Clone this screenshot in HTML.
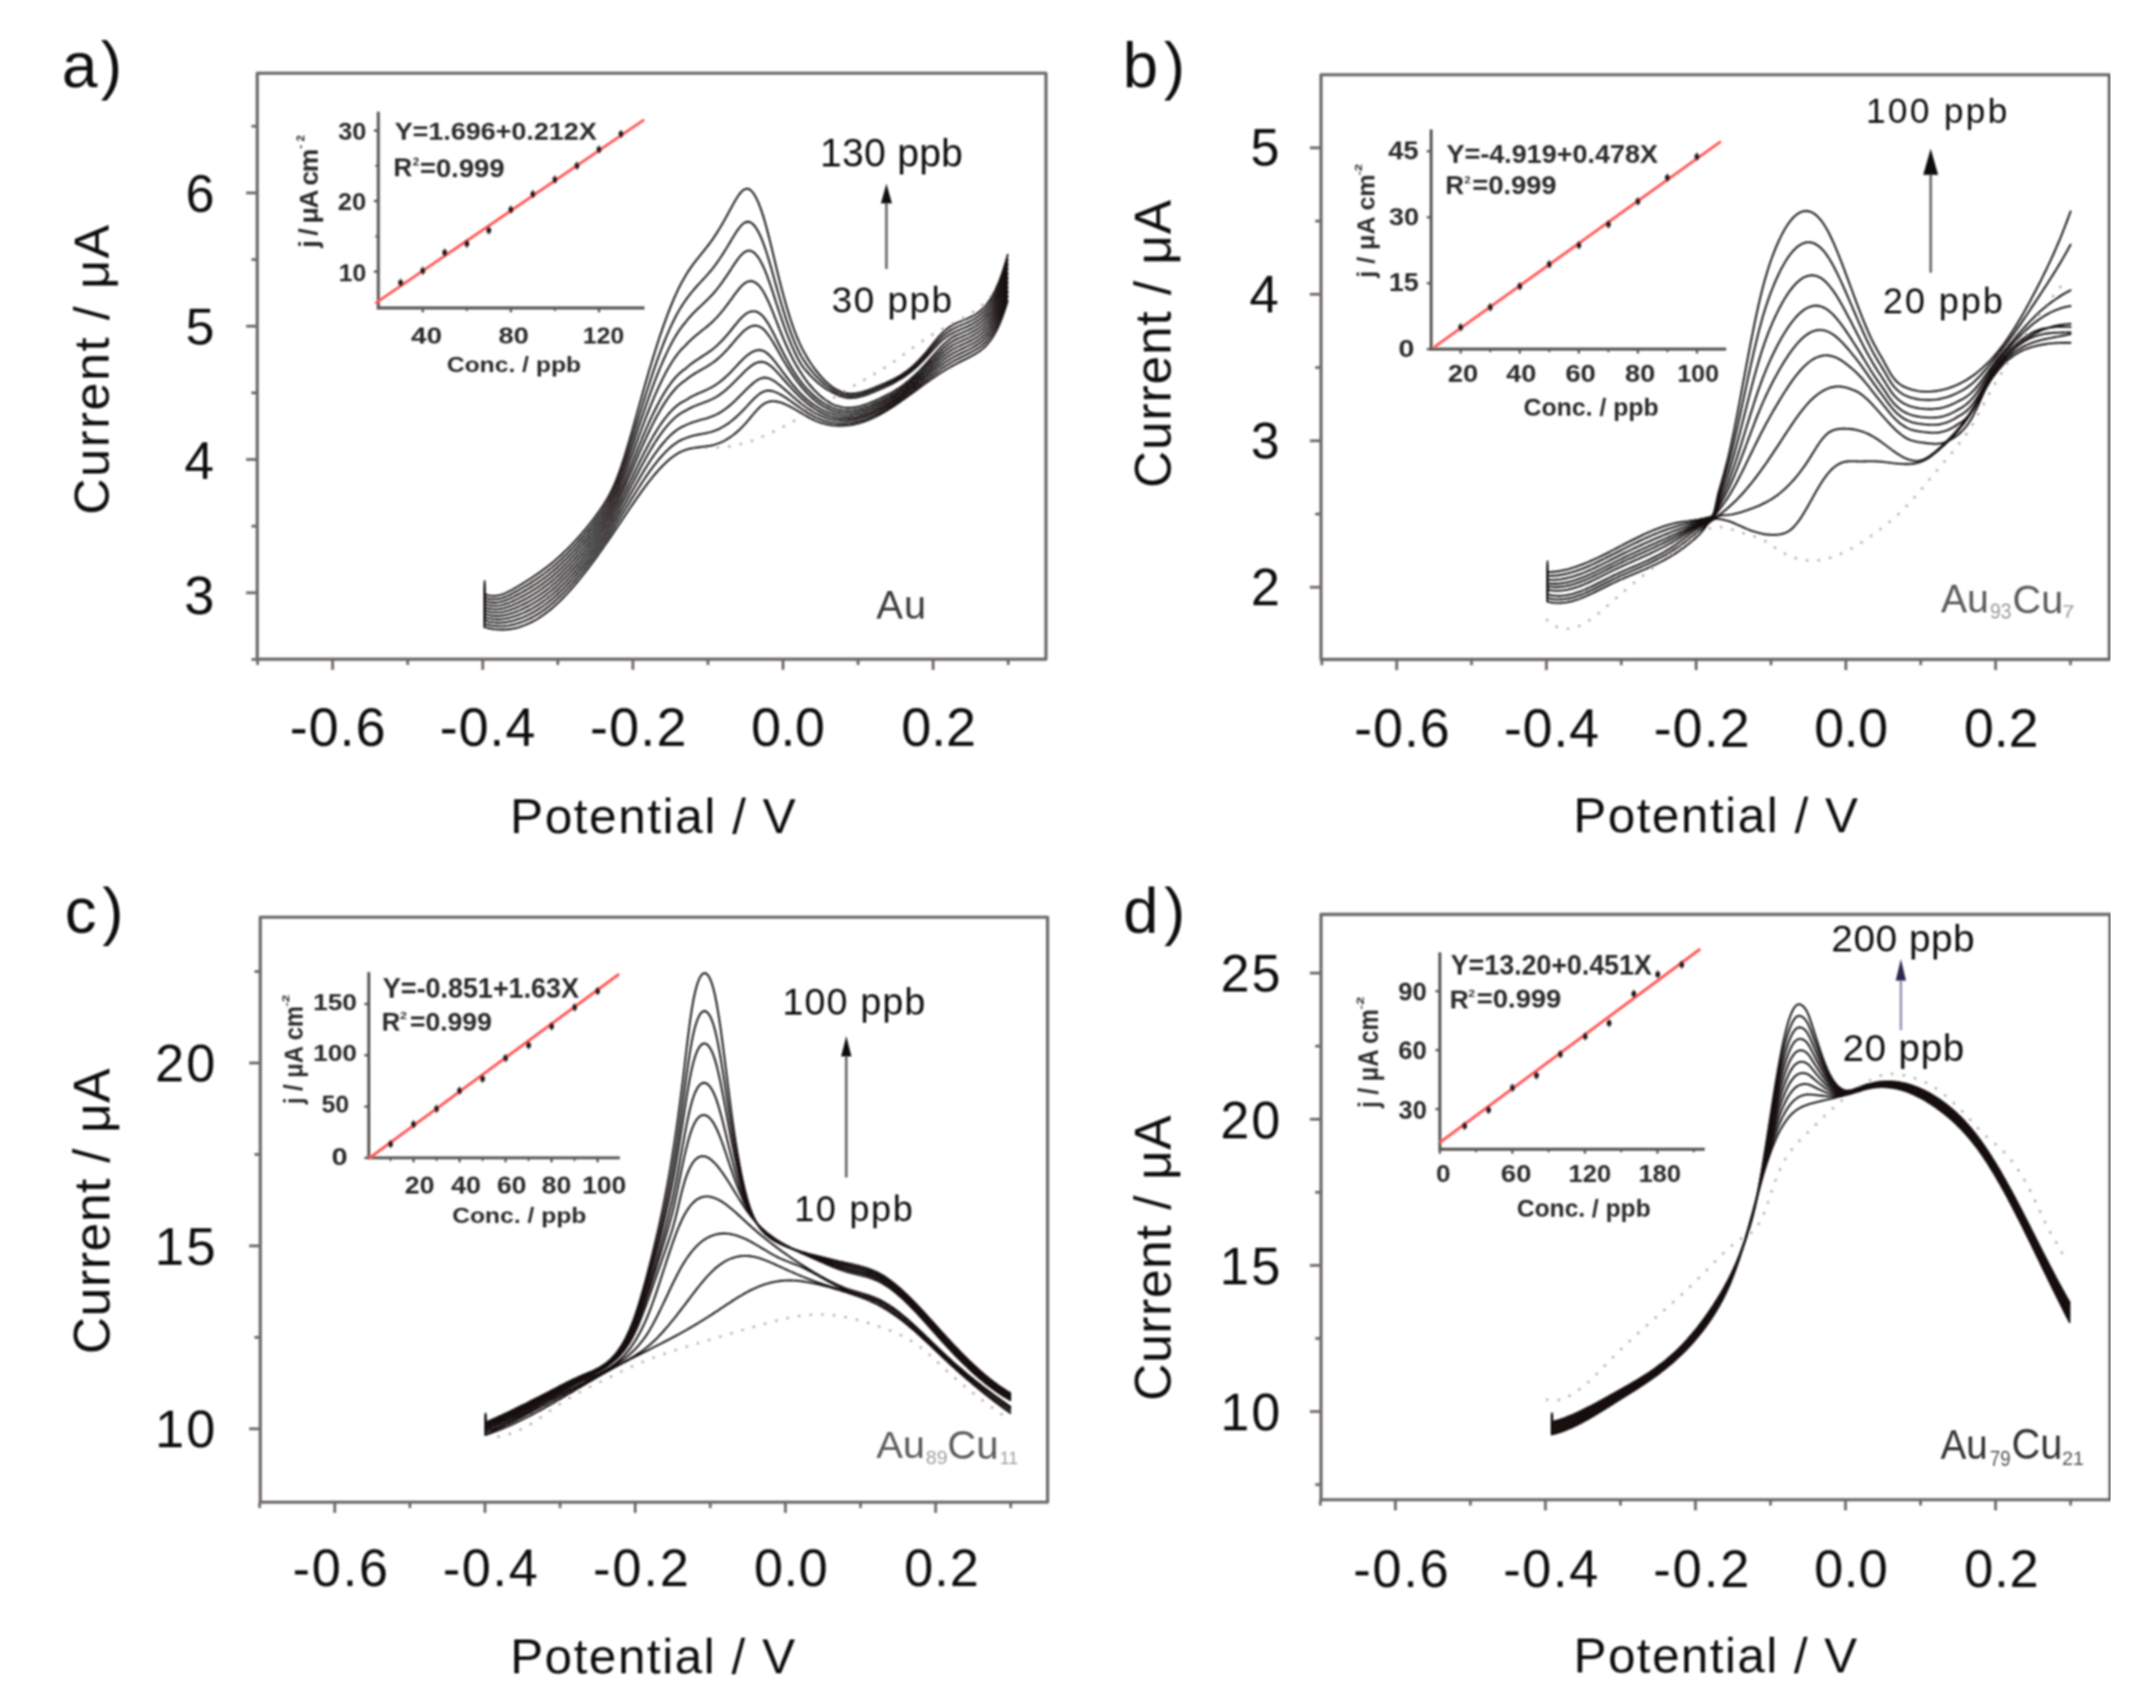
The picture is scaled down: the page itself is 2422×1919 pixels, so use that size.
<!DOCTYPE html><html><head><meta charset="utf-8"><style>html,body{margin:0;padding:0;background:#fff}svg{display:block}</style></head><body><svg width="2422" height="1919" viewBox="0 0 2422 1919">
<defs><filter id="bl" x="0" y="0" width="100%" height="100%"><feGaussianBlur stdDeviation="1.1"/></filter></defs>
<rect width="2422" height="1919" fill="#fff"/>
<g filter="url(#bl)">
<rect x="289" y="82.2" width="886" height="658.4" fill="none" stroke="#6f6b69" stroke-width="3.6" stroke-linejoin="round"/>
<line x1="373.65" y1="740.60" x2="373.65" y2="752.60" stroke="#6f6b69" stroke-width="3.2" stroke-linecap="butt" />
<line x1="542.30" y1="740.60" x2="542.30" y2="752.60" stroke="#6f6b69" stroke-width="3.2" stroke-linecap="butt" />
<line x1="710.95" y1="740.60" x2="710.95" y2="752.60" stroke="#6f6b69" stroke-width="3.2" stroke-linecap="butt" />
<line x1="879.60" y1="740.60" x2="879.60" y2="752.60" stroke="#6f6b69" stroke-width="3.2" stroke-linecap="butt" />
<line x1="1048.25" y1="740.60" x2="1048.25" y2="752.60" stroke="#6f6b69" stroke-width="3.2" stroke-linecap="butt" />
<line x1="289.33" y1="740.60" x2="289.33" y2="747.10" stroke="#6f6b69" stroke-width="3.2" stroke-linecap="butt" />
<line x1="457.98" y1="740.60" x2="457.98" y2="747.10" stroke="#6f6b69" stroke-width="3.2" stroke-linecap="butt" />
<line x1="626.62" y1="740.60" x2="626.62" y2="747.10" stroke="#6f6b69" stroke-width="3.2" stroke-linecap="butt" />
<line x1="795.27" y1="740.60" x2="795.27" y2="747.10" stroke="#6f6b69" stroke-width="3.2" stroke-linecap="butt" />
<line x1="963.93" y1="740.60" x2="963.93" y2="747.10" stroke="#6f6b69" stroke-width="3.2" stroke-linecap="butt" />
<line x1="1132.58" y1="740.60" x2="1132.58" y2="747.10" stroke="#6f6b69" stroke-width="3.2" stroke-linecap="butt" />
<line x1="289.00" y1="666.00" x2="276.50" y2="666.00" stroke="#6f6b69" stroke-width="3.2" stroke-linecap="butt" />
<line x1="289.00" y1="516.25" x2="276.50" y2="516.25" stroke="#6f6b69" stroke-width="3.2" stroke-linecap="butt" />
<line x1="289.00" y1="366.50" x2="276.50" y2="366.50" stroke="#6f6b69" stroke-width="3.2" stroke-linecap="butt" />
<line x1="289.00" y1="216.75" x2="276.50" y2="216.75" stroke="#6f6b69" stroke-width="3.2" stroke-linecap="butt" />
<line x1="289.00" y1="740.88" x2="282.50" y2="740.88" stroke="#6f6b69" stroke-width="3.2" stroke-linecap="butt" />
<line x1="289.00" y1="591.12" x2="282.50" y2="591.12" stroke="#6f6b69" stroke-width="3.2" stroke-linecap="butt" />
<line x1="289.00" y1="441.38" x2="282.50" y2="441.38" stroke="#6f6b69" stroke-width="3.2" stroke-linecap="butt" />
<line x1="289.00" y1="291.62" x2="282.50" y2="291.62" stroke="#6f6b69" stroke-width="3.2" stroke-linecap="butt" />
<line x1="289.00" y1="141.88" x2="282.50" y2="141.88" stroke="#6f6b69" stroke-width="3.2" stroke-linecap="butt" />
<text x="69.42" y="98.38" font-size="71.98" letter-spacing="3.80" font-family="Liberation Sans, Arial, sans-serif"  fill="#111" >a)</text>
<text x="208.49" y="238.42" font-size="58.31" letter-spacing="1.08" font-family="Liberation Sans, Arial, sans-serif"  fill="#111" >6</text>
<text x="208.55" y="386.62" font-size="58.14" letter-spacing="1.10" font-family="Liberation Sans, Arial, sans-serif"  fill="#111" >5</text>
<text x="207.13" y="538.00" font-size="59.57" letter-spacing="1.20" font-family="Liberation Sans, Arial, sans-serif"  fill="#111" >4</text>
<text x="207.11" y="690.19" font-size="60.85" letter-spacing="1.16" font-family="Liberation Sans, Arial, sans-serif"  fill="#111" >3</text>
<text x="325.47" y="838.29" font-size="60.56" letter-spacing="1.16" font-family="Liberation Sans, Arial, sans-serif"  fill="#111" >-0.6</text>
<text x="494.12" y="838.29" font-size="60.56" letter-spacing="0.96" font-family="Liberation Sans, Arial, sans-serif"  fill="#111" >-0.4</text>
<text x="662.77" y="838.29" font-size="60.56" letter-spacing="1.36" font-family="Liberation Sans, Arial, sans-serif"  fill="#111" >-0.2</text>
<text x="843.73" y="838.29" font-size="60.56" letter-spacing="-0.57" font-family="Liberation Sans, Arial, sans-serif"  fill="#111" >0.0</text>
<text x="1012.38" y="838.29" font-size="60.56" letter-spacing="-0.12" font-family="Liberation Sans, Arial, sans-serif"  fill="#111" >0.2</text>
<text x="573.05" y="935.74" font-size="55.65" letter-spacing="1.74" font-family="Liberation Sans, Arial, sans-serif"  fill="#111" >Potential / V</text>
<text transform="translate(122.11,578.21) rotate(-90)" font-size="56.28" letter-spacing="1.91" font-family="Liberation Sans, Arial, sans-serif"  fill="#111" >Current / μA</text>
<line x1="425.00" y1="125.50" x2="425.00" y2="347.50" stroke="#5b5754" stroke-width="3.4" stroke-linecap="butt" />
<line x1="423.50" y1="346.00" x2="724.00" y2="346.00" stroke="#5b5754" stroke-width="3.4" stroke-linecap="butt" />
<line x1="474.90" y1="346.00" x2="474.90" y2="351.00" stroke="#5b5754" stroke-width="2.6" stroke-linecap="butt" />
<line x1="573.90" y1="346.00" x2="573.90" y2="351.00" stroke="#5b5754" stroke-width="2.6" stroke-linecap="butt" />
<line x1="672.90" y1="346.00" x2="672.90" y2="351.00" stroke="#5b5754" stroke-width="2.6" stroke-linecap="butt" />
<line x1="524.40" y1="346.00" x2="524.40" y2="349.50" stroke="#5b5754" stroke-width="2.2" stroke-linecap="butt" />
<line x1="623.40" y1="346.00" x2="623.40" y2="349.50" stroke="#5b5754" stroke-width="2.2" stroke-linecap="butt" />
<line x1="425.00" y1="305.10" x2="420.00" y2="305.10" stroke="#5b5754" stroke-width="2.6" stroke-linecap="butt" />
<line x1="425.00" y1="225.90" x2="420.00" y2="225.90" stroke="#5b5754" stroke-width="2.6" stroke-linecap="butt" />
<line x1="425.00" y1="146.70" x2="420.00" y2="146.70" stroke="#5b5754" stroke-width="2.6" stroke-linecap="butt" />
<line x1="425.00" y1="265.50" x2="421.50" y2="265.50" stroke="#5b5754" stroke-width="2.2" stroke-linecap="butt" />
<line x1="425.00" y1="186.30" x2="421.50" y2="186.30" stroke="#5b5754" stroke-width="2.2" stroke-linecap="butt" />
<line x1="422.70" y1="340.00" x2="722.50" y2="135.30" stroke="#ff5a5a" stroke-width="3.2" stroke-linecap="round" />
<line x1="450.15" y1="313.20" x2="450.15" y2="322.20" stroke="#222" stroke-width="1.6" stroke-linecap="butt" />
<rect x="447.5" y="315.1" width="5.2" height="5.2" fill="#1a1a1a"/>
<line x1="474.90" y1="299.70" x2="474.90" y2="308.70" stroke="#222" stroke-width="1.6" stroke-linecap="butt" />
<rect x="472.3" y="301.6" width="5.2" height="5.2" fill="#1a1a1a"/>
<line x1="499.65" y1="279.40" x2="499.65" y2="288.40" stroke="#222" stroke-width="1.6" stroke-linecap="butt" />
<rect x="497.0" y="281.3" width="5.2" height="5.2" fill="#1a1a1a"/>
<line x1="524.40" y1="269.30" x2="524.40" y2="278.30" stroke="#222" stroke-width="1.6" stroke-linecap="butt" />
<rect x="521.8" y="271.2" width="5.2" height="5.2" fill="#1a1a1a"/>
<line x1="549.15" y1="254.30" x2="549.15" y2="263.30" stroke="#222" stroke-width="1.6" stroke-linecap="butt" />
<rect x="546.5" y="256.2" width="5.2" height="5.2" fill="#1a1a1a"/>
<line x1="573.90" y1="231.10" x2="573.90" y2="240.10" stroke="#222" stroke-width="1.6" stroke-linecap="butt" />
<rect x="571.3" y="233.0" width="5.2" height="5.2" fill="#1a1a1a"/>
<line x1="598.65" y1="213.70" x2="598.65" y2="222.70" stroke="#222" stroke-width="1.6" stroke-linecap="butt" />
<rect x="596.0" y="215.6" width="5.2" height="5.2" fill="#1a1a1a"/>
<line x1="623.40" y1="197.30" x2="623.40" y2="206.30" stroke="#222" stroke-width="1.6" stroke-linecap="butt" />
<rect x="620.8" y="199.2" width="5.2" height="5.2" fill="#1a1a1a"/>
<line x1="648.15" y1="181.80" x2="648.15" y2="190.80" stroke="#222" stroke-width="1.6" stroke-linecap="butt" />
<rect x="645.5" y="183.7" width="5.2" height="5.2" fill="#1a1a1a"/>
<line x1="672.90" y1="163.50" x2="672.90" y2="172.50" stroke="#222" stroke-width="1.6" stroke-linecap="butt" />
<rect x="670.3" y="165.4" width="5.2" height="5.2" fill="#1a1a1a"/>
<line x1="697.65" y1="146.10" x2="697.65" y2="155.10" stroke="#222" stroke-width="1.6" stroke-linecap="butt" />
<rect x="695.0" y="148.0" width="5.2" height="5.2" fill="#1a1a1a"/>
<text transform="translate(379.89,157.02) scale(1.0157,1)" font-size="27.89" font-family="Liberation Sans, Arial, sans-serif" font-weight="bold" fill="#2a2a2a" >30</text>
<text transform="translate(379.60,236.23) scale(1.0521,1)" font-size="27.18" font-family="Liberation Sans, Arial, sans-serif" font-weight="bold" fill="#2a2a2a" >20</text>
<text transform="translate(380.54,316.43) scale(1.0252,1)" font-size="27.04" font-family="Liberation Sans, Arial, sans-serif" font-weight="bold" fill="#2a2a2a" >10</text>
<text transform="translate(461.83,386.04) scale(1.2099,1)" font-size="25.77" font-family="Liberation Sans, Arial, sans-serif" font-weight="bold" fill="#2a2a2a" >40</text>
<text transform="translate(559.98,386.04) scale(1.1900,1)" font-size="25.77" font-family="Liberation Sans, Arial, sans-serif" font-weight="bold" fill="#2a2a2a" >80</text>
<text transform="translate(654.83,386.04) scale(1.0784,1)" font-size="25.77" font-family="Liberation Sans, Arial, sans-serif" font-weight="bold" fill="#2a2a2a" >120</text>
<text transform="translate(501.89,417.79) scale(1.1170,1)" font-size="24.81" font-family="Liberation Sans, Arial, sans-serif" font-weight="bold" fill="#2a2a2a" >Conc. / ppb</text>
<text transform="translate(443.40,157.02) scale(1.0842,1)" font-size="27.89" font-family="Liberation Sans, Arial, sans-serif" font-weight="bold" fill="#2a2a2a" >Y=1.696+0.212X</text>
<text transform="translate(442.11,198.30) scale(0.9711,1)" font-size="30.00" font-family="Liberation Sans, Arial, sans-serif" font-weight="bold" fill="#2a2a2a" >R</text>
<text transform="translate(463.85,186.30) scale(1.0393,1)" font-size="12.43" font-family="Liberation Sans, Arial, sans-serif" font-weight="bold" fill="#2a2a2a" >2</text>
<text transform="translate(471.77,198.60) scale(1.0266,1)" font-size="30.00" font-family="Liberation Sans, Arial, sans-serif" font-weight="bold" fill="#2a2a2a" >=0.999</text>
<text transform="translate(357.48,278.36) rotate(-90)" font-size="29.63" letter-spacing="-1.40" font-family="Liberation Sans, Arial, sans-serif" font-weight="bold" fill="#2a2a2a" >j / μA cm</text>
<text transform="translate(341.50,166.91) rotate(-90)" font-size="12.86" letter-spacing="3.69" font-family="Liberation Sans, Arial, sans-serif" font-weight="bold" fill="#2a2a2a" >-2</text>
<text x="921.33" y="186.94" font-size="43.64" letter-spacing="0.43" font-family="Liberation Sans, Arial, sans-serif"  fill="#111" >130 ppb</text>
<text x="934.14" y="351.11" font-size="41.39" letter-spacing="1.77" font-family="Liberation Sans, Arial, sans-serif"  fill="#111" >30 ppb</text>
<line x1="995.80" y1="227.40" x2="995.80" y2="302.20" stroke="#6d6966" stroke-width="3.0" stroke-linecap="butt" />
<polygon points="995.8,206.6 989.6,228.4 1002.0,228.4" fill="#111"/>
<text x="984.40" y="695.35" font-size="44.71" letter-spacing="1.26" font-family="Liberation Sans, Arial, sans-serif"  fill="#3a3a3a" >Au</text>
<path d="M780.0,502.5 L782.0,502.6 L784.0,502.6 L786.0,502.7 L788.0,502.7 L790.0,502.7 L792.0,502.8 L794.0,502.8 L796.0,502.8 L798.0,502.8 L800.0,502.8 L802.0,502.8 L804.0,502.7 L806.0,502.6 L808.0,502.5 L810.0,502.4 L812.0,502.3 L814.0,502.1 L816.0,501.9 L818.0,501.7 L820.0,501.4 L822.0,501.1 L824.0,500.7 L826.0,500.4 L828.0,500.0 L830.0,499.5 L832.0,499.0 L834.0,498.5 L836.0,498.0 L838.0,497.4 L840.0,496.7 L842.0,496.1 L844.0,495.4 L846.0,494.7 L848.0,494.0 L850.0,493.2 L852.0,492.4 L854.0,491.6 L856.0,490.8 L858.0,489.9 L860.0,489.0 L862.0,488.1 L864.0,487.2 L866.0,486.3 L868.0,485.3 L870.0,484.4 L872.0,483.4 L874.0,482.4 L876.0,481.4 L878.0,480.4 L880.0,479.3 L882.0,478.3 L884.0,477.2 L886.0,476.1 L888.0,475.1 L890.0,474.0 L892.0,472.9 L894.0,471.8 L896.0,470.6 L898.0,469.5 L900.0,468.4 L902.0,467.2 L904.0,466.1 L906.0,464.9 L908.0,463.7 L910.0,462.6 L912.0,461.4 L914.0,460.2 L916.0,459.0 L918.0,457.8 L920.0,456.6 L922.0,455.4 L924.0,454.2 L926.0,453.0 L928.0,451.9 L930.0,450.7 L932.0,449.5 L934.0,448.3 L936.0,447.1 L938.0,445.9 L940.0,444.7 L942.0,443.5 L944.0,442.3 L946.0,441.1 L948.0,439.9 L950.0,438.7 L952.0,437.6 L954.0,436.4 L956.0,435.2 L958.0,434.1 L960.0,432.9 L962.0,431.8 L964.0,430.7 L966.0,429.5 L968.0,428.4 L970.0,427.3 L972.0,426.1 L974.0,425.0 L976.0,423.8 L978.0,422.7 L980.0,421.5 L982.0,420.3 L984.0,419.1 L986.0,417.9 L988.0,416.7 L990.0,415.5 L992.0,414.2 L994.0,413.0 L996.0,411.7 L998.0,410.4 L1000.0,409.0 L1002.0,407.7 L1004.0,406.3 L1006.0,404.9 L1008.0,403.5 L1010.0,402.0 L1012.0,400.6 L1014.0,399.1 L1016.0,397.7 L1018.0,396.2 L1020.0,394.7 L1022.0,393.3 L1024.0,391.8 L1026.0,390.3 L1028.0,388.9 L1030.0,387.4 L1032.0,386.0 L1034.0,384.6 L1036.0,383.2 L1038.0,381.9 L1040.0,380.6 L1042.0,379.3 L1044.0,378.0 L1046.0,376.8 L1048.0,375.6 L1050.0,374.4 L1052.0,373.3 L1054.0,372.1 L1056.0,371.0 L1058.0,370.0 L1060.0,368.9 L1062.0,367.9 L1064.0,366.8 L1066.0,365.8 L1068.0,364.8 L1070.0,363.7 L1072.0,362.7 L1074.0,361.7 L1076.0,360.6 L1078.0,359.5 L1080.0,358.4 L1082.0,357.3 L1084.0,356.2 L1086.0,355.1 L1088.0,353.9 L1090.0,352.6 L1092.0,351.4 L1094.0,350.1 L1096.0,348.7 L1098.0,347.3 L1100.0,345.7 L1102.0,344.1 L1104.0,342.4 L1106.0,340.6 L1108.0,338.7 L1110.0,336.7 L1112.0,334.5 L1114.0,332.2 L1116.0,329.7 L1118.0,327.1 L1120.0,324.3 L1122.0,321.3 L1124.0,318.1 L1126.0,314.8 L1128.0,311.2 L1130.0,307.4 L1132.0,303.4" fill="none" stroke="#b9b6b4" stroke-width="3.2" stroke-dasharray="0.1 13" stroke-linecap="round"/>
<path d="M544.5,653.0 L544.0,667.0 L546.0,668.0 L548.0,668.7 L550.0,669.2 L552.0,669.5 L554.0,669.6 L556.0,669.6 L558.0,669.4 L560.0,669.0 L562.0,668.5 L564.0,667.9 L566.0,667.2 L568.0,666.4 L570.0,665.4 L572.0,664.4 L574.0,663.4 L576.0,662.3 L578.0,661.1 L580.0,659.9 L582.0,658.8 L584.0,657.6 L586.0,656.3 L588.0,655.1 L590.0,653.9 L592.0,652.6 L594.0,651.4 L596.0,650.1 L598.0,648.8 L600.0,647.4 L602.0,646.1 L604.0,644.7 L606.0,643.3 L608.0,641.9 L610.0,640.4 L612.0,638.9 L614.0,637.4 L616.0,635.8 L618.0,634.3 L620.0,632.6 L622.0,631.0 L624.0,629.2 L626.0,627.5 L628.0,625.7 L630.0,623.9 L632.0,622.0 L634.0,620.1 L636.0,618.2 L638.0,616.2 L640.0,614.2 L642.0,612.1 L644.0,610.0 L646.0,607.9 L648.0,605.7 L650.0,603.5 L652.0,601.2 L654.0,598.9 L656.0,596.5 L658.0,594.1 L660.0,591.7 L662.0,589.2 L664.0,586.7 L666.0,584.1 L668.0,581.4 L670.0,578.7 L672.0,575.9 L674.0,573.0 L676.0,570.1 L678.0,567.0 L680.0,563.8 L682.0,560.5 L684.0,556.9 L686.0,553.1 L688.0,549.0 L690.0,544.6 L692.0,539.8 L694.0,534.7 L696.0,529.3 L698.0,523.5 L700.0,517.5 L702.0,511.2 L704.0,504.6 L706.0,498.0 L708.0,491.1 L710.0,484.2 L712.0,477.1 L714.0,470.1 L716.0,462.9 L718.0,455.8 L720.0,448.7 L722.0,441.6 L724.0,434.5 L726.0,427.6 L728.0,420.6 L730.0,413.8 L732.0,407.2 L734.0,400.6 L736.0,394.2 L738.0,387.9 L740.0,381.7 L742.0,375.7 L744.0,369.8 L746.0,364.1 L748.0,358.6 L750.0,353.2 L752.0,348.0 L754.0,343.0 L756.0,338.1 L758.0,333.5 L760.0,329.1 L762.0,324.8 L764.0,320.8 L766.0,317.0 L768.0,313.4 L770.0,309.9 L772.0,306.7 L774.0,303.7 L776.0,300.7 L778.0,297.9 L780.0,295.2 L782.0,292.6 L784.0,290.1 L786.0,287.6 L788.0,285.1 L790.0,282.6 L792.0,280.1 L794.0,277.6 L796.0,275.0 L798.0,272.3 L800.0,269.6 L802.0,266.7 L804.0,263.7 L806.0,260.6 L808.0,257.3 L810.0,254.0 L812.0,250.5 L814.0,247.0 L816.0,243.4 L818.0,239.8 L820.0,236.1 L822.0,232.5 L824.0,228.8 L826.0,225.3 L828.0,222.0 L830.0,219.0 L832.0,216.5 L834.0,214.4 L836.0,212.9 L838.0,212.1 L840.0,212.1 L842.0,212.8 L844.0,214.4 L846.0,216.6 L848.0,219.7 L850.0,223.4 L852.0,227.8 L854.0,232.9 L856.0,238.6 L858.0,244.9 L860.0,251.8 L862.0,259.1 L864.0,266.9 L866.0,275.0 L868.0,283.2 L870.0,291.6 L872.0,299.9 L874.0,308.2 L876.0,316.3 L878.0,324.1 L880.0,331.6 L882.0,338.8 L884.0,345.8 L886.0,352.4 L888.0,358.7 L890.0,364.6 L892.0,370.3 L894.0,375.6 L896.0,380.5 L898.0,385.1 L900.0,389.4 L902.0,393.4 L904.0,397.1 L906.0,400.6 L908.0,403.9 L910.0,407.0 L912.0,410.0 L914.0,412.8 L916.0,415.5 L918.0,418.0 L920.0,420.5 L922.0,422.8 L924.0,425.0 L926.0,427.0 L928.0,428.9 L930.0,430.7 L932.0,432.4 L934.0,434.0 L936.0,435.4 L938.0,436.7 L940.0,437.8 L942.0,438.8 L944.0,439.7 L946.0,440.5 L948.0,441.1 L950.0,441.5 L952.0,441.9 L954.0,442.1 L956.0,442.2 L958.0,442.1 L960.0,442.0 L962.0,441.8 L964.0,441.4 L966.0,441.0 L968.0,440.5 L970.0,440.0 L972.0,439.3 L974.0,438.7 L976.0,438.0 L978.0,437.2 L980.0,436.4 L982.0,435.6 L984.0,434.8 L986.0,434.0 L988.0,433.1 L990.0,432.3 L992.0,431.4 L994.0,430.6 L996.0,429.7 L998.0,428.8 L1000.0,427.9 L1002.0,426.9 L1004.0,425.9 L1006.0,424.8 L1008.0,423.7 L1010.0,422.6 L1012.0,421.4 L1014.0,420.1 L1016.0,418.7 L1018.0,417.3 L1020.0,415.8 L1022.0,414.2 L1024.0,412.5 L1026.0,410.8 L1028.0,408.9 L1030.0,407.0 L1032.0,404.9 L1034.0,402.8 L1036.0,400.7 L1038.0,398.4 L1040.0,396.1 L1042.0,393.7 L1044.0,391.2 L1046.0,388.7 L1048.0,386.2 L1050.0,383.7 L1052.0,381.3 L1054.0,378.9 L1056.0,376.7 L1058.0,374.6 L1060.0,372.6 L1062.0,370.8 L1064.0,369.3 L1066.0,367.8 L1068.0,366.5 L1070.0,365.4 L1072.0,364.3 L1074.0,363.3 L1076.0,362.4 L1078.0,361.6 L1080.0,360.7 L1082.0,359.9 L1084.0,359.1 L1086.0,358.3 L1088.0,357.4 L1090.0,356.5 L1092.0,355.4 L1094.0,354.3 L1096.0,353.1 L1098.0,351.8 L1100.0,350.3 L1102.0,348.6 L1104.0,346.8 L1106.0,344.7 L1108.0,342.4 L1110.0,339.8 L1112.0,336.9 L1114.0,333.6 L1116.0,330.1 L1118.0,326.1 L1120.0,321.8 L1122.0,317.1 L1124.0,311.9 L1126.0,306.3 L1128.0,300.1 L1130.0,293.5 L1132.0,286.3" fill="none" stroke="#161212" stroke-opacity="1.0" stroke-width="2.1" stroke-linejoin="round" stroke-linecap="round" />
<path d="M544.5,656.8 L544.0,670.8 L546.0,671.7 L548.0,672.4 L550.0,672.9 L552.0,673.2 L554.0,673.4 L556.0,673.3 L558.0,673.2 L560.0,672.9 L562.0,672.4 L564.0,671.9 L566.0,671.2 L568.0,670.5 L570.0,669.6 L572.0,668.7 L574.0,667.7 L576.0,666.7 L578.0,665.6 L580.0,664.5 L582.0,663.4 L584.0,662.2 L586.0,661.1 L588.0,659.9 L590.0,658.7 L592.0,657.5 L594.0,656.3 L596.0,655.0 L598.0,653.7 L600.0,652.4 L602.0,651.1 L604.0,649.7 L606.0,648.4 L608.0,646.9 L610.0,645.5 L612.0,644.0 L614.0,642.5 L616.0,640.9 L618.0,639.3 L620.0,637.7 L622.0,636.0 L624.0,634.3 L626.0,632.6 L628.0,630.8 L630.0,628.9 L632.0,627.0 L634.0,625.1 L636.0,623.2 L638.0,621.2 L640.0,619.1 L642.0,617.1 L644.0,614.9 L646.0,612.8 L648.0,610.6 L650.0,608.3 L652.0,606.0 L654.0,603.7 L656.0,601.4 L658.0,598.9 L660.0,596.5 L662.0,594.0 L664.0,591.4 L666.0,588.8 L668.0,586.1 L670.0,583.4 L672.0,580.6 L674.0,577.8 L676.0,574.8 L678.0,571.8 L680.0,568.6 L682.0,565.3 L684.0,561.8 L686.0,558.1 L688.0,554.1 L690.0,549.9 L692.0,545.4 L694.0,540.5 L696.0,535.4 L698.0,530.0 L700.0,524.3 L702.0,518.4 L704.0,512.4 L706.0,506.2 L708.0,499.8 L710.0,493.4 L712.0,486.9 L714.0,480.4 L716.0,473.9 L718.0,467.3 L720.0,460.8 L722.0,454.3 L724.0,447.9 L726.0,441.5 L728.0,435.3 L730.0,429.1 L732.0,423.1 L734.0,417.1 L736.0,411.3 L738.0,405.7 L740.0,400.2 L742.0,394.8 L744.0,389.6 L746.0,384.5 L748.0,379.6 L750.0,374.9 L752.0,370.3 L754.0,365.9 L756.0,361.7 L758.0,357.7 L760.0,353.8 L762.0,350.2 L764.0,346.8 L766.0,343.6 L768.0,340.5 L770.0,337.7 L772.0,334.9 L774.0,332.2 L776.0,329.6 L778.0,327.1 L780.0,324.8 L782.0,322.5 L784.0,320.3 L786.0,318.1 L788.0,315.9 L790.0,313.7 L792.0,311.6 L794.0,309.4 L796.0,307.1 L798.0,304.8 L800.0,302.3 L802.0,299.8 L804.0,297.2 L806.0,294.4 L808.0,291.5 L810.0,288.5 L812.0,285.4 L814.0,282.2 L816.0,279.0 L818.0,275.7 L820.0,272.4 L822.0,269.0 L824.0,265.7 L826.0,262.5 L828.0,259.4 L830.0,256.6 L832.0,254.1 L834.0,252.0 L836.0,250.5 L838.0,249.5 L840.0,249.1 L842.0,249.4 L844.0,250.4 L846.0,252.0 L848.0,254.3 L850.0,257.2 L852.0,260.6 L854.0,264.7 L856.0,269.4 L858.0,274.6 L860.0,280.3 L862.0,286.5 L864.0,293.1 L866.0,299.9 L868.0,307.0 L870.0,314.2 L872.0,321.4 L874.0,328.5 L876.0,335.5 L878.0,342.3 L880.0,348.9 L882.0,355.2 L884.0,361.3 L886.0,367.1 L888.0,372.6 L890.0,377.9 L892.0,382.9 L894.0,387.6 L896.0,392.0 L898.0,396.1 L900.0,400.0 L902.0,403.3 L904.0,406.4 L906.0,409.3 L908.0,412.0 L910.0,414.6 L912.0,417.1 L914.0,419.4 L916.0,421.7 L918.0,423.8 L920.0,425.9 L922.0,427.8 L924.0,429.6 L926.0,431.4 L928.0,433.0 L930.0,434.5 L932.0,435.9 L934.0,437.1 L936.0,438.4 L938.0,439.6 L940.0,440.7 L942.0,441.6 L944.0,442.4 L946.0,443.1 L948.0,443.7 L950.0,444.1 L952.0,444.4 L954.0,444.6 L956.0,444.6 L958.0,444.6 L960.0,444.4 L962.0,444.2 L964.0,443.8 L966.0,443.4 L968.0,442.9 L970.0,442.3 L972.0,441.7 L974.0,441.0 L976.0,440.3 L978.0,439.6 L980.0,438.8 L982.0,437.9 L984.0,437.1 L986.0,436.3 L988.0,435.4 L990.0,434.6 L992.0,433.7 L994.0,432.8 L996.0,431.9 L998.0,431.0 L1000.0,430.0 L1002.0,429.1 L1004.0,428.0 L1006.0,427.0 L1008.0,425.8 L1010.0,424.7 L1012.0,423.5 L1014.0,422.2 L1016.0,420.9 L1018.0,419.5 L1020.0,418.0 L1022.0,416.5 L1024.0,414.8 L1026.0,413.1 L1028.0,411.3 L1030.0,409.4 L1032.0,407.5 L1034.0,405.5 L1036.0,403.4 L1038.0,401.2 L1040.0,399.0 L1042.0,396.7 L1044.0,394.4 L1046.0,392.0 L1048.0,389.6 L1050.0,387.3 L1052.0,385.0 L1054.0,382.8 L1056.0,380.6 L1058.0,378.7 L1060.0,376.8 L1062.0,375.1 L1064.0,373.6 L1066.0,372.3 L1068.0,371.0 L1070.0,369.9 L1072.0,368.9 L1074.0,367.9 L1076.0,366.9 L1078.0,366.1 L1080.0,365.2 L1082.0,364.4 L1084.0,363.6 L1086.0,362.7 L1088.0,361.8 L1090.0,360.9 L1092.0,359.9 L1094.0,358.8 L1096.0,357.6 L1098.0,356.2 L1100.0,354.7 L1102.0,353.1 L1104.0,351.3 L1106.0,349.2 L1108.0,346.9 L1110.0,344.3 L1112.0,341.5 L1114.0,338.3 L1116.0,334.8 L1118.0,330.9 L1120.0,326.7 L1122.0,322.0 L1124.0,316.8 L1126.0,311.3 L1128.0,305.2 L1130.0,298.6 L1132.0,291.5" fill="none" stroke="#161212" stroke-opacity="1.0" stroke-width="2.1" stroke-linejoin="round" stroke-linecap="round" />
<path d="M544.5,660.5 L544.0,674.5 L546.0,675.4 L548.0,676.1 L550.0,676.6 L552.0,676.9 L554.0,677.1 L556.0,677.1 L558.0,677.0 L560.0,676.7 L562.0,676.3 L564.0,675.8 L566.0,675.2 L568.0,674.5 L570.0,673.8 L572.0,672.9 L574.0,672.0 L576.0,671.1 L578.0,670.1 L580.0,669.0 L582.0,668.0 L584.0,666.9 L586.0,665.8 L588.0,664.7 L590.0,663.5 L592.0,662.4 L594.0,661.2 L596.0,660.0 L598.0,658.7 L600.0,657.4 L602.0,656.1 L604.0,654.8 L606.0,653.4 L608.0,652.0 L610.0,650.6 L612.0,649.1 L614.0,647.6 L616.0,646.0 L618.0,644.4 L620.0,642.8 L622.0,641.1 L624.0,639.4 L626.0,637.6 L628.0,635.8 L630.0,634.0 L632.0,632.1 L634.0,630.1 L636.0,628.2 L638.0,626.1 L640.0,624.1 L642.0,622.0 L644.0,619.9 L646.0,617.7 L648.0,615.5 L650.0,613.2 L652.0,610.9 L654.0,608.5 L656.0,606.2 L658.0,603.7 L660.0,601.3 L662.0,598.7 L664.0,596.2 L666.0,593.6 L668.0,590.9 L670.0,588.1 L672.0,585.4 L674.0,582.5 L676.0,579.6 L678.0,576.6 L680.0,573.5 L682.0,570.2 L684.0,566.8 L686.0,563.1 L688.0,559.3 L690.0,555.2 L692.0,550.9 L694.0,546.3 L696.0,541.4 L698.0,536.3 L700.0,531.0 L702.0,525.5 L704.0,519.9 L706.0,514.1 L708.0,508.2 L710.0,502.3 L712.0,496.3 L714.0,490.2 L716.0,484.2 L718.0,478.2 L720.0,472.2 L722.0,466.3 L724.0,460.4 L726.0,454.6 L728.0,448.9 L730.0,443.3 L732.0,437.8 L734.0,432.4 L736.0,427.2 L738.0,422.1 L740.0,417.1 L742.0,412.2 L744.0,407.6 L746.0,403.0 L748.0,398.6 L750.0,394.4 L752.0,390.4 L754.0,386.5 L756.0,382.8 L758.0,379.3 L760.0,375.9 L762.0,372.8 L764.0,369.8 L766.0,367.1 L768.0,364.5 L770.0,362.2 L772.0,359.6 L774.0,357.2 L776.0,355.0 L778.0,352.8 L780.0,350.8 L782.0,348.8 L784.0,346.8 L786.0,344.9 L788.0,343.0 L790.0,341.2 L792.0,339.3 L794.0,337.3 L796.0,335.4 L798.0,333.3 L800.0,331.2 L802.0,329.0 L804.0,326.6 L806.0,324.1 L808.0,321.6 L810.0,318.9 L812.0,316.1 L814.0,313.2 L816.0,310.3 L818.0,307.3 L820.0,304.3 L822.0,301.2 L824.0,298.2 L826.0,295.2 L828.0,292.3 L830.0,289.6 L832.0,287.2 L834.0,285.2 L836.0,283.5 L838.0,282.4 L840.0,281.7 L842.0,281.6 L844.0,282.1 L846.0,283.2 L848.0,284.7 L850.0,286.9 L852.0,289.5 L854.0,292.7 L856.0,296.5 L858.0,300.7 L860.0,305.4 L862.0,310.6 L864.0,316.1 L866.0,321.9 L868.0,327.9 L870.0,334.1 L872.0,340.3 L874.0,346.4 L876.0,352.5 L878.0,358.4 L880.0,364.1 L882.0,369.6 L884.0,375.0 L886.0,380.1 L888.0,384.9 L890.0,389.6 L892.0,394.0 L894.0,398.2 L896.0,402.2 L898.0,405.9 L900.0,409.3 L902.0,412.0 L904.0,414.6 L906.0,417.0 L908.0,419.3 L910.0,421.5 L912.0,423.5 L914.0,425.5 L916.0,427.4 L918.0,429.2 L920.0,430.9 L922.0,432.5 L924.0,434.1 L926.0,435.5 L928.0,436.8 L930.0,438.1 L932.0,439.2 L934.0,440.3 L936.0,441.3 L938.0,442.5 L940.0,443.5 L942.0,444.4 L944.0,445.1 L946.0,445.8 L948.0,446.3 L950.0,446.7 L952.0,446.9 L954.0,447.1 L956.0,447.1 L958.0,447.0 L960.0,446.9 L962.0,446.6 L964.0,446.2 L966.0,445.8 L968.0,445.3 L970.0,444.7 L972.0,444.1 L974.0,443.4 L976.0,442.7 L978.0,441.9 L980.0,441.1 L982.0,440.3 L984.0,439.4 L986.0,438.6 L988.0,437.7 L990.0,436.9 L992.0,436.0 L994.0,435.1 L996.0,434.1 L998.0,433.2 L1000.0,432.2 L1002.0,431.2 L1004.0,430.2 L1006.0,429.1 L1008.0,427.9 L1010.0,426.7 L1012.0,425.6 L1014.0,424.3 L1016.0,423.0 L1018.0,421.7 L1020.0,420.2 L1022.0,418.7 L1024.0,417.1 L1026.0,415.5 L1028.0,413.7 L1030.0,411.9 L1032.0,410.0 L1034.0,408.1 L1036.0,406.1 L1038.0,404.0 L1040.0,401.9 L1042.0,399.8 L1044.0,397.5 L1046.0,395.3 L1048.0,393.1 L1050.0,390.9 L1052.0,388.7 L1054.0,386.6 L1056.0,384.6 L1058.0,382.7 L1060.0,381.0 L1062.0,379.4 L1064.0,378.0 L1066.0,376.7 L1068.0,375.6 L1070.0,374.5 L1072.0,373.4 L1074.0,372.4 L1076.0,371.5 L1078.0,370.6 L1080.0,369.7 L1082.0,368.9 L1084.0,368.0 L1086.0,367.2 L1088.0,366.3 L1090.0,365.3 L1092.0,364.3 L1094.0,363.2 L1096.0,362.0 L1098.0,360.7 L1100.0,359.2 L1102.0,357.6 L1104.0,355.8 L1106.0,353.7 L1108.0,351.5 L1110.0,348.9 L1112.0,346.1 L1114.0,343.0 L1116.0,339.5 L1118.0,335.7 L1120.0,331.5 L1122.0,326.9 L1124.0,321.8 L1126.0,316.3 L1128.0,310.2 L1130.0,303.7 L1132.0,296.6" fill="none" stroke="#161212" stroke-opacity="1.0" stroke-width="2.1" stroke-linejoin="round" stroke-linecap="round" />
<path d="M544.5,664.3 L544.0,678.3 L546.0,679.1 L548.0,679.7 L550.0,680.2 L552.0,680.6 L554.0,680.8 L556.0,680.8 L558.0,680.7 L560.0,680.5 L562.0,680.2 L564.0,679.8 L566.0,679.3 L568.0,678.6 L570.0,677.9 L572.0,677.2 L574.0,676.4 L576.0,675.5 L578.0,674.5 L580.0,673.6 L582.0,672.6 L584.0,671.6 L586.0,670.5 L588.0,669.5 L590.0,668.4 L592.0,667.2 L594.0,666.1 L596.0,664.9 L598.0,663.7 L600.0,662.4 L602.0,661.1 L604.0,659.8 L606.0,658.5 L608.0,657.1 L610.0,655.6 L612.0,654.2 L614.0,652.6 L616.0,651.1 L618.0,649.5 L620.0,647.9 L622.0,646.2 L624.0,644.4 L626.0,642.7 L628.0,640.8 L630.0,639.0 L632.0,637.1 L634.0,635.1 L636.0,633.2 L638.0,631.1 L640.0,629.0 L642.0,626.9 L644.0,624.8 L646.0,622.6 L648.0,620.3 L650.0,618.1 L652.0,615.7 L654.0,613.4 L656.0,611.0 L658.0,608.5 L660.0,606.0 L662.0,603.5 L664.0,600.9 L666.0,598.3 L668.0,595.6 L670.0,592.9 L672.0,590.1 L674.0,587.3 L676.0,584.4 L678.0,581.4 L680.0,578.3 L682.0,575.1 L684.0,571.7 L686.0,568.1 L688.0,564.4 L690.0,560.4 L692.0,556.4 L694.0,552.0 L696.0,547.5 L698.0,542.7 L700.0,537.8 L702.0,532.7 L704.0,527.5 L706.0,522.1 L708.0,516.7 L710.0,511.3 L712.0,505.8 L714.0,500.3 L716.0,494.9 L718.0,489.4 L720.0,484.0 L722.0,478.6 L724.0,473.3 L726.0,468.1 L728.0,463.0 L730.0,458.0 L732.0,453.1 L734.0,448.3 L736.0,443.6 L738.0,439.1 L740.0,434.7 L742.0,430.5 L744.0,426.4 L746.0,422.4 L748.0,418.6 L750.0,415.0 L752.0,411.5 L754.0,408.2 L756.0,405.0 L758.0,402.1 L760.0,399.3 L762.0,396.7 L764.0,394.3 L766.0,392.0 L768.0,390.0 L770.0,388.2 L772.0,386.0 L774.0,383.9 L776.0,382.0 L778.0,380.2 L780.0,378.4 L782.0,376.7 L784.0,375.1 L786.0,373.5 L788.0,371.9 L790.0,370.3 L792.0,368.7 L794.0,367.1 L796.0,365.4 L798.0,363.7 L800.0,361.9 L802.0,360.0 L804.0,357.9 L806.0,355.8 L808.0,353.6 L810.0,351.2 L812.0,348.8 L814.0,346.2 L816.0,343.6 L818.0,341.0 L820.0,338.2 L822.0,335.5 L824.0,332.7 L826.0,329.9 L828.0,327.3 L830.0,324.8 L832.0,322.5 L834.0,320.4 L836.0,318.7 L838.0,317.3 L840.0,316.4 L842.0,315.9 L844.0,315.9 L846.0,316.3 L848.0,317.2 L850.0,318.5 L852.0,320.3 L854.0,322.5 L856.0,325.3 L858.0,328.5 L860.0,332.2 L862.0,336.2 L864.0,340.6 L866.0,345.3 L868.0,350.2 L870.0,355.3 L872.0,360.4 L874.0,365.5 L876.0,370.6 L878.0,375.5 L880.0,380.3 L882.0,385.0 L884.0,389.5 L886.0,393.8 L888.0,398.0 L890.0,402.0 L892.0,405.9 L894.0,409.5 L896.0,412.9 L898.0,416.2 L900.0,419.2 L902.0,422.3 L904.0,425.2 L906.0,428.0 L908.0,430.6 L910.0,433.0 L912.0,435.3 L914.0,437.5 L916.0,439.6 L918.0,441.6 L920.0,443.5 L922.0,445.3 L924.0,446.9 L926.0,448.5 L928.0,449.9 L930.0,451.2 L932.0,452.5 L934.0,453.6 L936.0,454.6 L938.0,455.4 L940.0,456.1 L942.0,456.6 L944.0,457.1 L946.0,457.5 L948.0,457.8 L950.0,458.0 L952.0,458.1 L954.0,458.1 L956.0,458.0 L958.0,457.9 L960.0,457.6 L962.0,457.3 L964.0,456.9 L966.0,456.4 L968.0,455.8 L970.0,455.2 L972.0,454.6 L974.0,453.9 L976.0,453.1 L978.0,452.3 L980.0,451.5 L982.0,450.7 L984.0,449.8 L986.0,448.9 L988.0,447.9 L990.0,447.0 L992.0,446.0 L994.0,445.0 L996.0,444.0 L998.0,442.9 L1000.0,441.9 L1002.0,440.8 L1004.0,439.6 L1006.0,438.4 L1008.0,437.2 L1010.0,436.0 L1012.0,434.5 L1014.0,433.0 L1016.0,431.5 L1018.0,429.9 L1020.0,428.3 L1022.0,426.6 L1024.0,424.9 L1026.0,423.1 L1028.0,421.2 L1030.0,419.3 L1032.0,417.4 L1034.0,415.3 L1036.0,413.3 L1038.0,411.2 L1040.0,409.0 L1042.0,406.8 L1044.0,404.5 L1046.0,402.2 L1048.0,399.9 L1050.0,397.6 L1052.0,395.4 L1054.0,393.1 L1056.0,391.0 L1058.0,388.9 L1060.0,387.0 L1062.0,385.2 L1064.0,383.5 L1066.0,381.9 L1068.0,380.4 L1070.0,379.0 L1072.0,378.0 L1074.0,377.0 L1076.0,376.0 L1078.0,375.1 L1080.0,374.2 L1082.0,373.4 L1084.0,372.5 L1086.0,371.6 L1088.0,370.7 L1090.0,369.7 L1092.0,368.7 L1094.0,367.6 L1096.0,366.4 L1098.0,365.1 L1100.0,363.6 L1102.0,362.0 L1104.0,360.3 L1106.0,358.3 L1108.0,356.0 L1110.0,353.5 L1112.0,350.8 L1114.0,347.7 L1116.0,344.3 L1118.0,340.5 L1120.0,336.3 L1122.0,331.8 L1124.0,326.7 L1126.0,321.3 L1128.0,315.3 L1130.0,308.8 L1132.0,301.8" fill="none" stroke="#161212" stroke-opacity="1.0" stroke-width="2.1" stroke-linejoin="round" stroke-linecap="round" />
<path d="M544.5,668.0 L544.0,682.0 L546.0,682.8 L548.0,683.4 L550.0,683.9 L552.0,684.3 L554.0,684.5 L556.0,684.6 L558.0,684.5 L560.0,684.4 L562.0,684.1 L564.0,683.7 L566.0,683.3 L568.0,682.7 L570.0,682.1 L572.0,681.4 L574.0,680.7 L576.0,679.9 L578.0,679.0 L580.0,678.1 L582.0,677.2 L584.0,676.2 L586.0,675.3 L588.0,674.2 L590.0,673.2 L592.0,672.1 L594.0,671.0 L596.0,669.8 L598.0,668.6 L600.0,667.4 L602.0,666.2 L604.0,664.9 L606.0,663.5 L608.0,662.1 L610.0,660.7 L612.0,659.2 L614.0,657.7 L616.0,656.2 L618.0,654.6 L620.0,652.9 L622.0,651.2 L624.0,649.5 L626.0,647.7 L628.0,645.9 L630.0,644.0 L632.0,642.1 L634.0,640.1 L636.0,638.1 L638.0,636.1 L640.0,634.0 L642.0,631.9 L644.0,629.7 L646.0,627.5 L648.0,625.2 L650.0,622.9 L652.0,620.6 L654.0,618.2 L656.0,615.8 L658.0,613.3 L660.0,610.8 L662.0,608.3 L664.0,605.7 L666.0,603.1 L668.0,600.4 L670.0,597.6 L672.0,594.9 L674.0,592.0 L676.0,589.1 L678.0,586.2 L680.0,583.1 L682.0,579.9 L684.0,576.6 L686.0,573.2 L688.0,569.5 L690.0,565.7 L692.0,561.9 L694.0,557.8 L696.0,553.5 L698.0,549.1 L700.0,544.6 L702.0,539.9 L704.0,535.1 L706.0,530.2 L708.0,525.3 L710.0,520.3 L712.0,515.4 L714.0,510.4 L716.0,505.5 L718.0,500.6 L720.0,495.8 L722.0,491.0 L724.0,486.3 L726.0,481.6 L728.0,477.1 L730.0,472.7 L732.0,468.4 L734.0,464.2 L736.0,460.2 L738.0,456.2 L740.0,452.4 L742.0,448.8 L744.0,445.3 L746.0,441.9 L748.0,438.7 L750.0,435.7 L752.0,432.8 L754.0,430.0 L756.0,427.4 L758.0,425.0 L760.0,422.8 L762.0,420.8 L764.0,418.9 L766.0,417.2 L768.0,415.7 L770.0,414.4 L772.0,412.5 L774.0,410.8 L776.0,409.2 L778.0,407.7 L780.0,406.3 L782.0,404.9 L784.0,403.6 L786.0,402.3 L788.0,401.0 L790.0,399.7 L792.0,398.4 L794.0,397.1 L796.0,395.7 L798.0,394.3 L800.0,392.8 L802.0,391.2 L804.0,389.5 L806.0,387.7 L808.0,385.8 L810.0,383.8 L812.0,381.7 L814.0,379.5 L816.0,377.2 L818.0,374.9 L820.0,372.5 L822.0,370.0 L824.0,367.5 L826.0,365.0 L828.0,362.6 L830.0,360.2 L832.0,358.0 L834.0,356.0 L836.0,354.2 L838.0,352.6 L840.0,351.4 L842.0,350.4 L844.0,349.9 L846.0,349.7 L848.0,349.8 L850.0,350.3 L852.0,351.3 L854.0,352.6 L856.0,354.3 L858.0,356.5 L860.0,359.1 L862.0,362.1 L864.0,365.3 L866.0,368.9 L868.0,372.7 L870.0,376.6 L872.0,380.6 L874.0,384.7 L876.0,388.7 L878.0,392.7 L880.0,396.6 L882.0,400.4 L884.0,404.1 L886.0,407.7 L888.0,411.2 L890.0,414.6 L892.0,417.8 L894.0,420.9 L896.0,423.8 L898.0,426.6 L900.0,429.2 L902.0,431.8 L904.0,434.2 L906.0,436.4 L908.0,438.6 L910.0,440.6 L912.0,442.6 L914.0,444.4 L916.0,446.1 L918.0,447.8 L920.0,449.3 L922.0,450.8 L924.0,452.2 L926.0,453.4 L928.0,454.6 L930.0,455.7 L932.0,456.7 L934.0,457.6 L936.0,458.4 L938.0,459.1 L940.0,459.7 L942.0,460.2 L944.0,460.6 L946.0,461.0 L948.0,461.2 L950.0,461.3 L952.0,461.4 L954.0,461.3 L956.0,461.2 L958.0,461.0 L960.0,460.7 L962.0,460.4 L964.0,460.0 L966.0,459.5 L968.0,458.9 L970.0,458.3 L972.0,457.6 L974.0,456.9 L976.0,456.2 L978.0,455.4 L980.0,454.5 L982.0,453.7 L984.0,452.8 L986.0,451.8 L988.0,450.9 L990.0,449.9 L992.0,448.9 L994.0,447.9 L996.0,446.9 L998.0,445.8 L1000.0,444.7 L1002.0,443.5 L1004.0,442.4 L1006.0,441.2 L1008.0,439.9 L1010.0,438.6 L1012.0,437.2 L1014.0,435.7 L1016.0,434.2 L1018.0,432.6 L1020.0,431.0 L1022.0,429.3 L1024.0,427.6 L1026.0,425.9 L1028.0,424.1 L1030.0,422.2 L1032.0,420.3 L1034.0,418.4 L1036.0,416.4 L1038.0,414.3 L1040.0,412.3 L1042.0,410.1 L1044.0,408.0 L1046.0,405.8 L1048.0,403.6 L1050.0,401.5 L1052.0,399.3 L1054.0,397.2 L1056.0,395.2 L1058.0,393.2 L1060.0,391.3 L1062.0,389.6 L1064.0,388.0 L1066.0,386.4 L1068.0,385.0 L1070.0,383.6 L1072.0,382.5 L1074.0,381.5 L1076.0,380.5 L1078.0,379.6 L1080.0,378.7 L1082.0,377.8 L1084.0,377.0 L1086.0,376.1 L1088.0,375.1 L1090.0,374.2 L1092.0,373.1 L1094.0,372.0 L1096.0,370.8 L1098.0,369.5 L1100.0,368.1 L1102.0,366.5 L1104.0,364.7 L1106.0,362.8 L1108.0,360.6 L1110.0,358.1 L1112.0,355.4 L1114.0,352.4 L1116.0,349.0 L1118.0,345.3 L1120.0,341.2 L1122.0,336.6 L1124.0,331.7 L1126.0,326.3 L1128.0,320.4 L1130.0,313.9 L1132.0,307.0" fill="none" stroke="#161212" stroke-opacity="1.0" stroke-width="2.1" stroke-linejoin="round" stroke-linecap="round" />
<path d="M544.5,671.8 L544.0,685.8 L546.0,686.5 L548.0,687.1 L550.0,687.6 L552.0,688.0 L554.0,688.2 L556.0,688.3 L558.0,688.3 L560.0,688.2 L562.0,688.0 L564.0,687.7 L566.0,687.3 L568.0,686.8 L570.0,686.3 L572.0,685.7 L574.0,685.0 L576.0,684.3 L578.0,683.5 L580.0,682.7 L582.0,681.8 L584.0,680.9 L586.0,680.0 L588.0,679.0 L590.0,678.0 L592.0,677.0 L594.0,675.9 L596.0,674.8 L598.0,673.6 L600.0,672.4 L602.0,671.2 L604.0,669.9 L606.0,668.6 L608.0,667.2 L610.0,665.8 L612.0,664.3 L614.0,662.8 L616.0,661.3 L618.0,659.7 L620.0,658.0 L622.0,656.3 L624.0,654.6 L626.0,652.8 L628.0,650.9 L630.0,649.0 L632.0,647.1 L634.0,645.1 L636.0,643.1 L638.0,641.1 L640.0,639.0 L642.0,636.8 L644.0,634.6 L646.0,632.4 L648.0,630.1 L650.0,627.8 L652.0,625.4 L654.0,623.0 L656.0,620.6 L658.0,618.1 L660.0,615.6 L662.0,613.0 L664.0,610.4 L666.0,607.8 L668.0,605.1 L670.0,602.4 L672.0,599.6 L674.0,596.8 L676.0,593.9 L678.0,590.9 L680.0,587.9 L682.0,584.8 L684.0,581.6 L686.0,578.2 L688.0,574.7 L690.0,571.0 L692.0,567.3 L694.0,563.4 L696.0,559.3 L698.0,555.1 L700.0,550.8 L702.0,546.3 L704.0,541.8 L706.0,537.2 L708.0,532.6 L710.0,528.0 L712.0,523.3 L714.0,518.7 L716.0,514.0 L718.0,509.4 L720.0,504.9 L722.0,500.4 L724.0,496.0 L726.0,491.6 L728.0,487.3 L730.0,483.2 L732.0,479.1 L734.0,475.1 L736.0,471.3 L738.0,467.6 L740.0,464.0 L742.0,460.5 L744.0,457.1 L746.0,453.9 L748.0,450.9 L750.0,447.9 L752.0,445.1 L754.0,442.5 L756.0,440.0 L758.0,437.7 L760.0,435.5 L762.0,433.5 L764.0,431.7 L766.0,430.1 L768.0,428.6 L770.0,427.3 L772.0,425.6 L774.0,424.1 L776.0,422.6 L778.0,421.3 L780.0,420.0 L782.0,418.8 L784.0,417.6 L786.0,416.5 L788.0,415.3 L790.0,414.2 L792.0,413.1 L794.0,411.9 L796.0,410.7 L798.0,409.4 L800.0,408.0 L802.0,406.6 L804.0,405.1 L806.0,403.4 L808.0,401.7 L810.0,399.8 L812.0,397.9 L814.0,395.8 L816.0,393.7 L818.0,391.6 L820.0,389.3 L822.0,387.0 L824.0,384.6 L826.0,382.3 L828.0,379.9 L830.0,377.7 L832.0,375.5 L834.0,373.5 L836.0,371.6 L838.0,370.0 L840.0,368.6 L842.0,367.5 L844.0,366.6 L846.0,366.1 L848.0,365.9 L850.0,366.0 L852.0,366.5 L854.0,367.4 L856.0,368.6 L858.0,370.3 L860.0,372.3 L862.0,374.8 L864.0,377.5 L866.0,380.5 L868.0,383.7 L870.0,387.1 L872.0,390.6 L874.0,394.1 L876.0,397.7 L878.0,401.2 L880.0,404.7 L882.0,408.0 L884.0,411.3 L886.0,414.6 L888.0,417.7 L890.0,420.7 L892.0,423.7 L894.0,426.5 L896.0,429.2 L898.0,431.7 L900.0,434.2 L902.0,436.6 L904.0,438.8 L906.0,441.0 L908.0,443.1 L910.0,445.0 L912.0,446.9 L914.0,448.6 L916.0,450.3 L918.0,451.8 L920.0,453.3 L922.0,454.7 L924.0,456.0 L926.0,457.2 L928.0,458.3 L930.0,459.3 L932.0,460.2 L934.0,461.1 L936.0,461.8 L938.0,462.4 L940.0,462.9 L942.0,463.4 L944.0,463.7 L946.0,464.0 L948.0,464.2 L950.0,464.3 L952.0,464.3 L954.0,464.2 L956.0,464.0 L958.0,463.8 L960.0,463.5 L962.0,463.1 L964.0,462.7 L966.0,462.2 L968.0,461.6 L970.0,461.0 L972.0,460.4 L974.0,459.6 L976.0,458.9 L978.0,458.1 L980.0,457.2 L982.0,456.3 L984.0,455.4 L986.0,454.5 L988.0,453.5 L990.0,452.5 L992.0,451.5 L994.0,450.5 L996.0,449.4 L998.0,448.3 L1000.0,447.2 L1002.0,446.0 L1004.0,444.8 L1006.0,443.6 L1008.0,442.3 L1010.0,441.0 L1012.0,439.6 L1014.0,438.1 L1016.0,436.6 L1018.0,435.0 L1020.0,433.4 L1022.0,431.8 L1024.0,430.1 L1026.0,428.4 L1028.0,426.7 L1030.0,424.9 L1032.0,423.0 L1034.0,421.2 L1036.0,419.3 L1038.0,417.3 L1040.0,415.4 L1042.0,413.4 L1044.0,411.3 L1046.0,409.3 L1048.0,407.2 L1050.0,405.2 L1052.0,403.2 L1054.0,401.2 L1056.0,399.2 L1058.0,397.4 L1060.0,395.6 L1062.0,394.0 L1064.0,392.4 L1066.0,390.9 L1068.0,389.5 L1070.0,388.2 L1072.0,387.1 L1074.0,386.1 L1076.0,385.1 L1078.0,384.1 L1080.0,383.2 L1082.0,382.3 L1084.0,381.4 L1086.0,380.5 L1088.0,379.6 L1090.0,378.6 L1092.0,377.5 L1094.0,376.4 L1096.0,375.2 L1098.0,373.9 L1100.0,372.5 L1102.0,371.0 L1104.0,369.2 L1106.0,367.3 L1108.0,365.1 L1110.0,362.7 L1112.0,360.1 L1114.0,357.1 L1116.0,353.7 L1118.0,350.1 L1120.0,346.0 L1122.0,341.5 L1124.0,336.6 L1126.0,331.3 L1128.0,325.4 L1130.0,319.0 L1132.0,312.1" fill="none" stroke="#161212" stroke-opacity="1.0" stroke-width="2.1" stroke-linejoin="round" stroke-linecap="round" />
<path d="M544.5,675.5 L544.0,689.5 L546.0,690.2 L548.0,690.8 L550.0,691.3 L552.0,691.7 L554.0,691.9 L556.0,692.0 L558.0,692.1 L560.0,692.0 L562.0,691.9 L564.0,691.6 L566.0,691.3 L568.0,690.9 L570.0,690.5 L572.0,689.9 L574.0,689.3 L576.0,688.7 L578.0,688.0 L580.0,687.2 L582.0,686.4 L584.0,685.6 L586.0,684.7 L588.0,683.8 L590.0,682.8 L592.0,681.8 L594.0,680.8 L596.0,679.7 L598.0,678.6 L600.0,677.4 L602.0,676.2 L604.0,674.9 L606.0,673.6 L608.0,672.3 L610.0,670.8 L612.0,669.4 L614.0,667.9 L616.0,666.3 L618.0,664.7 L620.0,663.1 L622.0,661.4 L624.0,659.6 L626.0,657.8 L628.0,656.0 L630.0,654.1 L632.0,652.1 L634.0,650.1 L636.0,648.1 L638.0,646.0 L640.0,643.9 L642.0,641.7 L644.0,639.5 L646.0,637.3 L648.0,635.0 L650.0,632.7 L652.0,630.3 L654.0,627.9 L656.0,625.4 L658.0,622.9 L660.0,620.4 L662.0,617.8 L664.0,615.2 L666.0,612.6 L668.0,609.9 L670.0,607.1 L672.0,604.3 L674.0,601.5 L676.0,598.7 L678.0,595.7 L680.0,592.7 L682.0,589.7 L684.0,586.5 L686.0,583.2 L688.0,579.8 L690.0,576.3 L692.0,572.8 L694.0,569.1 L696.0,565.3 L698.0,561.4 L700.0,557.4 L702.0,553.3 L704.0,549.2 L706.0,545.0 L708.0,540.9 L710.0,536.7 L712.0,532.5 L714.0,528.3 L716.0,524.1 L718.0,520.0 L720.0,516.0 L722.0,512.0 L724.0,508.0 L726.0,504.2 L728.0,500.4 L730.0,496.8 L732.0,493.2 L734.0,489.7 L736.0,486.4 L738.0,483.2 L740.0,480.0 L742.0,477.1 L744.0,474.2 L746.0,471.4 L748.0,468.8 L750.0,466.4 L752.0,464.0 L754.0,461.9 L756.0,459.8 L758.0,457.9 L760.0,456.2 L762.0,454.6 L764.0,453.2 L766.0,452.0 L768.0,450.9 L770.0,450.0 L772.0,448.6 L774.0,447.4 L776.0,446.2 L778.0,445.1 L780.0,444.1 L782.0,443.2 L784.0,442.3 L786.0,441.4 L788.0,440.5 L790.0,439.7 L792.0,438.8 L794.0,437.9 L796.0,436.9 L798.0,435.9 L800.0,434.8 L802.0,433.7 L804.0,432.4 L806.0,431.0 L808.0,429.6 L810.0,428.0 L812.0,426.4 L814.0,424.6 L816.0,422.8 L818.0,420.9 L820.0,418.9 L822.0,416.9 L824.0,414.7 L826.0,412.6 L828.0,410.5 L830.0,408.3 L832.0,406.2 L834.0,404.2 L836.0,402.3 L838.0,400.5 L840.0,398.8 L842.0,397.3 L844.0,396.1 L846.0,395.0 L848.0,394.2 L850.0,393.6 L852.0,393.3 L854.0,393.4 L856.0,393.8 L858.0,394.5 L860.0,395.7 L862.0,397.1 L864.0,398.9 L866.0,400.9 L868.0,403.2 L870.0,405.6 L872.0,408.1 L874.0,410.8 L876.0,413.4 L878.0,416.1 L880.0,418.8 L882.0,421.4 L884.0,424.0 L886.0,426.6 L888.0,429.1 L890.0,431.6 L892.0,434.0 L894.0,436.3 L896.0,438.6 L898.0,440.7 L900.0,442.8 L902.0,444.7 L904.0,446.6 L906.0,448.4 L908.0,450.0 L910.0,451.6 L912.0,453.2 L914.0,454.6 L916.0,456.0 L918.0,457.2 L920.0,458.4 L922.0,459.6 L924.0,460.6 L926.0,461.6 L928.0,462.5 L930.0,463.3 L932.0,464.0 L934.0,464.6 L936.0,465.2 L938.0,465.7 L940.0,466.2 L942.0,466.5 L944.0,466.8 L946.0,467.0 L948.0,467.2 L950.0,467.2 L952.0,467.2 L954.0,467.1 L956.0,466.9 L958.0,466.6 L960.0,466.3 L962.0,465.9 L964.0,465.4 L966.0,464.9 L968.0,464.4 L970.0,463.7 L972.0,463.1 L974.0,462.3 L976.0,461.6 L978.0,460.8 L980.0,459.9 L982.0,459.0 L984.0,458.1 L986.0,457.1 L988.0,456.2 L990.0,455.1 L992.0,454.1 L994.0,453.0 L996.0,451.9 L998.0,450.8 L1000.0,449.6 L1002.0,448.5 L1004.0,447.2 L1006.0,446.0 L1008.0,444.7 L1010.0,443.4 L1012.0,442.0 L1014.0,440.5 L1016.0,439.0 L1018.0,437.5 L1020.0,435.9 L1022.0,434.3 L1024.0,432.7 L1026.0,431.0 L1028.0,429.3 L1030.0,427.6 L1032.0,425.8 L1034.0,424.0 L1036.0,422.2 L1038.0,420.3 L1040.0,418.5 L1042.0,416.6 L1044.0,414.7 L1046.0,412.7 L1048.0,410.8 L1050.0,408.9 L1052.0,407.0 L1054.0,405.1 L1056.0,403.3 L1058.0,401.6 L1060.0,399.9 L1062.0,398.3 L1064.0,396.8 L1066.0,395.4 L1068.0,394.0 L1070.0,392.7 L1072.0,391.6 L1074.0,390.6 L1076.0,389.6 L1078.0,388.7 L1080.0,387.7 L1082.0,386.8 L1084.0,385.9 L1086.0,385.0 L1088.0,384.0 L1090.0,383.0 L1092.0,382.0 L1094.0,380.8 L1096.0,379.7 L1098.0,378.4 L1100.0,377.0 L1102.0,375.4 L1104.0,373.7 L1106.0,371.8 L1108.0,369.7 L1110.0,367.3 L1112.0,364.7 L1114.0,361.7 L1116.0,358.5 L1118.0,354.8 L1120.0,350.8 L1122.0,346.4 L1124.0,341.6 L1126.0,336.3 L1128.0,330.5 L1130.0,324.2 L1132.0,317.3" fill="none" stroke="#161212" stroke-opacity="1.0" stroke-width="2.1" stroke-linejoin="round" stroke-linecap="round" />
<path d="M544.5,679.2 L544.0,693.2 L546.0,693.9 L548.0,694.5 L550.0,695.0 L552.0,695.3 L554.0,695.6 L556.0,695.8 L558.0,695.9 L560.0,695.9 L562.0,695.8 L564.0,695.6 L566.0,695.3 L568.0,695.0 L570.0,694.6 L572.0,694.2 L574.0,693.6 L576.0,693.1 L578.0,692.4 L580.0,691.8 L582.0,691.0 L584.0,690.3 L586.0,689.4 L588.0,688.6 L590.0,687.7 L592.0,686.7 L594.0,685.7 L596.0,684.7 L598.0,683.6 L600.0,682.4 L602.0,681.2 L604.0,680.0 L606.0,678.7 L608.0,677.3 L610.0,675.9 L612.0,674.5 L614.0,673.0 L616.0,671.4 L618.0,669.8 L620.0,668.2 L622.0,666.5 L624.0,664.7 L626.0,662.9 L628.0,661.0 L630.0,659.1 L632.0,657.2 L634.0,655.2 L636.0,653.1 L638.0,651.0 L640.0,648.9 L642.0,646.7 L644.0,644.5 L646.0,642.2 L648.0,639.9 L650.0,637.5 L652.0,635.1 L654.0,632.7 L656.0,630.2 L658.0,627.7 L660.0,625.2 L662.0,622.6 L664.0,620.0 L666.0,617.3 L668.0,614.6 L670.0,611.9 L672.0,609.1 L674.0,606.3 L676.0,603.4 L678.0,600.5 L680.0,597.6 L682.0,594.5 L684.0,591.4 L686.0,588.2 L688.0,584.9 L690.0,581.6 L692.0,578.2 L694.0,574.7 L696.0,571.0 L698.0,567.3 L700.0,563.6 L702.0,559.8 L704.0,555.9 L706.0,552.0 L708.0,548.1 L710.0,544.1 L712.0,540.2 L714.0,536.3 L716.0,532.4 L718.0,528.6 L720.0,524.8 L722.0,521.1 L724.0,517.4 L726.0,513.8 L728.0,510.2 L730.0,506.8 L732.0,503.4 L734.0,500.1 L736.0,497.0 L738.0,493.9 L740.0,490.9 L742.0,488.1 L744.0,485.3 L746.0,482.7 L748.0,480.2 L750.0,477.8 L752.0,475.5 L754.0,473.4 L756.0,471.4 L758.0,469.5 L760.0,467.8 L762.0,466.3 L764.0,464.8 L766.0,463.6 L768.0,462.5 L770.0,461.5 L772.0,460.3 L774.0,459.2 L776.0,458.2 L778.0,457.3 L780.0,456.4 L782.0,455.6 L784.0,454.8 L786.0,454.1 L788.0,453.3 L790.0,452.6 L792.0,451.8 L794.0,451.1 L796.0,450.2 L798.0,449.4 L800.0,448.4 L802.0,447.4 L804.0,446.3 L806.0,445.1 L808.0,443.8 L810.0,442.3 L812.0,440.8 L814.0,439.3 L816.0,437.6 L818.0,435.8 L820.0,434.0 L822.0,432.1 L824.0,430.1 L826.0,428.0 L828.0,426.0 L830.0,423.9 L832.0,421.9 L834.0,419.9 L836.0,417.9 L838.0,416.0 L840.0,414.2 L842.0,412.6 L844.0,411.0 L846.0,409.7 L848.0,408.5 L850.0,407.6 L852.0,407.0 L854.0,406.6 L856.0,406.6 L858.0,406.9 L860.0,407.5 L862.0,408.5 L864.0,409.8 L866.0,411.3 L868.0,413.1 L870.0,415.0 L872.0,417.1 L874.0,419.2 L876.0,421.4 L878.0,423.7 L880.0,426.0 L882.0,428.2 L884.0,430.5 L886.0,432.7 L888.0,434.9 L890.0,437.1 L892.0,439.3 L894.0,441.3 L896.0,443.4 L898.0,445.3 L900.0,447.2 L902.0,449.1 L904.0,450.8 L906.0,452.5 L908.0,454.2 L910.0,455.7 L912.0,457.2 L914.0,458.6 L916.0,459.9 L918.0,461.1 L920.0,462.3 L922.0,463.3 L924.0,464.3 L926.0,465.2 L928.0,466.1 L930.0,466.8 L932.0,467.5 L934.0,468.1 L936.0,468.6 L938.0,469.1 L940.0,469.4 L942.0,469.7 L944.0,469.9 L946.0,470.1 L948.0,470.1 L950.0,470.1 L952.0,470.1 L954.0,469.9 L956.0,469.7 L958.0,469.4 L960.0,469.1 L962.0,468.7 L964.0,468.2 L966.0,467.7 L968.0,467.1 L970.0,466.5 L972.0,465.8 L974.0,465.0 L976.0,464.3 L978.0,463.5 L980.0,462.6 L982.0,461.7 L984.0,460.8 L986.0,459.8 L988.0,458.8 L990.0,457.8 L992.0,456.7 L994.0,455.6 L996.0,454.5 L998.0,453.3 L1000.0,452.1 L1002.0,450.9 L1004.0,449.7 L1006.0,448.4 L1008.0,447.1 L1010.0,445.8 L1012.0,444.3 L1014.0,442.9 L1016.0,441.4 L1018.0,439.9 L1020.0,438.3 L1022.0,436.8 L1024.0,435.2 L1026.0,433.6 L1028.0,431.9 L1030.0,430.2 L1032.0,428.5 L1034.0,426.8 L1036.0,425.1 L1038.0,423.3 L1040.0,421.6 L1042.0,419.8 L1044.0,418.0 L1046.0,416.2 L1048.0,414.4 L1050.0,412.6 L1052.0,410.8 L1054.0,409.1 L1056.0,407.4 L1058.0,405.8 L1060.0,404.2 L1062.0,402.7 L1064.0,401.2 L1066.0,399.9 L1068.0,398.6 L1070.0,397.3 L1072.0,396.2 L1074.0,395.2 L1076.0,394.1 L1078.0,393.2 L1080.0,392.2 L1082.0,391.3 L1084.0,390.3 L1086.0,389.4 L1088.0,388.4 L1090.0,387.4 L1092.0,386.4 L1094.0,385.3 L1096.0,384.1 L1098.0,382.8 L1100.0,381.4 L1102.0,379.9 L1104.0,378.2 L1106.0,376.3 L1108.0,374.3 L1110.0,371.9 L1112.0,369.3 L1114.0,366.4 L1116.0,363.2 L1118.0,359.6 L1120.0,355.7 L1122.0,351.3 L1124.0,346.5 L1126.0,341.3 L1128.0,335.5 L1130.0,329.3 L1132.0,322.5" fill="none" stroke="#161212" stroke-opacity="1.0" stroke-width="2.1" stroke-linejoin="round" stroke-linecap="round" />
<path d="M544.5,683.0 L544.0,697.0 L546.0,697.6 L548.0,698.2 L550.0,698.7 L552.0,699.0 L554.0,699.3 L556.0,699.5 L558.0,699.6 L560.0,699.7 L562.0,699.6 L564.0,699.5 L566.0,699.4 L568.0,699.1 L570.0,698.8 L572.0,698.4 L574.0,698.0 L576.0,697.5 L578.0,696.9 L580.0,696.3 L582.0,695.6 L584.0,694.9 L586.0,694.2 L588.0,693.4 L590.0,692.5 L592.0,691.6 L594.0,690.6 L596.0,689.6 L598.0,688.5 L600.0,687.4 L602.0,686.2 L604.0,685.0 L606.0,683.7 L608.0,682.4 L610.0,681.0 L612.0,679.5 L614.0,678.1 L616.0,676.5 L618.0,674.9 L620.0,673.2 L622.0,671.5 L624.0,669.8 L626.0,667.9 L628.0,666.1 L630.0,664.1 L632.0,662.2 L634.0,660.2 L636.0,658.1 L638.0,656.0 L640.0,653.8 L642.0,651.6 L644.0,649.4 L646.0,647.1 L648.0,644.8 L650.0,642.4 L652.0,640.0 L654.0,637.5 L656.0,635.0 L658.0,632.5 L660.0,630.0 L662.0,627.4 L664.0,624.7 L666.0,622.1 L668.0,619.3 L670.0,616.6 L672.0,613.8 L674.0,611.0 L676.0,608.2 L678.0,605.3 L680.0,602.4 L682.0,599.4 L684.0,596.4 L686.0,593.3 L688.0,590.1 L690.0,586.8 L692.0,583.6 L694.0,580.3 L696.0,576.9 L698.0,573.4 L700.0,570.0 L702.0,566.4 L704.0,562.9 L706.0,559.3 L708.0,555.7 L710.0,552.1 L712.0,548.6 L714.0,545.1 L716.0,541.5 L718.0,538.1 L720.0,534.6 L722.0,531.3 L724.0,527.9 L726.0,524.7 L728.0,521.5 L730.0,518.4 L732.0,515.3 L734.0,512.4 L736.0,509.5 L738.0,506.8 L740.0,504.1 L742.0,501.5 L744.0,499.0 L746.0,496.7 L748.0,494.4 L750.0,492.3 L752.0,490.3 L754.0,488.3 L756.0,486.6 L758.0,484.9 L760.0,483.4 L762.0,482.0 L764.0,480.8 L766.0,479.7 L768.0,478.7 L770.0,477.9 L772.0,476.9 L774.0,476.1 L776.0,475.3 L778.0,474.5 L780.0,473.9 L782.0,473.2 L784.0,472.7 L786.0,472.1 L788.0,471.6 L790.0,471.0 L792.0,470.5 L794.0,469.9 L796.0,469.2 L798.0,468.6 L800.0,467.8 L802.0,467.0 L804.0,466.1 L806.0,465.1 L808.0,464.0 L810.0,462.8 L812.0,461.5 L814.0,460.1 L816.0,458.6 L818.0,457.1 L820.0,455.4 L822.0,453.7 L824.0,451.9 L826.0,450.0 L828.0,448.1 L830.0,446.1 L832.0,444.1 L834.0,442.1 L836.0,440.1 L838.0,438.1 L840.0,436.1 L842.0,434.2 L844.0,432.4 L846.0,430.6 L848.0,429.0 L850.0,427.6 L852.0,426.4 L854.0,425.4 L856.0,424.8 L858.0,424.4 L860.0,424.4 L862.0,424.7 L864.0,425.3 L866.0,426.1 L868.0,427.1 L870.0,428.4 L872.0,429.7 L874.0,431.3 L876.0,432.8 L878.0,434.5 L880.0,436.2 L882.0,437.9 L884.0,439.7 L886.0,441.4 L888.0,443.2 L890.0,445.0 L892.0,446.7 L894.0,448.5 L896.0,450.2 L898.0,451.9 L900.0,453.5 L902.0,455.0 L904.0,456.5 L906.0,458.0 L908.0,459.4 L910.0,460.7 L912.0,462.0 L914.0,463.2 L916.0,464.3 L918.0,465.4 L920.0,466.3 L922.0,467.2 L924.0,468.1 L926.0,468.8 L928.0,469.5 L930.0,470.2 L932.0,470.7 L934.0,471.2 L936.0,471.6 L938.0,472.0 L940.0,472.3 L942.0,472.5 L944.0,472.6 L946.0,472.7 L948.0,472.7 L950.0,472.7 L952.0,472.6 L954.0,472.4 L956.0,472.2 L958.0,471.9 L960.0,471.5 L962.0,471.1 L964.0,470.6 L966.0,470.1 L968.0,469.5 L970.0,468.8 L972.0,468.1 L974.0,467.4 L976.0,466.6 L978.0,465.8 L980.0,464.9 L982.0,464.0 L984.0,463.1 L986.0,462.1 L988.0,461.1 L990.0,460.0 L992.0,459.0 L994.0,457.8 L996.0,456.7 L998.0,455.5 L1000.0,454.3 L1002.0,453.1 L1004.0,451.8 L1006.0,450.5 L1008.0,449.2 L1010.0,447.9 L1012.0,446.4 L1014.0,445.0 L1016.0,443.5 L1018.0,442.0 L1020.0,440.5 L1022.0,439.0 L1024.0,437.5 L1026.0,435.9 L1028.0,434.3 L1030.0,432.7 L1032.0,431.1 L1034.0,429.5 L1036.0,427.8 L1038.0,426.2 L1040.0,424.5 L1042.0,422.8 L1044.0,421.2 L1046.0,419.5 L1048.0,417.8 L1050.0,416.2 L1052.0,414.5 L1054.0,412.9 L1056.0,411.4 L1058.0,409.9 L1060.0,408.4 L1062.0,407.0 L1064.0,405.6 L1066.0,404.3 L1068.0,403.1 L1070.0,401.9 L1072.0,400.8 L1074.0,399.7 L1076.0,398.7 L1078.0,397.7 L1080.0,396.7 L1082.0,395.8 L1084.0,394.8 L1086.0,393.9 L1088.0,392.9 L1090.0,391.9 L1092.0,390.8 L1094.0,389.7 L1096.0,388.5 L1098.0,387.2 L1100.0,385.9 L1102.0,384.4 L1104.0,382.7 L1106.0,380.9 L1108.0,378.8 L1110.0,376.5 L1112.0,374.0 L1114.0,371.1 L1116.0,367.9 L1118.0,364.4 L1120.0,360.5 L1122.0,356.2 L1124.0,351.5 L1126.0,346.3 L1128.0,340.6 L1130.0,334.4 L1132.0,327.6" fill="none" stroke="#161212" stroke-opacity="1.0" stroke-width="2.1" stroke-linejoin="round" stroke-linecap="round" />
<path d="M544.5,686.7 L544.0,700.7 L546.0,701.4 L548.0,701.9 L550.0,702.3 L552.0,702.7 L554.0,703.0 L556.0,703.3 L558.0,703.4 L560.0,703.5 L562.0,703.5 L564.0,703.5 L566.0,703.4 L568.0,703.2 L570.0,703.0 L572.0,702.7 L574.0,702.3 L576.0,701.9 L578.0,701.4 L580.0,700.8 L582.0,700.3 L584.0,699.6 L586.0,698.9 L588.0,698.1 L590.0,697.3 L592.0,696.4 L594.0,695.5 L596.0,694.5 L598.0,693.5 L600.0,692.4 L602.0,691.2 L604.0,690.0 L606.0,688.8 L608.0,687.4 L610.0,686.1 L612.0,684.6 L614.0,683.1 L616.0,681.6 L618.0,680.0 L620.0,678.3 L622.0,676.6 L624.0,674.8 L626.0,673.0 L628.0,671.1 L630.0,669.2 L632.0,667.2 L634.0,665.2 L636.0,663.1 L638.0,660.9 L640.0,658.8 L642.0,656.6 L644.0,654.3 L646.0,652.0 L648.0,649.6 L650.0,647.2 L652.0,644.8 L654.0,642.4 L656.0,639.8 L658.0,637.3 L660.0,634.7 L662.0,632.1 L664.0,629.5 L666.0,626.8 L668.0,624.1 L670.0,621.3 L672.0,618.6 L674.0,615.8 L676.0,612.9 L678.0,610.1 L680.0,607.2 L682.0,604.3 L684.0,601.3 L686.0,598.3 L688.0,595.2 L690.0,592.1 L692.0,589.0 L694.0,585.9 L696.0,582.7 L698.0,579.5 L700.0,576.2 L702.0,573.0 L704.0,569.7 L706.0,566.5 L708.0,563.2 L710.0,559.9 L712.0,556.7 L714.0,553.5 L716.0,550.3 L718.0,547.2 L720.0,544.1 L722.0,541.0 L724.0,538.0 L726.0,535.1 L728.0,532.2 L730.0,529.3 L732.0,526.6 L734.0,523.9 L736.0,521.3 L738.0,518.8 L740.0,516.3 L742.0,514.0 L744.0,511.7 L746.0,509.6 L748.0,507.5 L750.0,505.5 L752.0,503.7 L754.0,501.9 L756.0,500.3 L758.0,498.8 L760.0,497.4 L762.0,496.1 L764.0,495.0 L766.0,494.0 L768.0,493.1 L770.0,492.4 L772.0,491.6 L774.0,490.9 L776.0,490.3 L778.0,489.7 L780.0,489.2 L782.0,488.8 L784.0,488.4 L786.0,488.0 L788.0,487.6 L790.0,487.3 L792.0,486.9 L794.0,486.4 L796.0,486.0 L798.0,485.5 L800.0,484.9 L802.0,484.2 L804.0,483.5 L806.0,482.7 L808.0,481.8 L810.0,480.7 L812.0,479.6 L814.0,478.4 L816.0,477.2 L818.0,475.8 L820.0,474.3 L822.0,472.7 L824.0,471.1 L826.0,469.4 L828.0,467.6 L830.0,465.7 L832.0,463.7 L834.0,461.7 L836.0,459.7 L838.0,457.6 L840.0,455.4 L842.0,453.3 L844.0,451.1 L846.0,449.0 L848.0,447.0 L850.0,445.2 L852.0,443.5 L854.0,442.0 L856.0,440.8 L858.0,439.9 L860.0,439.3 L862.0,438.9 L864.0,438.9 L866.0,439.1 L868.0,439.5 L870.0,440.1 L872.0,440.9 L874.0,441.9 L876.0,442.9 L878.0,444.0 L880.0,445.2 L882.0,446.4 L884.0,447.7 L886.0,449.1 L888.0,450.5 L890.0,451.9 L892.0,453.3 L894.0,454.8 L896.0,456.2 L898.0,457.6 L900.0,459.0 L902.0,460.4 L904.0,461.7 L906.0,463.0 L908.0,464.3 L910.0,465.5 L912.0,466.6 L914.0,467.7 L916.0,468.7 L918.0,469.6 L920.0,470.5 L922.0,471.3 L924.0,472.0 L926.0,472.7 L928.0,473.3 L930.0,473.8 L932.0,474.3 L934.0,474.7 L936.0,475.0 L938.0,475.3 L940.0,475.5 L942.0,475.7 L944.0,475.7 L946.0,475.8 L948.0,475.7 L950.0,475.6 L952.0,475.5 L954.0,475.3 L956.0,475.0 L958.0,474.7 L960.0,474.3 L962.0,473.8 L964.0,473.3 L966.0,472.8 L968.0,472.2 L970.0,471.5 L972.0,470.9 L974.0,470.1 L976.0,469.3 L978.0,468.5 L980.0,467.6 L982.0,466.7 L984.0,465.8 L986.0,464.8 L988.0,463.7 L990.0,462.7 L992.0,461.6 L994.0,460.4 L996.0,459.2 L998.0,458.0 L1000.0,456.8 L1002.0,455.5 L1004.0,454.3 L1006.0,452.9 L1008.0,451.6 L1010.0,450.2 L1012.0,448.8 L1014.0,447.4 L1016.0,445.9 L1018.0,444.5 L1020.0,443.0 L1022.0,441.5 L1024.0,440.0 L1026.0,438.5 L1028.0,436.9 L1030.0,435.4 L1032.0,433.8 L1034.0,432.3 L1036.0,430.7 L1038.0,429.2 L1040.0,427.6 L1042.0,426.0 L1044.0,424.5 L1046.0,422.9 L1048.0,421.4 L1050.0,419.9 L1052.0,418.4 L1054.0,416.9 L1056.0,415.5 L1058.0,414.0 L1060.0,412.7 L1062.0,411.3 L1064.0,410.1 L1066.0,408.8 L1068.0,407.6 L1070.0,406.4 L1072.0,405.3 L1074.0,404.3 L1076.0,403.2 L1078.0,402.2 L1080.0,401.2 L1082.0,400.2 L1084.0,399.3 L1086.0,398.3 L1088.0,397.3 L1090.0,396.3 L1092.0,395.2 L1094.0,394.1 L1096.0,392.9 L1098.0,391.7 L1100.0,390.3 L1102.0,388.8 L1104.0,387.2 L1106.0,385.4 L1108.0,383.4 L1110.0,381.1 L1112.0,378.6 L1114.0,375.8 L1116.0,372.7 L1118.0,369.2 L1120.0,365.4 L1122.0,361.1 L1124.0,356.4 L1126.0,351.3 L1128.0,345.6 L1130.0,339.5 L1132.0,332.8" fill="none" stroke="#161212" stroke-opacity="1.0" stroke-width="2.1" stroke-linejoin="round" stroke-linecap="round" />
<path d="M544.5,690.5 L544.0,704.5 L546.0,705.1 L548.0,705.6 L550.0,706.0 L552.0,706.4 L554.0,706.7 L556.0,707.0 L558.0,707.2 L560.0,707.3 L562.0,707.4 L564.0,707.4 L566.0,707.4 L568.0,707.3 L570.0,707.1 L572.0,706.9 L574.0,706.6 L576.0,706.3 L578.0,705.9 L580.0,705.4 L582.0,704.9 L584.0,704.3 L586.0,703.6 L588.0,702.9 L590.0,702.1 L592.0,701.3 L594.0,700.4 L596.0,699.5 L598.0,698.5 L600.0,697.4 L602.0,696.3 L604.0,695.1 L606.0,693.8 L608.0,692.5 L610.0,691.1 L612.0,689.7 L614.0,688.2 L616.0,686.7 L618.0,685.1 L620.0,683.4 L622.0,681.7 L624.0,679.9 L626.0,678.0 L628.0,676.2 L630.0,674.2 L632.0,672.2 L634.0,670.2 L636.0,668.1 L638.0,665.9 L640.0,663.7 L642.0,661.5 L644.0,659.2 L646.0,656.9 L648.0,654.5 L650.0,652.1 L652.0,649.7 L654.0,647.2 L656.0,644.7 L658.0,642.1 L660.0,639.5 L662.0,636.9 L664.0,634.2 L666.0,631.6 L668.0,628.8 L670.0,626.1 L672.0,623.3 L674.0,620.5 L676.0,617.7 L678.0,614.9 L680.0,612.0 L682.0,609.1 L684.0,606.2 L686.0,603.3 L688.0,600.4 L690.0,597.4 L692.0,594.4 L694.0,591.5 L696.0,588.5 L698.0,585.5 L700.0,582.5 L702.0,579.5 L704.0,576.5 L706.0,573.5 L708.0,570.5 L710.0,567.6 L712.0,564.7 L714.0,561.8 L716.0,558.9 L718.0,556.1 L720.0,553.2 L722.0,550.5 L724.0,547.7 L726.0,545.1 L728.0,542.4 L730.0,539.9 L732.0,537.4 L734.0,534.9 L736.0,532.5 L738.0,530.2 L740.0,527.9 L742.0,525.8 L744.0,523.7 L746.0,521.7 L748.0,519.8 L750.0,517.9 L752.0,516.2 L754.0,514.6 L756.0,513.0 L758.0,511.6 L760.0,510.3 L762.0,509.1 L764.0,508.0 L766.0,507.1 L768.0,506.2 L770.0,505.5 L772.0,504.9 L774.0,504.3 L776.0,503.9 L778.0,503.5 L780.0,503.2 L782.0,502.9 L784.0,502.6 L786.0,502.4 L788.0,502.2 L790.0,501.9 L792.0,501.7 L794.0,501.4 L796.0,501.1 L798.0,500.8 L800.0,500.4 L802.0,499.9 L804.0,499.3 L806.0,498.6 L808.0,497.9 L810.0,497.0 L812.0,496.1 L814.0,495.1 L816.0,493.9 L818.0,492.7 L820.0,491.4 L822.0,490.0 L824.0,488.5 L826.0,486.9 L828.0,485.2 L830.0,483.4 L832.0,481.5 L834.0,479.5 L836.0,477.4 L838.0,475.2 L840.0,472.9 L842.0,470.5 L844.0,468.1 L846.0,465.7 L848.0,463.4 L850.0,461.1 L852.0,459.0 L854.0,457.0 L856.0,455.3 L858.0,453.9 L860.0,452.7 L862.0,451.9 L864.0,451.3 L866.0,450.9 L868.0,450.8 L870.0,450.8 L872.0,451.1 L874.0,451.4 L876.0,452.0 L878.0,452.6 L880.0,453.3 L882.0,454.2 L884.0,455.1 L886.0,456.0 L888.0,457.1 L890.0,458.2 L892.0,459.3 L894.0,460.4 L896.0,461.6 L898.0,462.8 L900.0,464.0 L902.0,465.2 L904.0,466.4 L906.0,467.5 L908.0,468.7 L910.0,469.7 L912.0,470.8 L914.0,471.7 L916.0,472.6 L918.0,473.4 L920.0,474.2 L922.0,474.9 L924.0,475.5 L926.0,476.1 L928.0,476.6 L930.0,477.0 L932.0,477.4 L934.0,477.7 L936.0,478.0 L938.0,478.2 L940.0,478.3 L942.0,478.4 L944.0,478.5 L946.0,478.4 L948.0,478.3 L950.0,478.2 L952.0,478.0 L954.0,477.8 L956.0,477.5 L958.0,477.1 L960.0,476.7 L962.0,476.2 L964.0,475.7 L966.0,475.2 L968.0,474.6 L970.0,473.9 L972.0,473.2 L974.0,472.5 L976.0,471.7 L978.0,470.9 L980.0,470.0 L982.0,469.1 L984.0,468.1 L986.0,467.1 L988.0,466.0 L990.0,464.9 L992.0,463.8 L994.0,462.7 L996.0,461.5 L998.0,460.2 L1000.0,459.0 L1002.0,457.7 L1004.0,456.4 L1006.0,455.1 L1008.0,453.7 L1010.0,452.3 L1012.0,450.9 L1014.0,449.5 L1016.0,448.1 L1018.0,446.6 L1020.0,445.2 L1022.0,443.7 L1024.0,442.3 L1026.0,440.8 L1028.0,439.3 L1030.0,437.8 L1032.0,436.4 L1034.0,434.9 L1036.0,433.4 L1038.0,432.0 L1040.0,430.5 L1042.0,429.1 L1044.0,427.6 L1046.0,426.2 L1048.0,424.8 L1050.0,423.5 L1052.0,422.1 L1054.0,420.7 L1056.0,419.4 L1058.0,418.1 L1060.0,416.9 L1062.0,415.6 L1064.0,414.4 L1066.0,413.3 L1068.0,412.1 L1070.0,411.0 L1072.0,409.9 L1074.0,408.8 L1076.0,407.7 L1078.0,406.7 L1080.0,405.7 L1082.0,404.7 L1084.0,403.7 L1086.0,402.7 L1088.0,401.7 L1090.0,400.7 L1092.0,399.6 L1094.0,398.5 L1096.0,397.3 L1098.0,396.1 L1100.0,394.8 L1102.0,393.3 L1104.0,391.7 L1106.0,389.9 L1108.0,387.9 L1110.0,385.7 L1112.0,383.2 L1114.0,380.5 L1116.0,377.4 L1118.0,374.0 L1120.0,370.2 L1122.0,366.0 L1124.0,361.4 L1126.0,356.3 L1128.0,350.7 L1130.0,344.6 L1132.0,338.0" fill="none" stroke="#161212" stroke-opacity="1.0" stroke-width="2.1" stroke-linejoin="round" stroke-linecap="round" />
<rect x="1484" y="84" width="885.5" height="656.9" fill="none" stroke="#6f6b69" stroke-width="3.6" stroke-linejoin="round"/>
<line x1="1569.00" y1="740.90" x2="1569.00" y2="752.90" stroke="#6f6b69" stroke-width="3.2" stroke-linecap="butt" />
<line x1="1737.20" y1="740.90" x2="1737.20" y2="752.90" stroke="#6f6b69" stroke-width="3.2" stroke-linecap="butt" />
<line x1="1905.40" y1="740.90" x2="1905.40" y2="752.90" stroke="#6f6b69" stroke-width="3.2" stroke-linecap="butt" />
<line x1="2073.60" y1="740.90" x2="2073.60" y2="752.90" stroke="#6f6b69" stroke-width="3.2" stroke-linecap="butt" />
<line x1="2241.80" y1="740.90" x2="2241.80" y2="752.90" stroke="#6f6b69" stroke-width="3.2" stroke-linecap="butt" />
<line x1="1484.90" y1="740.90" x2="1484.90" y2="747.40" stroke="#6f6b69" stroke-width="3.2" stroke-linecap="butt" />
<line x1="1653.10" y1="740.90" x2="1653.10" y2="747.40" stroke="#6f6b69" stroke-width="3.2" stroke-linecap="butt" />
<line x1="1821.30" y1="740.90" x2="1821.30" y2="747.40" stroke="#6f6b69" stroke-width="3.2" stroke-linecap="butt" />
<line x1="1989.50" y1="740.90" x2="1989.50" y2="747.40" stroke="#6f6b69" stroke-width="3.2" stroke-linecap="butt" />
<line x1="2157.70" y1="740.90" x2="2157.70" y2="747.40" stroke="#6f6b69" stroke-width="3.2" stroke-linecap="butt" />
<line x1="2325.90" y1="740.90" x2="2325.90" y2="747.40" stroke="#6f6b69" stroke-width="3.2" stroke-linecap="butt" />
<line x1="1484.00" y1="659.80" x2="1471.50" y2="659.80" stroke="#6f6b69" stroke-width="3.2" stroke-linecap="butt" />
<line x1="1484.00" y1="495.23" x2="1471.50" y2="495.23" stroke="#6f6b69" stroke-width="3.2" stroke-linecap="butt" />
<line x1="1484.00" y1="330.66" x2="1471.50" y2="330.66" stroke="#6f6b69" stroke-width="3.2" stroke-linecap="butt" />
<line x1="1484.00" y1="166.09" x2="1471.50" y2="166.09" stroke="#6f6b69" stroke-width="3.2" stroke-linecap="butt" />
<line x1="1484.00" y1="577.52" x2="1477.50" y2="577.52" stroke="#6f6b69" stroke-width="3.2" stroke-linecap="butt" />
<line x1="1484.00" y1="412.95" x2="1477.50" y2="412.95" stroke="#6f6b69" stroke-width="3.2" stroke-linecap="butt" />
<line x1="1484.00" y1="248.38" x2="1477.50" y2="248.38" stroke="#6f6b69" stroke-width="3.2" stroke-linecap="butt" />
<text x="1261.36" y="98.42" font-size="71.34" letter-spacing="6.38" font-family="Liberation Sans, Arial, sans-serif"  fill="#111" >b)</text>
<text x="1404.72" y="185.70" font-size="58.57" letter-spacing="1.11" font-family="Liberation Sans, Arial, sans-serif"  fill="#111" >5</text>
<text x="1403.60" y="350.86" font-size="59.42" letter-spacing="1.20" font-family="Liberation Sans, Arial, sans-serif"  fill="#111" >4</text>
<text x="1405.16" y="514.85" font-size="57.75" letter-spacing="1.10" font-family="Liberation Sans, Arial, sans-serif"  fill="#111" >3</text>
<text x="1405.36" y="680.00" font-size="58.57" letter-spacing="1.07" font-family="Liberation Sans, Arial, sans-serif"  fill="#111" >2</text>
<text x="1521.29" y="839.00" font-size="60.28" letter-spacing="1.15" font-family="Liberation Sans, Arial, sans-serif"  fill="#111" >-0.6</text>
<text x="1689.49" y="839.00" font-size="60.28" letter-spacing="0.95" font-family="Liberation Sans, Arial, sans-serif"  fill="#111" >-0.4</text>
<text x="1857.69" y="839.00" font-size="60.28" letter-spacing="1.35" font-family="Liberation Sans, Arial, sans-serif"  fill="#111" >-0.2</text>
<text x="2037.94" y="839.00" font-size="60.28" letter-spacing="-0.39" font-family="Liberation Sans, Arial, sans-serif"  fill="#111" >0.0</text>
<text x="2206.14" y="839.00" font-size="60.28" letter-spacing="0.07" font-family="Liberation Sans, Arial, sans-serif"  fill="#111" >0.2</text>
<text x="1767.48" y="934.65" font-size="55.24" letter-spacing="1.82" font-family="Liberation Sans, Arial, sans-serif"  fill="#111" >Potential / V</text>
<text transform="translate(1315.16,548.28) rotate(-90)" font-size="57.60" letter-spacing="1.10" font-family="Liberation Sans, Arial, sans-serif"  fill="#111" >Current / μA</text>
<line x1="1607.70" y1="145.40" x2="1607.70" y2="393.80" stroke="#5b5754" stroke-width="3.4" stroke-linecap="butt" />
<line x1="1606.20" y1="392.30" x2="1939.10" y2="392.30" stroke="#5b5754" stroke-width="3.4" stroke-linecap="butt" />
<line x1="1640.90" y1="392.30" x2="1640.90" y2="397.30" stroke="#5b5754" stroke-width="2.6" stroke-linecap="butt" />
<line x1="1707.25" y1="392.30" x2="1707.25" y2="397.30" stroke="#5b5754" stroke-width="2.6" stroke-linecap="butt" />
<line x1="1773.60" y1="392.30" x2="1773.60" y2="397.30" stroke="#5b5754" stroke-width="2.6" stroke-linecap="butt" />
<line x1="1839.95" y1="392.30" x2="1839.95" y2="397.30" stroke="#5b5754" stroke-width="2.6" stroke-linecap="butt" />
<line x1="1906.30" y1="392.30" x2="1906.30" y2="397.30" stroke="#5b5754" stroke-width="2.6" stroke-linecap="butt" />
<line x1="1674.08" y1="392.30" x2="1674.08" y2="395.80" stroke="#5b5754" stroke-width="2.2" stroke-linecap="butt" />
<line x1="1740.42" y1="392.30" x2="1740.42" y2="395.80" stroke="#5b5754" stroke-width="2.2" stroke-linecap="butt" />
<line x1="1806.77" y1="392.30" x2="1806.77" y2="395.80" stroke="#5b5754" stroke-width="2.2" stroke-linecap="butt" />
<line x1="1873.12" y1="392.30" x2="1873.12" y2="395.80" stroke="#5b5754" stroke-width="2.2" stroke-linecap="butt" />
<line x1="1607.70" y1="392.30" x2="1602.70" y2="392.30" stroke="#5b5754" stroke-width="2.6" stroke-linecap="butt" />
<line x1="1607.70" y1="318.20" x2="1602.70" y2="318.20" stroke="#5b5754" stroke-width="2.6" stroke-linecap="butt" />
<line x1="1607.70" y1="244.10" x2="1602.70" y2="244.10" stroke="#5b5754" stroke-width="2.6" stroke-linecap="butt" />
<line x1="1607.70" y1="170.00" x2="1602.70" y2="170.00" stroke="#5b5754" stroke-width="2.6" stroke-linecap="butt" />
<line x1="1612.20" y1="389.30" x2="1932.00" y2="159.70" stroke="#ff5a5a" stroke-width="3.2" stroke-linecap="round" />
<line x1="1640.90" y1="363.30" x2="1640.90" y2="372.30" stroke="#222" stroke-width="1.6" stroke-linecap="butt" />
<rect x="1638.3" y="365.2" width="5.2" height="5.2" fill="#1a1a1a"/>
<line x1="1674.08" y1="340.70" x2="1674.08" y2="349.70" stroke="#222" stroke-width="1.6" stroke-linecap="butt" />
<rect x="1671.5" y="342.6" width="5.2" height="5.2" fill="#1a1a1a"/>
<line x1="1707.25" y1="317.10" x2="1707.25" y2="326.10" stroke="#222" stroke-width="1.6" stroke-linecap="butt" />
<rect x="1704.7" y="319.0" width="5.2" height="5.2" fill="#1a1a1a"/>
<line x1="1740.42" y1="292.50" x2="1740.42" y2="301.50" stroke="#222" stroke-width="1.6" stroke-linecap="butt" />
<rect x="1737.8" y="294.4" width="5.2" height="5.2" fill="#1a1a1a"/>
<line x1="1773.60" y1="271.00" x2="1773.60" y2="280.00" stroke="#222" stroke-width="1.6" stroke-linecap="butt" />
<rect x="1771.0" y="272.9" width="5.2" height="5.2" fill="#1a1a1a"/>
<line x1="1806.77" y1="247.50" x2="1806.77" y2="256.50" stroke="#222" stroke-width="1.6" stroke-linecap="butt" />
<rect x="1804.2" y="249.4" width="5.2" height="5.2" fill="#1a1a1a"/>
<line x1="1839.95" y1="221.80" x2="1839.95" y2="230.80" stroke="#222" stroke-width="1.6" stroke-linecap="butt" />
<rect x="1837.3" y="223.7" width="5.2" height="5.2" fill="#1a1a1a"/>
<line x1="1873.12" y1="195.20" x2="1873.12" y2="204.20" stroke="#222" stroke-width="1.6" stroke-linecap="butt" />
<rect x="1870.5" y="197.1" width="5.2" height="5.2" fill="#1a1a1a"/>
<line x1="1906.30" y1="171.60" x2="1906.30" y2="180.60" stroke="#222" stroke-width="1.6" stroke-linecap="butt" />
<rect x="1903.7" y="173.5" width="5.2" height="5.2" fill="#1a1a1a"/>
<text transform="translate(1559.54,178.91) scale(1.0623,1)" font-size="28.86" font-family="Liberation Sans, Arial, sans-serif" font-weight="bold" fill="#2a2a2a" >45</text>
<text transform="translate(1560.24,253.22) scale(1.0803,1)" font-size="28.17" font-family="Liberation Sans, Arial, sans-serif" font-weight="bold" fill="#2a2a2a" >30</text>
<text transform="translate(1560.20,326.71) scale(1.0517,1)" font-size="28.57" font-family="Liberation Sans, Arial, sans-serif" font-weight="bold" fill="#2a2a2a" >15</text>
<text transform="translate(1571.01,400.73) scale(1.2037,1)" font-size="26.76" font-family="Liberation Sans, Arial, sans-serif" font-weight="bold" fill="#2a2a2a" >0</text>
<text transform="translate(1626.52,428.92) scale(1.0799,1)" font-size="28.45" font-family="Liberation Sans, Arial, sans-serif" font-weight="bold" fill="#2a2a2a" >20</text>
<text transform="translate(1692.05,428.92) scale(1.0661,1)" font-size="28.45" font-family="Liberation Sans, Arial, sans-serif" font-weight="bold" fill="#2a2a2a" >40</text>
<text transform="translate(1758.42,428.92) scale(1.0867,1)" font-size="28.45" font-family="Liberation Sans, Arial, sans-serif" font-weight="bold" fill="#2a2a2a" >60</text>
<text transform="translate(1825.59,428.92) scale(1.0714,1)" font-size="28.45" font-family="Liberation Sans, Arial, sans-serif" font-weight="bold" fill="#2a2a2a" >80</text>
<text transform="translate(1884.21,428.92) scale(0.9882,1)" font-size="28.45" font-family="Liberation Sans, Arial, sans-serif" font-weight="bold" fill="#2a2a2a" >100</text>
<text transform="translate(1711.58,466.55) scale(1.0184,1)" font-size="27.38" font-family="Liberation Sans, Arial, sans-serif" font-weight="bold" fill="#2a2a2a" >Conc. / ppb</text>
<text transform="translate(1624.99,183.41) scale(1.0296,1)" font-size="29.44" font-family="Liberation Sans, Arial, sans-serif" font-weight="bold" fill="#2a2a2a" >Y=-4.919+0.478X</text>
<text transform="translate(1623.72,218.10) scale(0.9753,1)" font-size="29.71" font-family="Liberation Sans, Arial, sans-serif" font-weight="bold" fill="#2a2a2a" >R</text>
<text transform="translate(1645.06,205.80) scale(1.0671,1)" font-size="11.71" font-family="Liberation Sans, Arial, sans-serif" font-weight="bold" fill="#2a2a2a" >2</text>
<text transform="translate(1654.07,217.81) scale(1.0609,1)" font-size="28.87" font-family="Liberation Sans, Arial, sans-serif" font-weight="bold" fill="#2a2a2a" >=0.999</text>
<text transform="translate(1543.55,311.98) rotate(-90) scale(0.9916,1)" font-size="28.34" font-family="Liberation Sans, Arial, sans-serif" font-weight="bold" fill="#2a2a2a" >j / μA cm</text>
<text transform="translate(1529.50,197.07) rotate(-90) scale(1.2423,1)" font-size="11.43" font-family="Liberation Sans, Arial, sans-serif" font-weight="bold" fill="#2a2a2a" >-2</text>
<text x="2096.24" y="138.31" font-size="39.47" letter-spacing="2.66" font-family="Liberation Sans, Arial, sans-serif"  fill="#111" >100 ppb</text>
<text x="2115.18" y="352.03" font-size="40.32" letter-spacing="2.29" font-family="Liberation Sans, Arial, sans-serif"  fill="#111" >20 ppb</text>
<line x1="2168.90" y1="195.60" x2="2168.90" y2="306.40" stroke="#6d6966" stroke-width="3.0" stroke-linecap="butt" />
<polygon points="2168.9,167.0 2160.5,196.6 2177.3,196.6" fill="#111"/>
<text transform="translate(2180.40,688.06) scale(0.9944,1)" font-size="44.14" font-family="Liberation Sans, Arial, sans-serif"  fill="#5a5a5a" >Au</text>
<text transform="translate(2235.42,695.26) scale(0.9074,1)" font-size="24.08" font-family="Liberation Sans, Arial, sans-serif"  fill="#9a9a9a" >93</text>
<text transform="translate(2260.87,688.65) scale(0.9858,1)" font-size="45.21" font-family="Liberation Sans, Arial, sans-serif"  fill="#5a5a5a" >Cu</text>
<text transform="translate(2316.77,694.40) scale(1.1795,1)" font-size="20.87" font-family="Liberation Sans, Arial, sans-serif"  fill="#9a9a9a" >7</text>
<path d="M1738.0,696.7 L1740.0,698.5 L1742.0,700.1 L1744.0,701.6 L1746.0,702.8 L1748.0,703.9 L1750.0,704.7 L1752.0,705.4 L1754.0,706.0 L1756.0,706.3 L1758.0,706.5 L1760.0,706.6 L1762.0,706.5 L1764.0,706.3 L1766.0,706.0 L1768.0,705.5 L1770.0,704.9 L1772.0,704.2 L1774.0,703.4 L1776.0,702.4 L1778.0,701.4 L1780.0,700.3 L1782.0,699.1 L1784.0,697.8 L1786.0,696.5 L1788.0,695.1 L1790.0,693.6 L1792.0,692.1 L1794.0,690.5 L1796.0,688.9 L1798.0,687.2 L1800.0,685.5 L1802.0,683.8 L1804.0,682.0 L1806.0,680.3 L1808.0,678.5 L1810.0,676.8 L1812.0,675.0 L1814.0,673.3 L1816.0,671.5 L1818.0,669.8 L1820.0,668.1 L1822.0,666.4 L1824.0,664.7 L1826.0,663.0 L1828.0,661.3 L1830.0,659.6 L1832.0,658.0 L1834.0,656.3 L1836.0,654.7 L1838.0,653.0 L1840.0,651.4 L1842.0,649.8 L1844.0,648.2 L1846.0,646.6 L1848.0,645.0 L1850.0,643.4 L1852.0,641.9 L1854.0,640.3 L1856.0,638.7 L1858.0,637.2 L1860.0,635.7 L1862.0,634.1 L1864.0,632.6 L1866.0,631.1 L1868.0,629.6 L1870.0,628.1 L1872.0,626.6 L1874.0,625.2 L1876.0,623.7 L1878.0,622.2 L1880.0,620.8 L1882.0,619.3 L1884.0,617.9 L1886.0,616.5 L1888.0,615.1 L1890.0,613.7 L1892.0,612.2 L1894.0,610.8 L1896.0,609.4 L1898.0,608.0 L1900.0,606.6 L1902.0,605.2 L1904.0,603.8 L1906.0,602.3 L1908.0,600.9 L1910.0,599.5 L1912.0,598.2 L1914.0,596.9 L1916.0,595.8 L1918.0,594.8 L1920.0,593.9 L1922.0,593.1 L1924.0,592.6 L1926.0,592.2 L1928.0,592.0 L1930.0,591.9 L1932.0,591.9 L1934.0,592.1 L1936.0,592.4 L1938.0,592.8 L1940.0,593.2 L1942.0,593.7 L1944.0,594.3 L1946.0,595.0 L1948.0,595.6 L1950.0,596.3 L1952.0,597.0 L1954.0,597.7 L1956.0,598.3 L1958.0,599.0 L1960.0,599.6 L1962.0,600.1 L1964.0,600.7 L1966.0,601.2 L1968.0,601.8 L1970.0,602.4 L1972.0,603.0 L1974.0,603.7 L1976.0,604.5 L1978.0,605.3 L1980.0,606.3 L1982.0,607.3 L1984.0,608.4 L1986.0,609.7 L1988.0,611.0 L1990.0,612.4 L1992.0,613.9 L1994.0,615.3 L1996.0,616.7 L1998.0,618.0 L2000.0,619.2 L2002.0,620.4 L2004.0,621.5 L2006.0,622.5 L2008.0,623.5 L2010.0,624.4 L2012.0,625.3 L2014.0,626.0 L2016.0,626.7 L2018.0,627.3 L2020.0,627.9 L2022.0,628.4 L2024.0,628.8 L2026.0,629.2 L2028.0,629.5 L2030.0,629.7 L2032.0,629.8 L2034.0,629.9 L2036.0,629.9 L2038.0,629.9 L2040.0,629.7 L2042.0,629.6 L2044.0,629.3 L2046.0,629.0 L2048.0,628.7 L2050.0,628.2 L2052.0,627.8 L2054.0,627.2 L2056.0,626.7 L2058.0,626.0 L2060.0,625.4 L2062.0,624.6 L2064.0,623.9 L2066.0,623.0 L2068.0,622.2 L2070.0,621.3 L2072.0,620.3 L2074.0,619.3 L2076.0,618.3 L2078.0,617.2 L2080.0,616.1 L2082.0,615.0 L2084.0,613.8 L2086.0,612.6 L2088.0,611.4 L2090.0,610.2 L2092.0,608.9 L2094.0,607.6 L2096.0,606.2 L2098.0,604.9 L2100.0,603.5 L2102.0,602.1 L2104.0,600.7 L2106.0,599.3 L2108.0,597.8 L2110.0,596.3 L2112.0,594.8 L2114.0,593.3 L2116.0,591.8 L2118.0,590.2 L2120.0,588.6 L2122.0,586.9 L2124.0,585.3 L2126.0,583.5 L2128.0,581.8 L2130.0,580.0 L2132.0,578.2 L2134.0,576.3 L2136.0,574.3 L2138.0,572.4 L2140.0,570.3 L2142.0,568.3 L2144.0,566.1 L2146.0,564.0 L2148.0,561.7 L2150.0,559.5 L2152.0,557.2 L2154.0,554.8 L2156.0,552.5 L2158.0,550.1 L2160.0,547.7 L2162.0,545.3 L2164.0,542.9 L2166.0,540.5 L2168.0,538.0 L2170.0,535.6 L2172.0,533.2 L2174.0,530.8 L2176.0,528.4 L2178.0,526.0 L2180.0,523.7 L2182.0,521.3 L2184.0,519.0 L2186.0,516.6 L2188.0,514.3 L2190.0,511.9 L2192.0,509.5 L2194.0,507.1 L2196.0,504.7 L2198.0,502.2 L2200.0,499.7 L2202.0,497.1 L2204.0,494.5 L2206.0,491.7 L2208.0,488.9 L2210.0,486.0 L2212.0,482.9 L2214.0,479.7 L2216.0,476.4 L2218.0,472.9 L2220.0,469.4 L2222.0,465.7 L2224.0,462.1 L2226.0,458.3 L2228.0,454.6 L2230.0,450.9 L2232.0,447.2 L2234.0,443.6 L2236.0,440.0 L2238.0,436.5 L2240.0,433.0 L2242.0,429.6 L2244.0,426.2 L2246.0,422.8 L2248.0,419.5 L2250.0,416.2 L2252.0,412.9 L2254.0,409.6 L2256.0,406.4 L2258.0,403.2 L2260.0,400.0 L2262.0,396.8 L2264.0,393.7 L2266.0,390.6 L2268.0,387.5 L2270.0,384.4 L2272.0,381.3 L2274.0,378.3 L2276.0,375.3 L2278.0,372.4 L2280.0,369.4 L2282.0,366.5 L2284.0,363.6 L2286.0,360.7 L2288.0,357.9 L2290.0,355.0 L2292.0,352.2 L2294.0,349.5 L2296.0,346.7 L2298.0,344.0 L2300.0,341.3 L2302.0,338.6 L2304.0,335.9 L2306.0,333.3 L2308.0,330.7 L2310.0,328.1 L2312.0,325.6 L2314.0,323.1 L2316.0,320.6 L2318.0,318.1 L2320.0,315.6 L2322.0,313.2" fill="none" stroke="#b9b6b4" stroke-width="3.2" stroke-dasharray="0.1 13" stroke-linecap="round"/>
<path d="M1738.5,630.9 L1738.0,642.9 L1740.0,642.9 L1742.0,642.8 L1744.0,642.6 L1746.0,642.4 L1748.0,642.2 L1750.0,641.9 L1752.0,641.6 L1754.0,641.2 L1756.0,640.8 L1758.0,640.4 L1760.0,639.9 L1762.0,639.4 L1764.0,638.8 L1766.0,638.2 L1768.0,637.6 L1770.0,636.9 L1772.0,636.3 L1774.0,635.5 L1776.0,634.8 L1778.0,634.0 L1780.0,633.2 L1782.0,632.4 L1784.0,631.6 L1786.0,630.7 L1788.0,629.8 L1790.0,628.9 L1792.0,628.0 L1794.0,627.1 L1796.0,626.1 L1798.0,625.2 L1800.0,624.2 L1802.0,623.2 L1804.0,622.2 L1806.0,621.2 L1808.0,620.2 L1810.0,619.1 L1812.0,618.1 L1814.0,617.1 L1816.0,616.0 L1818.0,615.0 L1820.0,613.9 L1822.0,612.9 L1824.0,611.8 L1826.0,610.8 L1828.0,609.8 L1830.0,608.7 L1832.0,607.7 L1834.0,606.7 L1836.0,605.7 L1838.0,604.7 L1840.0,603.7 L1842.0,602.7 L1844.0,601.8 L1846.0,600.8 L1848.0,599.9 L1850.0,599.0 L1852.0,598.1 L1854.0,597.2 L1856.0,596.4 L1858.0,595.5 L1860.0,594.7 L1862.0,594.0 L1864.0,593.2 L1866.0,592.5 L1868.0,591.8 L1870.0,591.1 L1872.0,590.5 L1874.0,589.9 L1876.0,589.3 L1878.0,588.8 L1880.0,588.3 L1882.0,587.8 L1884.0,587.4 L1886.0,587.0 L1888.0,586.6 L1890.0,586.3 L1892.0,586.0 L1894.0,585.7 L1896.0,585.5 L1898.0,585.2 L1900.0,584.9 L1902.0,584.7 L1904.0,584.4 L1906.0,584.0 L1908.0,583.7 L1910.0,583.3 L1912.0,582.9 L1914.0,582.5 L1916.0,582.0 L1918.0,581.5 L1920.0,581.0 L1922.0,580.4 L1924.0,579.1 L1926.0,573.9 L1928.0,564.8 L1930.0,555.3 L1932.0,548.0 L1934.0,541.2 L1936.0,534.2 L1938.0,526.9 L1940.0,519.2 L1942.0,511.0 L1944.0,502.2 L1946.0,493.0 L1948.0,483.4 L1950.0,473.4 L1952.0,463.1 L1954.0,452.6 L1956.0,442.0 L1958.0,431.3 L1960.0,420.5 L1962.0,409.8 L1964.0,399.2 L1966.0,388.8 L1968.0,378.5 L1970.0,368.5 L1972.0,358.8 L1974.0,349.5 L1976.0,340.6 L1978.0,332.1 L1980.0,324.1 L1982.0,316.6 L1984.0,309.6 L1986.0,303.0 L1988.0,296.8 L1990.0,291.0 L1992.0,285.6 L1994.0,280.5 L1996.0,275.7 L1998.0,271.2 L2000.0,266.9 L2002.0,262.9 L2004.0,259.2 L2006.0,255.8 L2008.0,252.7 L2010.0,249.8 L2012.0,247.3 L2014.0,245.0 L2016.0,243.0 L2018.0,241.3 L2020.0,239.9 L2022.0,238.7 L2024.0,237.9 L2026.0,237.3 L2028.0,237.1 L2030.0,237.1 L2032.0,237.4 L2034.0,238.0 L2036.0,238.9 L2038.0,240.1 L2040.0,241.6 L2042.0,243.5 L2044.0,245.6 L2046.0,248.0 L2048.0,250.7 L2050.0,253.8 L2052.0,257.2 L2054.0,260.8 L2056.0,264.8 L2058.0,269.0 L2060.0,273.4 L2062.0,278.1 L2064.0,282.9 L2066.0,287.8 L2068.0,292.9 L2070.0,298.1 L2072.0,303.4 L2074.0,308.8 L2076.0,314.2 L2078.0,319.6 L2080.0,325.0 L2082.0,330.4 L2084.0,335.8 L2086.0,341.1 L2088.0,346.4 L2090.0,351.6 L2092.0,356.7 L2094.0,361.7 L2096.0,366.5 L2098.0,371.2 L2100.0,375.7 L2102.0,380.1 L2104.0,384.2 L2106.0,388.1 L2108.0,391.8 L2110.0,395.3 L2112.0,398.7 L2114.0,402.1 L2116.0,405.7 L2118.0,409.4 L2120.0,413.1 L2122.0,416.7 L2124.0,420.1 L2126.0,423.1 L2128.0,425.7 L2130.0,428.0 L2132.0,429.9 L2134.0,431.5 L2136.0,432.9 L2138.0,434.0 L2140.0,435.0 L2142.0,435.8 L2144.0,436.6 L2146.0,437.2 L2148.0,437.8 L2150.0,438.3 L2152.0,438.8 L2154.0,439.2 L2156.0,439.5 L2158.0,439.7 L2160.0,439.9 L2162.0,440.0 L2164.0,440.0 L2166.0,440.0 L2168.0,440.0 L2170.0,439.8 L2172.0,439.6 L2174.0,439.4 L2176.0,439.1 L2178.0,438.8 L2180.0,438.4 L2182.0,438.0 L2184.0,437.5 L2186.0,436.9 L2188.0,436.4 L2190.0,435.7 L2192.0,435.0 L2194.0,434.3 L2196.0,433.5 L2198.0,432.6 L2200.0,431.7 L2202.0,430.8 L2204.0,429.7 L2206.0,428.6 L2208.0,427.5 L2210.0,426.3 L2212.0,425.0 L2214.0,423.7 L2216.0,422.3 L2218.0,420.8 L2220.0,419.3 L2222.0,417.7 L2224.0,416.0 L2226.0,414.3 L2228.0,412.5 L2230.0,410.6 L2232.0,408.7 L2234.0,406.7 L2236.0,404.6 L2238.0,402.4 L2240.0,400.1 L2242.0,397.8 L2244.0,395.4 L2246.0,393.0 L2248.0,390.4 L2250.0,387.8 L2252.0,385.0 L2254.0,382.2 L2256.0,379.4 L2258.0,376.4 L2260.0,373.4 L2262.0,370.3 L2264.0,367.1 L2266.0,363.8 L2268.0,360.5 L2270.0,357.1 L2272.0,353.7 L2274.0,350.2 L2276.0,346.6 L2278.0,343.0 L2280.0,339.3 L2282.0,335.6 L2284.0,331.8 L2286.0,328.0 L2288.0,324.2 L2290.0,320.3 L2292.0,316.4 L2294.0,312.4 L2296.0,308.3 L2298.0,304.3 L2300.0,300.1 L2302.0,295.9 L2304.0,291.6 L2306.0,287.2 L2308.0,282.8 L2310.0,278.2 L2312.0,273.5 L2314.0,268.8 L2316.0,263.9 L2318.0,258.9 L2320.0,253.7 L2322.0,248.5 L2324.0,243.1 L2326.0,237.5" fill="none" stroke="#161212" stroke-opacity="1.0" stroke-width="2.1" stroke-linejoin="round" stroke-linecap="round" />
<path d="M1738.5,634.9 L1738.0,646.9 L1740.0,647.0 L1742.0,647.0 L1744.0,646.9 L1746.0,646.8 L1748.0,646.6 L1750.0,646.4 L1752.0,646.1 L1754.0,645.8 L1756.0,645.4 L1758.0,645.0 L1760.0,644.6 L1762.0,644.1 L1764.0,643.5 L1766.0,643.0 L1768.0,642.3 L1770.0,641.7 L1772.0,641.0 L1774.0,640.3 L1776.0,639.6 L1778.0,638.8 L1780.0,638.0 L1782.0,637.2 L1784.0,636.3 L1786.0,635.5 L1788.0,634.6 L1790.0,633.6 L1792.0,632.7 L1794.0,631.8 L1796.0,630.8 L1798.0,629.8 L1800.0,628.8 L1802.0,627.9 L1804.0,626.8 L1806.0,625.8 L1808.0,624.8 L1810.0,623.8 L1812.0,622.8 L1814.0,621.7 L1816.0,620.7 L1818.0,619.7 L1820.0,618.7 L1822.0,617.7 L1824.0,616.6 L1826.0,615.6 L1828.0,614.6 L1830.0,613.6 L1832.0,612.6 L1834.0,611.6 L1836.0,610.6 L1838.0,609.7 L1840.0,608.7 L1842.0,607.7 L1844.0,606.8 L1846.0,605.9 L1848.0,604.9 L1850.0,604.0 L1852.0,603.1 L1854.0,602.2 L1856.0,601.4 L1858.0,600.5 L1860.0,599.7 L1862.0,598.9 L1864.0,598.1 L1866.0,597.3 L1868.0,596.5 L1870.0,595.8 L1872.0,595.0 L1874.0,594.3 L1876.0,593.7 L1878.0,593.0 L1880.0,592.4 L1882.0,591.8 L1884.0,591.2 L1886.0,590.6 L1888.0,590.1 L1890.0,589.6 L1892.0,589.1 L1894.0,588.6 L1896.0,588.1 L1898.0,587.7 L1900.0,587.2 L1902.0,586.7 L1904.0,586.2 L1906.0,585.8 L1908.0,585.3 L1910.0,584.8 L1912.0,584.2 L1914.0,583.7 L1916.0,583.1 L1918.0,582.5 L1920.0,581.8 L1922.0,581.1 L1924.0,579.8 L1926.0,575.3 L1928.0,567.4 L1930.0,559.2 L1932.0,552.9 L1934.0,546.9 L1936.0,540.8 L1938.0,534.4 L1940.0,527.7 L1942.0,520.5 L1944.0,512.9 L1946.0,504.9 L1948.0,496.5 L1950.0,487.8 L1952.0,478.9 L1954.0,469.7 L1956.0,460.5 L1958.0,451.1 L1960.0,441.8 L1962.0,432.4 L1964.0,423.2 L1966.0,414.0 L1968.0,405.0 L1970.0,396.2 L1972.0,387.7 L1974.0,379.4 L1976.0,371.5 L1978.0,364.0 L1980.0,356.8 L1982.0,350.1 L1984.0,343.8 L1986.0,337.8 L1988.0,332.1 L1990.0,326.8 L1992.0,321.8 L1994.0,317.0 L1996.0,312.5 L1998.0,308.2 L2000.0,304.1 L2002.0,300.3 L2004.0,296.7 L2006.0,293.3 L2008.0,290.2 L2010.0,287.3 L2012.0,284.7 L2014.0,282.3 L2016.0,280.2 L2018.0,278.3 L2020.0,276.6 L2022.0,275.3 L2024.0,274.1 L2026.0,273.3 L2028.0,272.6 L2030.0,272.3 L2032.0,272.2 L2034.0,272.4 L2036.0,272.8 L2038.0,273.5 L2040.0,274.5 L2042.0,275.8 L2044.0,277.3 L2046.0,279.1 L2048.0,281.2 L2050.0,283.6 L2052.0,286.3 L2054.0,289.3 L2056.0,292.5 L2058.0,295.9 L2060.0,299.5 L2062.0,303.4 L2064.0,307.4 L2066.0,311.6 L2068.0,315.9 L2070.0,320.3 L2072.0,324.8 L2074.0,329.3 L2076.0,333.9 L2078.0,338.6 L2080.0,343.2 L2082.0,347.9 L2084.0,352.5 L2086.0,357.2 L2088.0,361.8 L2090.0,366.3 L2092.0,370.8 L2094.0,375.3 L2096.0,379.6 L2098.0,383.8 L2100.0,387.9 L2102.0,391.9 L2104.0,395.7 L2106.0,399.3 L2108.0,402.8 L2110.0,406.1 L2112.0,409.3 L2114.0,412.6 L2116.0,415.9 L2118.0,419.3 L2120.0,422.8 L2122.0,426.2 L2124.0,429.4 L2126.0,432.2 L2128.0,434.8 L2130.0,436.9 L2132.0,438.8 L2134.0,440.5 L2136.0,441.9 L2138.0,443.1 L2140.0,444.1 L2142.0,445.0 L2144.0,445.8 L2146.0,446.5 L2148.0,447.1 L2150.0,447.6 L2152.0,448.1 L2154.0,448.4 L2156.0,448.8 L2158.0,449.0 L2160.0,449.2 L2162.0,449.3 L2164.0,449.4 L2166.0,449.4 L2168.0,449.4 L2170.0,449.3 L2172.0,449.2 L2174.0,449.0 L2176.0,448.8 L2178.0,448.4 L2180.0,448.1 L2182.0,447.6 L2184.0,447.1 L2186.0,446.6 L2188.0,446.0 L2190.0,445.3 L2192.0,444.5 L2194.0,443.7 L2196.0,442.8 L2198.0,441.9 L2200.0,440.9 L2202.0,439.9 L2204.0,438.8 L2206.0,437.7 L2208.0,436.5 L2210.0,435.1 L2212.0,433.7 L2214.0,432.2 L2216.0,430.5 L2218.0,428.7 L2220.0,426.8 L2222.0,424.8 L2224.0,422.7 L2226.0,420.5 L2228.0,418.3 L2230.0,416.0 L2232.0,413.6 L2234.0,411.2 L2236.0,408.8 L2238.0,406.4 L2240.0,404.0 L2242.0,401.5 L2244.0,399.1 L2246.0,396.6 L2248.0,394.1 L2250.0,391.5 L2252.0,388.9 L2254.0,386.3 L2256.0,383.6 L2258.0,380.9 L2260.0,378.1 L2262.0,375.3 L2264.0,372.5 L2266.0,369.6 L2268.0,366.7 L2270.0,363.8 L2272.0,360.9 L2274.0,357.9 L2276.0,355.0 L2278.0,352.0 L2280.0,349.0 L2282.0,345.9 L2284.0,342.9 L2286.0,339.9 L2288.0,336.8 L2290.0,333.8 L2292.0,330.8 L2294.0,327.7 L2296.0,324.7 L2298.0,321.6 L2300.0,318.5 L2302.0,315.4 L2304.0,312.3 L2306.0,309.1 L2308.0,305.9 L2310.0,302.7 L2312.0,299.4 L2314.0,296.1 L2316.0,292.7 L2318.0,289.3 L2320.0,285.8 L2322.0,282.2 L2324.0,278.6 L2326.0,274.9" fill="none" stroke="#161212" stroke-opacity="1.0" stroke-width="2.1" stroke-linejoin="round" stroke-linecap="round" />
<path d="M1738.5,639.3 L1738.0,651.3 L1740.0,651.4 L1742.0,651.5 L1744.0,651.5 L1746.0,651.5 L1748.0,651.4 L1750.0,651.2 L1752.0,651.0 L1754.0,650.7 L1756.0,650.4 L1758.0,650.0 L1760.0,649.6 L1762.0,649.1 L1764.0,648.6 L1766.0,648.1 L1768.0,647.5 L1770.0,646.8 L1772.0,646.1 L1774.0,645.4 L1776.0,644.7 L1778.0,643.9 L1780.0,643.1 L1782.0,642.3 L1784.0,641.4 L1786.0,640.5 L1788.0,639.6 L1790.0,638.7 L1792.0,637.8 L1794.0,636.8 L1796.0,635.8 L1798.0,634.9 L1800.0,633.9 L1802.0,632.9 L1804.0,631.9 L1806.0,630.9 L1808.0,629.8 L1810.0,628.8 L1812.0,627.8 L1814.0,626.8 L1816.0,625.8 L1818.0,624.8 L1820.0,623.8 L1822.0,622.8 L1824.0,621.8 L1826.0,620.8 L1828.0,619.9 L1830.0,618.9 L1832.0,617.9 L1834.0,616.9 L1836.0,616.0 L1838.0,615.0 L1840.0,614.1 L1842.0,613.2 L1844.0,612.2 L1846.0,611.3 L1848.0,610.4 L1850.0,609.5 L1852.0,608.6 L1854.0,607.7 L1856.0,606.8 L1858.0,605.9 L1860.0,605.0 L1862.0,604.2 L1864.0,603.3 L1866.0,602.5 L1868.0,601.6 L1870.0,600.8 L1872.0,600.0 L1874.0,599.2 L1876.0,598.4 L1878.0,597.6 L1880.0,596.8 L1882.0,596.0 L1884.0,595.3 L1886.0,594.5 L1888.0,593.8 L1890.0,593.1 L1892.0,592.4 L1894.0,591.7 L1896.0,591.0 L1898.0,590.3 L1900.0,589.6 L1902.0,588.9 L1904.0,588.3 L1906.0,587.6 L1908.0,586.9 L1910.0,586.3 L1912.0,585.6 L1914.0,584.9 L1916.0,584.2 L1918.0,583.5 L1920.0,582.7 L1922.0,581.9 L1924.0,580.6 L1926.0,576.7 L1928.0,570.2 L1930.0,563.4 L1932.0,558.1 L1934.0,553.1 L1936.0,547.9 L1938.0,542.5 L1940.0,536.8 L1942.0,530.8 L1944.0,524.4 L1946.0,517.6 L1948.0,510.6 L1950.0,503.3 L1952.0,495.8 L1954.0,488.2 L1956.0,480.4 L1958.0,472.5 L1960.0,464.7 L1962.0,456.8 L1964.0,449.0 L1966.0,441.2 L1968.0,433.6 L1970.0,426.1 L1972.0,418.8 L1974.0,411.7 L1976.0,404.9 L1978.0,398.3 L1980.0,392.1 L1982.0,386.2 L1984.0,380.6 L1986.0,375.2 L1988.0,370.1 L1990.0,365.3 L1992.0,360.7 L1994.0,356.3 L1996.0,352.1 L1998.0,348.0 L2000.0,344.2 L2002.0,340.5 L2004.0,337.0 L2006.0,333.7 L2008.0,330.6 L2010.0,327.7 L2012.0,325.0 L2014.0,322.5 L2016.0,320.2 L2018.0,318.1 L2020.0,316.3 L2022.0,314.6 L2024.0,313.2 L2026.0,311.9 L2028.0,310.9 L2030.0,310.2 L2032.0,309.7 L2034.0,309.4 L2036.0,309.3 L2038.0,309.5 L2040.0,309.9 L2042.0,310.6 L2044.0,311.5 L2046.0,312.7 L2048.0,314.1 L2050.0,315.8 L2052.0,317.7 L2054.0,319.9 L2056.0,322.3 L2058.0,324.9 L2060.0,327.7 L2062.0,330.7 L2064.0,333.8 L2066.0,337.1 L2068.0,340.5 L2070.0,344.1 L2072.0,347.7 L2074.0,351.4 L2076.0,355.2 L2078.0,359.0 L2080.0,362.8 L2082.0,366.7 L2084.0,370.5 L2086.0,374.4 L2088.0,378.3 L2090.0,382.2 L2092.0,386.0 L2094.0,389.9 L2096.0,393.7 L2098.0,397.4 L2100.0,401.1 L2102.0,404.6 L2104.0,408.1 L2106.0,411.4 L2108.0,414.6 L2110.0,417.7 L2112.0,420.7 L2114.0,423.8 L2116.0,426.9 L2118.0,430.0 L2120.0,433.3 L2122.0,436.4 L2124.0,439.4 L2126.0,442.1 L2128.0,444.5 L2130.0,446.6 L2132.0,448.5 L2134.0,450.2 L2136.0,451.6 L2138.0,452.9 L2140.0,454.0 L2142.0,454.9 L2144.0,455.7 L2146.0,456.5 L2148.0,457.1 L2150.0,457.6 L2152.0,458.1 L2154.0,458.4 L2156.0,458.8 L2158.0,459.0 L2160.0,459.2 L2162.0,459.4 L2164.0,459.5 L2166.0,459.6 L2168.0,459.6 L2170.0,459.6 L2172.0,459.5 L2174.0,459.3 L2176.0,459.1 L2178.0,458.9 L2180.0,458.5 L2182.0,458.1 L2184.0,457.6 L2186.0,457.0 L2188.0,456.3 L2190.0,455.6 L2192.0,454.7 L2194.0,453.8 L2196.0,452.9 L2198.0,451.8 L2200.0,450.7 L2202.0,449.8 L2204.0,448.8 L2206.0,447.7 L2208.0,446.4 L2210.0,445.0 L2212.0,443.5 L2214.0,441.8 L2216.0,439.8 L2218.0,437.7 L2220.0,435.5 L2222.0,433.0 L2224.0,430.5 L2226.0,427.8 L2228.0,425.1 L2230.0,422.3 L2232.0,419.5 L2234.0,416.7 L2236.0,413.9 L2238.0,411.2 L2240.0,408.6 L2242.0,406.0 L2244.0,403.5 L2246.0,401.0 L2248.0,398.5 L2250.0,396.1 L2252.0,393.7 L2254.0,391.3 L2256.0,388.9 L2258.0,386.5 L2260.0,384.1 L2262.0,381.7 L2264.0,379.4 L2266.0,377.0 L2268.0,374.7 L2270.0,372.4 L2272.0,370.2 L2274.0,367.9 L2276.0,365.7 L2278.0,363.6 L2280.0,361.5 L2282.0,359.4 L2284.0,357.4 L2286.0,355.4 L2288.0,353.5 L2290.0,351.6 L2292.0,349.8 L2294.0,348.0 L2296.0,346.3 L2298.0,344.6 L2300.0,343.0 L2302.0,341.4 L2304.0,339.9 L2306.0,338.4 L2308.0,337.0 L2310.0,335.6 L2312.0,334.3 L2314.0,333.0 L2316.0,331.7 L2318.0,330.5 L2320.0,329.3 L2322.0,328.2 L2324.0,327.2 L2326.0,326.1" fill="none" stroke="#161212" stroke-opacity="1.0" stroke-width="2.1" stroke-linejoin="round" stroke-linecap="round" />
<path d="M1738.5,643.4 L1738.0,655.4 L1740.0,655.6 L1742.0,655.8 L1744.0,655.9 L1746.0,655.9 L1748.0,655.9 L1750.0,655.8 L1752.0,655.6 L1754.0,655.4 L1756.0,655.1 L1758.0,654.8 L1760.0,654.4 L1762.0,653.9 L1764.0,653.4 L1766.0,652.9 L1768.0,652.3 L1770.0,651.7 L1772.0,651.0 L1774.0,650.3 L1776.0,649.5 L1778.0,648.8 L1780.0,648.0 L1782.0,647.1 L1784.0,646.2 L1786.0,645.4 L1788.0,644.4 L1790.0,643.5 L1792.0,642.6 L1794.0,641.6 L1796.0,640.6 L1798.0,639.6 L1800.0,638.6 L1802.0,637.6 L1804.0,636.6 L1806.0,635.6 L1808.0,634.6 L1810.0,633.6 L1812.0,632.6 L1814.0,631.6 L1816.0,630.6 L1818.0,629.6 L1820.0,628.6 L1822.0,627.7 L1824.0,626.7 L1826.0,625.8 L1828.0,624.8 L1830.0,623.9 L1832.0,622.9 L1834.0,622.0 L1836.0,621.1 L1838.0,620.1 L1840.0,619.2 L1842.0,618.3 L1844.0,617.4 L1846.0,616.4 L1848.0,615.5 L1850.0,614.6 L1852.0,613.7 L1854.0,612.8 L1856.0,611.9 L1858.0,611.0 L1860.0,610.1 L1862.0,609.2 L1864.0,608.3 L1866.0,607.4 L1868.0,606.5 L1870.0,605.6 L1872.0,604.6 L1874.0,603.7 L1876.0,602.8 L1878.0,601.9 L1880.0,601.0 L1882.0,600.1 L1884.0,599.2 L1886.0,598.3 L1888.0,597.3 L1890.0,596.4 L1892.0,595.5 L1894.0,594.6 L1896.0,593.7 L1898.0,592.8 L1900.0,591.9 L1902.0,591.0 L1904.0,590.2 L1906.0,589.4 L1908.0,588.5 L1910.0,587.7 L1912.0,586.9 L1914.0,586.1 L1916.0,585.3 L1918.0,584.4 L1920.0,583.6 L1922.0,582.7 L1924.0,581.4 L1926.0,578.1 L1928.0,572.9 L1930.0,567.4 L1932.0,563.0 L1934.0,558.9 L1936.0,554.6 L1938.0,550.2 L1940.0,545.5 L1942.0,540.5 L1944.0,535.3 L1946.0,529.7 L1948.0,524.0 L1950.0,518.0 L1952.0,511.9 L1954.0,505.6 L1956.0,499.2 L1958.0,492.8 L1960.0,486.3 L1962.0,479.8 L1964.0,473.4 L1966.0,466.9 L1968.0,460.6 L1970.0,454.3 L1972.0,448.2 L1974.0,442.2 L1976.0,436.4 L1978.0,430.8 L1980.0,425.4 L1982.0,420.3 L1984.0,415.4 L1986.0,410.6 L1988.0,406.1 L1990.0,401.7 L1992.0,397.5 L1994.0,393.5 L1996.0,389.5 L1998.0,385.8 L2000.0,382.1 L2002.0,378.6 L2004.0,375.2 L2006.0,372.0 L2008.0,368.9 L2010.0,365.9 L2012.0,363.2 L2014.0,360.6 L2016.0,358.1 L2018.0,355.8 L2020.0,353.7 L2022.0,351.8 L2024.0,350.1 L2026.0,348.5 L2028.0,347.2 L2030.0,346.1 L2032.0,345.1 L2034.0,344.4 L2036.0,343.9 L2038.0,343.5 L2040.0,343.4 L2042.0,343.6 L2044.0,343.9 L2046.0,344.4 L2048.0,345.2 L2050.0,346.2 L2052.0,347.4 L2054.0,348.8 L2056.0,350.5 L2058.0,352.3 L2060.0,354.3 L2062.0,356.5 L2064.0,358.8 L2066.0,361.3 L2068.0,363.9 L2070.0,366.6 L2072.0,369.4 L2074.0,372.4 L2076.0,375.3 L2078.0,378.4 L2080.0,381.4 L2082.0,384.5 L2084.0,387.6 L2086.0,390.7 L2088.0,393.9 L2090.0,397.1 L2092.0,400.4 L2094.0,403.7 L2096.0,407.0 L2098.0,410.3 L2100.0,413.5 L2102.0,416.7 L2104.0,419.8 L2106.0,422.9 L2108.0,425.8 L2110.0,428.7 L2112.0,431.5 L2114.0,434.4 L2116.0,437.2 L2118.0,440.2 L2120.0,443.2 L2122.0,446.1 L2124.0,448.8 L2126.0,451.4 L2128.0,453.7 L2130.0,455.8 L2132.0,457.6 L2134.0,459.3 L2136.0,460.8 L2138.0,462.1 L2140.0,463.3 L2142.0,464.3 L2144.0,465.1 L2146.0,465.9 L2148.0,466.5 L2150.0,467.1 L2152.0,467.5 L2154.0,467.9 L2156.0,468.2 L2158.0,468.5 L2160.0,468.7 L2162.0,468.9 L2164.0,469.0 L2166.0,469.2 L2168.0,469.2 L2170.0,469.3 L2172.0,469.2 L2174.0,469.1 L2176.0,469.0 L2178.0,468.7 L2180.0,468.4 L2182.0,467.9 L2184.0,467.4 L2186.0,466.8 L2188.0,466.1 L2190.0,465.3 L2192.0,464.4 L2194.0,463.4 L2196.0,462.4 L2198.0,461.2 L2200.0,460.0 L2202.0,459.0 L2204.0,457.8 L2206.0,456.5 L2208.0,455.0 L2210.0,453.4 L2212.0,451.6 L2214.0,449.5 L2216.0,447.3 L2218.0,444.8 L2220.0,442.1 L2222.0,439.2 L2224.0,436.2 L2226.0,433.1 L2228.0,429.9 L2230.0,426.7 L2232.0,423.5 L2234.0,420.3 L2236.0,417.3 L2238.0,414.4 L2240.0,411.5 L2242.0,408.8 L2244.0,406.2 L2246.0,403.7 L2248.0,401.2 L2250.0,398.8 L2252.0,396.4 L2254.0,394.1 L2256.0,391.8 L2258.0,389.5 L2260.0,387.3 L2262.0,385.1 L2264.0,382.9 L2266.0,380.8 L2268.0,378.7 L2270.0,376.7 L2272.0,374.7 L2274.0,372.8 L2276.0,370.9 L2278.0,369.1 L2280.0,367.3 L2282.0,365.6 L2284.0,363.9 L2286.0,362.3 L2288.0,360.8 L2290.0,359.3 L2292.0,357.9 L2294.0,356.6 L2296.0,355.3 L2298.0,354.1 L2300.0,353.0 L2302.0,351.9 L2304.0,350.9 L2306.0,349.9 L2308.0,349.0 L2310.0,348.2 L2312.0,347.4 L2314.0,346.7 L2316.0,346.1 L2318.0,345.5 L2320.0,345.0 L2322.0,344.5 L2324.0,344.2 L2326.0,343.9" fill="none" stroke="#161212" stroke-opacity="1.0" stroke-width="2.1" stroke-linejoin="round" stroke-linecap="round" />
<path d="M1738.5,646.8 L1738.0,658.8 L1740.0,659.1 L1742.0,659.3 L1744.0,659.5 L1746.0,659.6 L1748.0,659.6 L1750.0,659.6 L1752.0,659.4 L1754.0,659.3 L1756.0,659.0 L1758.0,658.7 L1760.0,658.3 L1762.0,657.9 L1764.0,657.4 L1766.0,656.9 L1768.0,656.3 L1770.0,655.7 L1772.0,655.0 L1774.0,654.3 L1776.0,653.6 L1778.0,652.8 L1780.0,652.0 L1782.0,651.1 L1784.0,650.3 L1786.0,649.4 L1788.0,648.4 L1790.0,647.5 L1792.0,646.5 L1794.0,645.6 L1796.0,644.6 L1798.0,643.6 L1800.0,642.6 L1802.0,641.6 L1804.0,640.6 L1806.0,639.5 L1808.0,638.5 L1810.0,637.5 L1812.0,636.5 L1814.0,635.6 L1816.0,634.6 L1818.0,633.6 L1820.0,632.7 L1822.0,631.7 L1824.0,630.8 L1826.0,629.9 L1828.0,628.9 L1830.0,628.0 L1832.0,627.1 L1834.0,626.2 L1836.0,625.3 L1838.0,624.3 L1840.0,623.4 L1842.0,622.5 L1844.0,621.6 L1846.0,620.7 L1848.0,619.8 L1850.0,618.9 L1852.0,618.0 L1854.0,617.1 L1856.0,616.1 L1858.0,615.2 L1860.0,614.3 L1862.0,613.3 L1864.0,612.4 L1866.0,611.4 L1868.0,610.5 L1870.0,609.5 L1872.0,608.5 L1874.0,607.5 L1876.0,606.5 L1878.0,605.5 L1880.0,604.5 L1882.0,603.4 L1884.0,602.4 L1886.0,601.3 L1888.0,600.2 L1890.0,599.2 L1892.0,598.1 L1894.0,597.0 L1896.0,595.9 L1898.0,594.8 L1900.0,593.8 L1902.0,592.8 L1904.0,591.8 L1906.0,590.8 L1908.0,589.9 L1910.0,588.9 L1912.0,588.0 L1914.0,587.1 L1916.0,586.2 L1918.0,585.2 L1920.0,584.3 L1922.0,583.3 L1924.0,582.0 L1926.0,579.3 L1928.0,575.1 L1930.0,570.7 L1932.0,567.2 L1934.0,563.7 L1936.0,560.2 L1938.0,556.5 L1940.0,552.7 L1942.0,548.6 L1944.0,544.3 L1946.0,539.8 L1948.0,535.1 L1950.0,530.2 L1952.0,525.2 L1954.0,520.1 L1956.0,514.9 L1958.0,509.6 L1960.0,504.3 L1962.0,499.0 L1964.0,493.6 L1966.0,488.3 L1968.0,483.0 L1970.0,477.8 L1972.0,472.6 L1974.0,467.5 L1976.0,462.6 L1978.0,457.8 L1980.0,453.1 L1982.0,448.6 L1984.0,444.3 L1986.0,440.1 L1988.0,436.0 L1990.0,432.0 L1992.0,428.1 L1994.0,424.3 L1996.0,420.7 L1998.0,417.1 L2000.0,413.6 L2002.0,410.2 L2004.0,406.9 L2006.0,403.7 L2008.0,400.6 L2010.0,397.7 L2012.0,394.8 L2014.0,392.1 L2016.0,389.6 L2018.0,387.1 L2020.0,384.9 L2022.0,382.7 L2024.0,380.7 L2026.0,378.9 L2028.0,377.3 L2030.0,375.8 L2032.0,374.5 L2034.0,373.4 L2036.0,372.5 L2038.0,371.8 L2040.0,371.3 L2042.0,370.9 L2044.0,370.8 L2046.0,370.8 L2048.0,371.0 L2050.0,371.5 L2052.0,372.1 L2054.0,372.9 L2056.0,373.9 L2058.0,375.1 L2060.0,376.4 L2062.0,377.9 L2064.0,379.6 L2066.0,381.4 L2068.0,383.3 L2070.0,385.3 L2072.0,387.5 L2074.0,389.7 L2076.0,392.0 L2078.0,394.4 L2080.0,396.8 L2082.0,399.3 L2084.0,401.7 L2086.0,404.3 L2088.0,406.9 L2090.0,409.6 L2092.0,412.4 L2094.0,415.2 L2096.0,418.1 L2098.0,420.9 L2100.0,423.8 L2102.0,426.7 L2104.0,429.6 L2106.0,432.4 L2108.0,435.1 L2110.0,437.8 L2112.0,440.5 L2114.0,443.2 L2116.0,445.9 L2118.0,448.6 L2120.0,451.4 L2122.0,454.1 L2124.0,456.7 L2126.0,459.1 L2128.0,461.3 L2130.0,463.4 L2132.0,465.2 L2134.0,466.9 L2136.0,468.4 L2138.0,469.8 L2140.0,471.0 L2142.0,472.0 L2144.0,472.9 L2146.0,473.7 L2148.0,474.4 L2150.0,474.9 L2152.0,475.4 L2154.0,475.8 L2156.0,476.1 L2158.0,476.3 L2160.0,476.6 L2162.0,476.8 L2164.0,477.0 L2166.0,477.1 L2168.0,477.2 L2170.0,477.3 L2172.0,477.3 L2174.0,477.3 L2176.0,477.1 L2178.0,476.9 L2180.0,476.6 L2182.0,476.1 L2184.0,475.6 L2186.0,475.0 L2188.0,474.2 L2190.0,473.4 L2192.0,472.4 L2194.0,471.4 L2196.0,470.3 L2198.0,469.0 L2200.0,467.7 L2202.0,466.7 L2204.0,465.5 L2206.0,464.1 L2208.0,462.6 L2210.0,460.9 L2212.0,458.9 L2214.0,456.7 L2216.0,454.2 L2218.0,451.5 L2220.0,448.4 L2222.0,445.2 L2224.0,441.8 L2226.0,438.3 L2228.0,434.8 L2230.0,431.2 L2232.0,427.6 L2234.0,424.2 L2236.0,420.9 L2238.0,417.7 L2240.0,414.8 L2242.0,412.0 L2244.0,409.3 L2246.0,406.7 L2248.0,404.3 L2250.0,402.0 L2252.0,399.7 L2254.0,397.5 L2256.0,395.4 L2258.0,393.3 L2260.0,391.3 L2262.0,389.4 L2264.0,387.5 L2266.0,385.7 L2268.0,384.0 L2270.0,382.4 L2272.0,380.8 L2274.0,379.3 L2276.0,377.9 L2278.0,376.6 L2280.0,375.4 L2282.0,374.3 L2284.0,373.3 L2286.0,372.3 L2288.0,371.5 L2290.0,370.7 L2292.0,370.1 L2294.0,369.5 L2296.0,369.1 L2298.0,368.7 L2300.0,368.5 L2302.0,368.2 L2304.0,367.9 L2306.0,367.6 L2308.0,367.4 L2310.0,367.3 L2312.0,367.2 L2314.0,367.1 L2316.0,367.1 L2318.0,367.1 L2320.0,367.2 L2322.0,367.2 L2324.0,367.3 L2326.0,367.4" fill="none" stroke="#161212" stroke-opacity="1.0" stroke-width="2.1" stroke-linejoin="round" stroke-linecap="round" />
<path d="M1738.5,650.5 L1738.0,662.5 L1740.0,662.9 L1742.0,663.3 L1744.0,663.5 L1746.0,663.7 L1748.0,663.7 L1750.0,663.7 L1752.0,663.7 L1754.0,663.5 L1756.0,663.3 L1758.0,663.0 L1760.0,662.7 L1762.0,662.3 L1764.0,661.8 L1766.0,661.3 L1768.0,660.7 L1770.0,660.1 L1772.0,659.5 L1774.0,658.8 L1776.0,658.0 L1778.0,657.2 L1780.0,656.4 L1782.0,655.5 L1784.0,654.7 L1786.0,653.8 L1788.0,652.8 L1790.0,651.9 L1792.0,650.9 L1794.0,649.9 L1796.0,648.9 L1798.0,647.9 L1800.0,646.9 L1802.0,645.9 L1804.0,644.9 L1806.0,643.9 L1808.0,642.9 L1810.0,641.9 L1812.0,640.9 L1814.0,639.9 L1816.0,639.0 L1818.0,638.0 L1820.0,637.1 L1822.0,636.2 L1824.0,635.3 L1826.0,634.4 L1828.0,633.5 L1830.0,632.6 L1832.0,631.7 L1834.0,630.8 L1836.0,629.9 L1838.0,629.0 L1840.0,628.1 L1842.0,627.2 L1844.0,626.3 L1846.0,625.4 L1848.0,624.5 L1850.0,623.6 L1852.0,622.7 L1854.0,621.7 L1856.0,620.8 L1858.0,619.9 L1860.0,618.9 L1862.0,617.9 L1864.0,616.9 L1866.0,615.9 L1868.0,614.9 L1870.0,613.9 L1872.0,612.8 L1874.0,611.7 L1876.0,610.6 L1878.0,609.5 L1880.0,608.3 L1882.0,607.2 L1884.0,606.0 L1886.0,604.7 L1888.0,603.5 L1890.0,602.2 L1892.0,600.9 L1894.0,599.6 L1896.0,598.4 L1898.0,597.1 L1900.0,595.9 L1902.0,594.7 L1904.0,593.5 L1906.0,592.4 L1908.0,591.3 L1910.0,590.3 L1912.0,589.2 L1914.0,588.2 L1916.0,587.2 L1918.0,586.1 L1920.0,585.1 L1922.0,583.9 L1924.0,582.7 L1926.0,580.5 L1928.0,577.5 L1930.0,574.4 L1932.0,571.7 L1934.0,569.0 L1936.0,566.3 L1938.0,563.5 L1940.0,560.6 L1942.0,557.5 L1944.0,554.2 L1946.0,550.8 L1948.0,547.3 L1950.0,543.7 L1952.0,539.9 L1954.0,536.1 L1956.0,532.1 L1958.0,528.2 L1960.0,524.1 L1962.0,520.0 L1964.0,515.9 L1966.0,511.8 L1968.0,507.7 L1970.0,503.6 L1972.0,499.5 L1974.0,495.5 L1976.0,491.5 L1978.0,487.5 L1980.0,483.7 L1982.0,479.9 L1984.0,476.1 L1986.0,472.5 L1988.0,468.9 L1990.0,465.3 L1992.0,461.8 L1994.0,458.4 L1996.0,455.0 L1998.0,451.6 L2000.0,448.3 L2002.0,445.0 L2004.0,441.8 L2006.0,438.7 L2008.0,435.6 L2010.0,432.6 L2012.0,429.7 L2014.0,426.9 L2016.0,424.2 L2018.0,421.6 L2020.0,419.1 L2022.0,416.8 L2024.0,414.5 L2026.0,412.4 L2028.0,410.5 L2030.0,408.7 L2032.0,407.0 L2034.0,405.5 L2036.0,404.1 L2038.0,403.0 L2040.0,401.9 L2042.0,401.1 L2044.0,400.4 L2046.0,399.9 L2048.0,399.5 L2050.0,399.3 L2052.0,399.3 L2054.0,399.4 L2056.0,399.7 L2058.0,400.2 L2060.0,400.8 L2062.0,401.5 L2064.0,402.4 L2066.0,403.5 L2068.0,404.7 L2070.0,406.0 L2072.0,407.4 L2074.0,408.9 L2076.0,410.5 L2078.0,412.1 L2080.0,413.8 L2082.0,415.5 L2084.0,417.3 L2086.0,419.2 L2088.0,421.2 L2090.0,423.3 L2092.0,425.5 L2094.0,427.9 L2096.0,430.3 L2098.0,432.7 L2100.0,435.2 L2102.0,437.8 L2104.0,440.3 L2106.0,442.8 L2108.0,445.4 L2110.0,447.9 L2112.0,450.4 L2114.0,452.9 L2116.0,455.4 L2118.0,457.9 L2120.0,460.4 L2122.0,462.9 L2124.0,465.3 L2126.0,467.6 L2128.0,469.7 L2130.0,471.7 L2132.0,473.6 L2134.0,475.3 L2136.0,476.8 L2138.0,478.2 L2140.0,479.5 L2142.0,480.6 L2144.0,481.6 L2146.0,482.4 L2148.0,483.0 L2150.0,483.6 L2152.0,484.0 L2154.0,484.4 L2156.0,484.7 L2158.0,485.0 L2160.0,485.3 L2162.0,485.5 L2164.0,485.7 L2166.0,485.9 L2168.0,486.1 L2170.0,486.2 L2172.0,486.2 L2174.0,486.2 L2176.0,486.1 L2178.0,485.9 L2180.0,485.6 L2182.0,485.1 L2184.0,484.6 L2186.0,483.9 L2188.0,483.2 L2190.0,482.3 L2192.0,481.3 L2194.0,480.2 L2196.0,479.0 L2198.0,477.7 L2200.0,476.2 L2202.0,475.1 L2204.0,473.8 L2206.0,472.3 L2208.0,470.6 L2210.0,468.6 L2212.0,466.4 L2214.0,464.0 L2216.0,461.2 L2218.0,458.1 L2220.0,454.7 L2222.0,451.0 L2224.0,447.2 L2226.0,443.3 L2228.0,439.3 L2230.0,435.4 L2232.0,431.5 L2234.0,427.7 L2236.0,424.1 L2238.0,420.8 L2240.0,417.6 L2242.0,414.7 L2244.0,411.9 L2246.0,409.4 L2248.0,406.9 L2250.0,404.6 L2252.0,402.4 L2254.0,400.3 L2256.0,398.3 L2258.0,396.4 L2260.0,394.5 L2262.0,392.6 L2264.0,390.9 L2266.0,389.3 L2268.0,387.8 L2270.0,386.3 L2272.0,385.0 L2274.0,383.7 L2276.0,382.5 L2278.0,381.4 L2280.0,380.4 L2282.0,379.5 L2284.0,378.7 L2286.0,377.9 L2288.0,377.3 L2290.0,376.7 L2292.0,376.1 L2294.0,375.7 L2296.0,375.2 L2298.0,374.9 L2300.0,374.6 L2302.0,374.4 L2304.0,374.2 L2306.0,374.0 L2308.0,373.9 L2310.0,373.8 L2312.0,373.7 L2314.0,373.7 L2316.0,373.6 L2318.0,373.6 L2320.0,373.5 L2322.0,373.5 L2324.0,373.4 L2326.0,373.3" fill="none" stroke="#161212" stroke-opacity="1.0" stroke-width="2.1" stroke-linejoin="round" stroke-linecap="round" />
<path d="M1738.5,655.7 L1738.0,667.7 L1740.0,668.3 L1742.0,668.7 L1744.0,669.1 L1746.0,669.3 L1748.0,669.5 L1750.0,669.6 L1752.0,669.6 L1754.0,669.5 L1756.0,669.3 L1758.0,669.1 L1760.0,668.8 L1762.0,668.4 L1764.0,668.0 L1766.0,667.5 L1768.0,666.9 L1770.0,666.3 L1772.0,665.6 L1774.0,664.9 L1776.0,664.2 L1778.0,663.4 L1780.0,662.6 L1782.0,661.7 L1784.0,660.8 L1786.0,659.9 L1788.0,659.0 L1790.0,658.0 L1792.0,657.0 L1794.0,656.0 L1796.0,655.0 L1798.0,654.0 L1800.0,653.0 L1802.0,652.0 L1804.0,651.0 L1806.0,649.9 L1808.0,648.9 L1810.0,648.0 L1812.0,647.0 L1814.0,646.0 L1816.0,645.1 L1818.0,644.2 L1820.0,643.3 L1822.0,642.4 L1824.0,641.5 L1826.0,640.6 L1828.0,639.8 L1830.0,638.9 L1832.0,638.0 L1834.0,637.2 L1836.0,636.3 L1838.0,635.5 L1840.0,634.6 L1842.0,633.7 L1844.0,632.9 L1846.0,632.0 L1848.0,631.1 L1850.0,630.2 L1852.0,629.2 L1854.0,628.3 L1856.0,627.3 L1858.0,626.3 L1860.0,625.3 L1862.0,624.3 L1864.0,623.2 L1866.0,622.2 L1868.0,621.1 L1870.0,619.9 L1872.0,618.7 L1874.0,617.5 L1876.0,616.3 L1878.0,615.0 L1880.0,613.7 L1882.0,612.3 L1884.0,610.9 L1886.0,609.4 L1888.0,607.9 L1890.0,606.4 L1892.0,604.9 L1894.0,603.3 L1896.0,601.8 L1898.0,600.3 L1900.0,598.8 L1902.0,597.4 L1904.0,596.0 L1906.0,594.6 L1908.0,593.4 L1910.0,592.1 L1912.0,590.9 L1914.0,589.7 L1916.0,588.5 L1918.0,587.3 L1920.0,586.1 L1922.0,584.9 L1924.0,583.6 L1926.0,582.3 L1928.0,580.9 L1930.0,579.5 L1932.0,578.0 L1934.0,576.5 L1936.0,574.9 L1938.0,573.3 L1940.0,571.6 L1942.0,569.8 L1944.0,568.1 L1946.0,566.2 L1948.0,564.3 L1950.0,562.4 L1952.0,560.4 L1954.0,558.3 L1956.0,556.2 L1958.0,554.0 L1960.0,551.7 L1962.0,549.4 L1964.0,547.0 L1966.0,544.6 L1968.0,542.1 L1970.0,539.6 L1972.0,537.0 L1974.0,534.3 L1976.0,531.6 L1978.0,528.9 L1980.0,526.1 L1982.0,523.3 L1984.0,520.5 L1986.0,517.6 L1988.0,514.7 L1990.0,511.7 L1992.0,508.7 L1994.0,505.7 L1996.0,502.7 L1998.0,499.7 L2000.0,496.6 L2002.0,493.5 L2004.0,490.4 L2006.0,487.4 L2008.0,484.3 L2010.0,481.3 L2012.0,478.3 L2014.0,475.4 L2016.0,472.5 L2018.0,469.7 L2020.0,466.9 L2022.0,464.2 L2024.0,461.6 L2026.0,459.1 L2028.0,456.7 L2030.0,454.3 L2032.0,452.1 L2034.0,450.1 L2036.0,448.1 L2038.0,446.3 L2040.0,444.6 L2042.0,443.0 L2044.0,441.6 L2046.0,440.3 L2048.0,439.1 L2050.0,438.0 L2052.0,437.1 L2054.0,436.3 L2056.0,435.6 L2058.0,435.1 L2060.0,434.7 L2062.0,434.4 L2064.0,434.3 L2066.0,434.3 L2068.0,434.4 L2070.0,434.7 L2072.0,435.0 L2074.0,435.5 L2076.0,436.1 L2078.0,436.8 L2080.0,437.5 L2082.0,438.2 L2084.0,439.0 L2086.0,440.0 L2088.0,441.1 L2090.0,442.4 L2092.0,443.9 L2094.0,445.5 L2096.0,447.2 L2098.0,449.1 L2100.0,451.1 L2102.0,453.1 L2104.0,455.2 L2106.0,457.4 L2108.0,459.6 L2110.0,461.9 L2112.0,464.1 L2114.0,466.4 L2116.0,468.6 L2118.0,470.9 L2120.0,473.1 L2122.0,475.2 L2124.0,477.4 L2126.0,479.4 L2128.0,481.4 L2130.0,483.4 L2132.0,485.2 L2134.0,486.9 L2136.0,488.5 L2138.0,490.0 L2140.0,491.3 L2142.0,492.5 L2144.0,493.5 L2146.0,494.4 L2148.0,495.1 L2150.0,495.6 L2152.0,496.1 L2154.0,496.5 L2156.0,496.8 L2158.0,497.1 L2160.0,497.3 L2162.0,497.6 L2164.0,497.9 L2166.0,498.1 L2168.0,498.3 L2170.0,498.5 L2172.0,498.6 L2174.0,498.7 L2176.0,498.6 L2178.0,498.4 L2180.0,498.1 L2182.0,497.7 L2184.0,497.2 L2186.0,496.5 L2188.0,495.6 L2190.0,494.7 L2192.0,493.6 L2194.0,492.4 L2196.0,491.1 L2198.0,489.7 L2200.0,488.1 L2202.0,486.4 L2204.0,484.5 L2206.0,482.4 L2208.0,480.1 L2210.0,477.6 L2212.0,474.7 L2214.0,471.6 L2216.0,468.2 L2218.0,464.4 L2220.0,460.3 L2222.0,456.1 L2224.0,451.6 L2226.0,447.1 L2228.0,442.6 L2230.0,438.2 L2232.0,433.8 L2234.0,429.7 L2236.0,425.8 L2238.0,422.2 L2240.0,418.9 L2242.0,415.7 L2244.0,412.8 L2246.0,410.1 L2248.0,407.5 L2250.0,405.1 L2252.0,402.8 L2254.0,400.6 L2256.0,398.4 L2258.0,396.4 L2260.0,394.4 L2262.0,392.5 L2264.0,390.6 L2266.0,388.8 L2268.0,387.1 L2270.0,385.5 L2272.0,383.9 L2274.0,382.4 L2276.0,381.0 L2278.0,379.6 L2280.0,378.3 L2282.0,377.1 L2284.0,375.9 L2286.0,374.8 L2288.0,373.8 L2290.0,372.8 L2292.0,371.8 L2294.0,370.9 L2296.0,370.1 L2298.0,369.4 L2300.0,368.7 L2302.0,368.0 L2304.0,367.4 L2306.0,366.8 L2308.0,366.3 L2310.0,365.9 L2312.0,365.5 L2314.0,365.1 L2316.0,364.8 L2318.0,364.6 L2320.0,364.3 L2322.0,364.2 L2324.0,364.0 L2326.0,363.9" fill="none" stroke="#161212" stroke-opacity="1.0" stroke-width="2.1" stroke-linejoin="round" stroke-linecap="round" />
<path d="M1738.5,659.8 L1738.0,671.8 L1740.0,672.3 L1742.0,672.7 L1744.0,673.1 L1746.0,673.3 L1748.0,673.5 L1750.0,673.5 L1752.0,673.5 L1754.0,673.4 L1756.0,673.3 L1758.0,673.0 L1760.0,672.7 L1762.0,672.4 L1764.0,671.9 L1766.0,671.4 L1768.0,670.9 L1770.0,670.3 L1772.0,669.6 L1774.0,668.9 L1776.0,668.2 L1778.0,667.4 L1780.0,666.6 L1782.0,665.7 L1784.0,664.8 L1786.0,663.9 L1788.0,663.0 L1790.0,662.0 L1792.0,661.0 L1794.0,660.0 L1796.0,659.0 L1798.0,658.0 L1800.0,657.0 L1802.0,656.0 L1804.0,655.0 L1806.0,654.0 L1808.0,653.0 L1810.0,652.0 L1812.0,651.0 L1814.0,650.1 L1816.0,649.1 L1818.0,648.2 L1820.0,647.3 L1822.0,646.4 L1824.0,645.5 L1826.0,644.6 L1828.0,643.7 L1830.0,642.9 L1832.0,642.0 L1834.0,641.1 L1836.0,640.3 L1838.0,639.4 L1840.0,638.5 L1842.0,637.7 L1844.0,636.8 L1846.0,635.9 L1848.0,635.0 L1850.0,634.1 L1852.0,633.2 L1854.0,632.2 L1856.0,631.3 L1858.0,630.3 L1860.0,629.3 L1862.0,628.3 L1864.0,627.3 L1866.0,626.2 L1868.0,625.1 L1870.0,624.0 L1872.0,622.9 L1874.0,621.7 L1876.0,620.5 L1878.0,619.3 L1880.0,618.0 L1882.0,616.7 L1884.0,615.3 L1886.0,614.0 L1888.0,612.5 L1890.0,611.1 L1892.0,609.6 L1894.0,608.1 L1896.0,606.5 L1898.0,604.9 L1900.0,603.3 L1902.0,601.7 L1904.0,600.1 L1906.0,598.5 L1908.0,596.9 L1910.0,595.3 L1912.0,593.6 L1914.0,592.0 L1916.0,590.4 L1918.0,588.8 L1920.0,587.2 L1922.0,585.7 L1924.0,584.2 L1926.0,582.7 L1928.0,581.4 L1930.0,580.4 L1932.0,579.6 L1934.0,579.1 L1936.0,578.8 L1938.0,578.7 L1940.0,578.7 L1942.0,578.5 L1944.0,578.3 L1946.0,578.0 L1948.0,577.6 L1950.0,577.1 L1952.0,576.6 L1954.0,576.0 L1956.0,575.4 L1958.0,574.8 L1960.0,574.1 L1962.0,573.5 L1964.0,572.8 L1966.0,572.1 L1968.0,571.3 L1970.0,570.6 L1972.0,569.8 L1974.0,569.0 L1976.0,568.2 L1978.0,567.3 L1980.0,566.3 L1982.0,565.3 L1984.0,564.3 L1986.0,563.2 L1988.0,562.1 L1990.0,560.9 L1992.0,559.6 L1994.0,558.2 L1996.0,556.8 L1998.0,555.3 L2000.0,553.7 L2002.0,552.0 L2004.0,550.3 L2006.0,548.4 L2008.0,546.5 L2010.0,544.5 L2012.0,542.4 L2014.0,540.2 L2016.0,538.0 L2018.0,535.6 L2020.0,533.1 L2022.0,530.6 L2024.0,527.9 L2026.0,525.2 L2028.0,522.3 L2030.0,519.3 L2032.0,516.3 L2034.0,513.1 L2036.0,509.9 L2038.0,506.7 L2040.0,503.5 L2042.0,500.4 L2044.0,497.5 L2046.0,494.7 L2048.0,492.2 L2050.0,489.9 L2052.0,487.9 L2054.0,486.3 L2056.0,485.0 L2058.0,484.0 L2060.0,483.2 L2062.0,482.6 L2064.0,482.2 L2066.0,481.9 L2068.0,481.7 L2070.0,481.6 L2072.0,481.6 L2074.0,481.7 L2076.0,481.7 L2078.0,481.9 L2080.0,482.1 L2082.0,482.4 L2084.0,482.8 L2086.0,483.2 L2088.0,483.7 L2090.0,484.3 L2092.0,484.9 L2094.0,485.6 L2096.0,486.4 L2098.0,487.3 L2100.0,488.3 L2102.0,489.3 L2104.0,490.4 L2106.0,491.6 L2108.0,492.8 L2110.0,494.2 L2112.0,495.6 L2114.0,497.0 L2116.0,498.5 L2118.0,500.0 L2120.0,501.5 L2122.0,503.0 L2124.0,504.5 L2126.0,506.0 L2128.0,507.4 L2130.0,508.8 L2132.0,510.1 L2134.0,511.4 L2136.0,512.6 L2138.0,513.7 L2140.0,514.6 L2142.0,515.5 L2144.0,516.2 L2146.0,516.8 L2148.0,517.3 L2150.0,517.6 L2152.0,517.7 L2154.0,517.7 L2156.0,517.5 L2158.0,517.1 L2160.0,516.5 L2162.0,515.7 L2164.0,514.7 L2166.0,513.5 L2168.0,512.2 L2170.0,510.7 L2172.0,509.2 L2174.0,507.5 L2176.0,505.8 L2178.0,504.0 L2180.0,502.2 L2182.0,500.3 L2184.0,498.4 L2186.0,496.5 L2188.0,494.6 L2190.0,492.6 L2192.0,490.5 L2194.0,488.4 L2196.0,486.2 L2198.0,484.0 L2200.0,481.6 L2202.0,479.2 L2204.0,476.7 L2206.0,474.1 L2208.0,471.4 L2210.0,468.5 L2212.0,465.6 L2214.0,462.5 L2216.0,459.3 L2218.0,456.0 L2220.0,452.6 L2222.0,449.1 L2224.0,445.5 L2226.0,442.0 L2228.0,438.4 L2230.0,434.9 L2232.0,431.5 L2234.0,428.2 L2236.0,425.1 L2238.0,422.1 L2240.0,419.3 L2242.0,416.6 L2244.0,414.0 L2246.0,411.6 L2248.0,409.3 L2250.0,407.1 L2252.0,405.1 L2254.0,403.1 L2256.0,401.3 L2258.0,399.6 L2260.0,397.9 L2262.0,396.4 L2264.0,394.9 L2266.0,393.6 L2268.0,392.3 L2270.0,391.1 L2272.0,390.0 L2274.0,389.0 L2276.0,388.0 L2278.0,387.1 L2280.0,386.3 L2282.0,385.5 L2284.0,384.8 L2286.0,384.1 L2288.0,383.5 L2290.0,382.9 L2292.0,382.3 L2294.0,381.8 L2296.0,381.3 L2298.0,380.9 L2300.0,380.5 L2302.0,380.0 L2304.0,379.7 L2306.0,379.3 L2308.0,378.9 L2310.0,378.5 L2312.0,378.2 L2314.0,377.8 L2316.0,377.4 L2318.0,377.1 L2320.0,376.7 L2322.0,376.3 L2324.0,375.8 L2326.0,375.4" fill="none" stroke="#161212" stroke-opacity="1.0" stroke-width="2.1" stroke-linejoin="round" stroke-linecap="round" />
<path d="M1738.5,663.8 L1738.0,675.8 L1740.0,676.3 L1742.0,676.8 L1744.0,677.1 L1746.0,677.3 L1748.0,677.5 L1750.0,677.5 L1752.0,677.5 L1754.0,677.4 L1756.0,677.3 L1758.0,677.0 L1760.0,676.7 L1762.0,676.3 L1764.0,675.9 L1766.0,675.4 L1768.0,674.8 L1770.0,674.2 L1772.0,673.6 L1774.0,672.9 L1776.0,672.1 L1778.0,671.3 L1780.0,670.5 L1782.0,669.6 L1784.0,668.8 L1786.0,667.8 L1788.0,666.9 L1790.0,666.0 L1792.0,665.0 L1794.0,664.0 L1796.0,663.0 L1798.0,662.0 L1800.0,661.0 L1802.0,660.0 L1804.0,659.0 L1806.0,658.0 L1808.0,657.0 L1810.0,656.0 L1812.0,655.1 L1814.0,654.1 L1816.0,653.2 L1818.0,652.3 L1820.0,651.4 L1822.0,650.6 L1824.0,649.7 L1826.0,648.8 L1828.0,648.0 L1830.0,647.1 L1832.0,646.3 L1834.0,645.5 L1836.0,644.6 L1838.0,643.8 L1840.0,643.0 L1842.0,642.1 L1844.0,641.3 L1846.0,640.4 L1848.0,639.6 L1850.0,638.7 L1852.0,637.8 L1854.0,636.9 L1856.0,636.0 L1858.0,635.0 L1860.0,634.1 L1862.0,633.1 L1864.0,632.1 L1866.0,631.1 L1868.0,630.0 L1870.0,629.0 L1872.0,627.9 L1874.0,626.7 L1876.0,625.5 L1878.0,624.3 L1880.0,623.1 L1882.0,621.8 L1884.0,620.5 L1886.0,619.1 L1888.0,617.7 L1890.0,616.3 L1892.0,614.8 L1894.0,613.3 L1896.0,611.7 L1898.0,610.1 L1900.0,608.5 L1902.0,606.8 L1904.0,605.1 L1906.0,603.3 L1908.0,601.4 L1910.0,599.4 L1912.0,597.2 L1914.0,594.7 L1916.0,592.0 L1918.0,589.4 L1920.0,587.0 L1922.0,585.1 L1924.0,583.9 L1926.0,583.2 L1928.0,582.9 L1930.0,583.0 L1932.0,583.2 L1934.0,583.5 L1936.0,583.9 L1938.0,584.4 L1940.0,584.9 L1942.0,585.5 L1944.0,586.2 L1946.0,587.0 L1948.0,587.8 L1950.0,588.7 L1952.0,589.6 L1954.0,590.5 L1956.0,591.4 L1958.0,592.3 L1960.0,593.2 L1962.0,594.1 L1964.0,594.9 L1966.0,595.7 L1968.0,596.4 L1970.0,597.1 L1972.0,597.7 L1974.0,598.3 L1976.0,598.8 L1978.0,599.3 L1980.0,599.7 L1982.0,600.1 L1984.0,600.4 L1986.0,600.6 L1988.0,600.8 L1990.0,600.9 L1992.0,601.0 L1994.0,600.9 L1996.0,600.8 L1998.0,600.6 L2000.0,600.3 L2002.0,599.9 L2004.0,599.3 L2006.0,598.5 L2008.0,597.6 L2010.0,596.3 L2012.0,594.9 L2014.0,593.1 L2016.0,591.1 L2018.0,588.7 L2020.0,586.1 L2022.0,583.3 L2024.0,580.3 L2026.0,577.1 L2028.0,573.8 L2030.0,570.4 L2032.0,566.8 L2034.0,563.3 L2036.0,559.7 L2038.0,556.1 L2040.0,552.6 L2042.0,549.1 L2044.0,545.8 L2046.0,542.5 L2048.0,539.4 L2050.0,536.5 L2052.0,533.8 L2054.0,531.4 L2056.0,529.1 L2058.0,527.1 L2060.0,525.3 L2062.0,523.7 L2064.0,522.4 L2066.0,521.2 L2068.0,520.3 L2070.0,519.5 L2072.0,519.0 L2074.0,518.6 L2076.0,518.4 L2078.0,518.3 L2080.0,518.2 L2082.0,518.3 L2084.0,518.3 L2086.0,518.4 L2088.0,518.5 L2090.0,518.5 L2092.0,518.5 L2094.0,518.4 L2096.0,518.4 L2098.0,518.3 L2100.0,518.3 L2102.0,518.3 L2104.0,518.3 L2106.0,518.3 L2108.0,518.4 L2110.0,518.5 L2112.0,518.6 L2114.0,518.8 L2116.0,519.0 L2118.0,519.3 L2120.0,519.5 L2122.0,519.7 L2124.0,520.0 L2126.0,520.2 L2128.0,520.5 L2130.0,520.7 L2132.0,520.9 L2134.0,521.0 L2136.0,521.2 L2138.0,521.3 L2140.0,521.4 L2142.0,521.4 L2144.0,521.4 L2146.0,521.3 L2148.0,521.1 L2150.0,520.9 L2152.0,520.5 L2154.0,520.1 L2156.0,519.5 L2158.0,518.9 L2160.0,518.1 L2162.0,517.1 L2164.0,516.0 L2166.0,514.8 L2168.0,513.5 L2170.0,512.1 L2172.0,510.5 L2174.0,508.9 L2176.0,507.3 L2178.0,505.6 L2180.0,503.8 L2182.0,502.0 L2184.0,500.2 L2186.0,498.3 L2188.0,496.4 L2190.0,494.4 L2192.0,492.4 L2194.0,490.3 L2196.0,488.1 L2198.0,485.9 L2200.0,483.5 L2202.0,481.1 L2204.0,478.6 L2206.0,476.1 L2208.0,473.4 L2210.0,470.6 L2212.0,467.7 L2214.0,464.7 L2216.0,461.5 L2218.0,458.3 L2220.0,454.9 L2222.0,451.5 L2224.0,448.0 L2226.0,444.6 L2228.0,441.1 L2230.0,437.7 L2232.0,434.4 L2234.0,431.1 L2236.0,428.0 L2238.0,425.0 L2240.0,422.2 L2242.0,419.5 L2244.0,417.0 L2246.0,414.5 L2248.0,412.2 L2250.0,410.1 L2252.0,408.0 L2254.0,406.1 L2256.0,404.3 L2258.0,402.7 L2260.0,401.1 L2262.0,399.7 L2264.0,398.3 L2266.0,397.1 L2268.0,395.9 L2270.0,394.8 L2272.0,393.8 L2274.0,392.9 L2276.0,392.1 L2278.0,391.4 L2280.0,390.7 L2282.0,390.0 L2284.0,389.4 L2286.0,388.9 L2288.0,388.4 L2290.0,388.0 L2292.0,387.6 L2294.0,387.2 L2296.0,386.9 L2298.0,386.6 L2300.0,386.3 L2302.0,386.0 L2304.0,385.8 L2306.0,385.7 L2308.0,385.5 L2310.0,385.4 L2312.0,385.3 L2314.0,385.2 L2316.0,385.1 L2318.0,385.1 L2320.0,385.1 L2322.0,385.1 L2324.0,385.1 L2326.0,385.1" fill="none" stroke="#161212" stroke-opacity="1.0" stroke-width="2.1" stroke-linejoin="round" stroke-linecap="round" />
<rect x="292.4" y="1030.5" width="884.4" height="657.3" fill="none" stroke="#6f6b69" stroke-width="3.6" stroke-linejoin="round"/>
<line x1="376.05" y1="1687.80" x2="376.05" y2="1699.80" stroke="#6f6b69" stroke-width="3.2" stroke-linecap="butt" />
<line x1="544.80" y1="1687.80" x2="544.80" y2="1699.80" stroke="#6f6b69" stroke-width="3.2" stroke-linecap="butt" />
<line x1="713.55" y1="1687.80" x2="713.55" y2="1699.80" stroke="#6f6b69" stroke-width="3.2" stroke-linecap="butt" />
<line x1="882.30" y1="1687.80" x2="882.30" y2="1699.80" stroke="#6f6b69" stroke-width="3.2" stroke-linecap="butt" />
<line x1="1051.05" y1="1687.80" x2="1051.05" y2="1699.80" stroke="#6f6b69" stroke-width="3.2" stroke-linecap="butt" />
<line x1="291.67" y1="1687.80" x2="291.67" y2="1694.30" stroke="#6f6b69" stroke-width="3.2" stroke-linecap="butt" />
<line x1="460.42" y1="1687.80" x2="460.42" y2="1694.30" stroke="#6f6b69" stroke-width="3.2" stroke-linecap="butt" />
<line x1="629.17" y1="1687.80" x2="629.17" y2="1694.30" stroke="#6f6b69" stroke-width="3.2" stroke-linecap="butt" />
<line x1="797.92" y1="1687.80" x2="797.92" y2="1694.30" stroke="#6f6b69" stroke-width="3.2" stroke-linecap="butt" />
<line x1="966.67" y1="1687.80" x2="966.67" y2="1694.30" stroke="#6f6b69" stroke-width="3.2" stroke-linecap="butt" />
<line x1="1135.42" y1="1687.80" x2="1135.42" y2="1694.30" stroke="#6f6b69" stroke-width="3.2" stroke-linecap="butt" />
<line x1="292.40" y1="1605.30" x2="279.90" y2="1605.30" stroke="#6f6b69" stroke-width="3.2" stroke-linecap="butt" />
<line x1="292.40" y1="1399.80" x2="279.90" y2="1399.80" stroke="#6f6b69" stroke-width="3.2" stroke-linecap="butt" />
<line x1="292.40" y1="1194.30" x2="279.90" y2="1194.30" stroke="#6f6b69" stroke-width="3.2" stroke-linecap="butt" />
<line x1="292.40" y1="1502.55" x2="285.90" y2="1502.55" stroke="#6f6b69" stroke-width="3.2" stroke-linecap="butt" />
<line x1="292.40" y1="1297.05" x2="285.90" y2="1297.05" stroke="#6f6b69" stroke-width="3.2" stroke-linecap="butt" />
<line x1="292.40" y1="1091.55" x2="285.90" y2="1091.55" stroke="#6f6b69" stroke-width="3.2" stroke-linecap="butt" />
<text x="72.65" y="1048.42" font-size="71.34" letter-spacing="6.72" font-family="Liberation Sans, Arial, sans-serif"  fill="#111" >c)</text>
<text x="174.31" y="1215.01" font-size="58.59" letter-spacing="2.40" font-family="Liberation Sans, Arial, sans-serif"  fill="#111" >20</text>
<text x="173.75" y="1420.51" font-size="59.43" letter-spacing="2.37" font-family="Liberation Sans, Arial, sans-serif"  fill="#111" >15</text>
<text x="174.37" y="1626.01" font-size="58.59" letter-spacing="2.34" font-family="Liberation Sans, Arial, sans-serif"  fill="#111" >10</text>
<text x="328.71" y="1782.21" font-size="58.59" letter-spacing="2.07" font-family="Liberation Sans, Arial, sans-serif"  fill="#111" >-0.6</text>
<text x="497.46" y="1782.21" font-size="58.59" letter-spacing="1.87" font-family="Liberation Sans, Arial, sans-serif"  fill="#111" >-0.4</text>
<text x="666.21" y="1782.21" font-size="58.59" letter-spacing="2.26" font-family="Liberation Sans, Arial, sans-serif"  fill="#111" >-0.2</text>
<text x="847.01" y="1782.21" font-size="58.59" letter-spacing="0.73" font-family="Liberation Sans, Arial, sans-serif"  fill="#111" >0.0</text>
<text x="1015.76" y="1782.21" font-size="58.59" letter-spacing="1.17" font-family="Liberation Sans, Arial, sans-serif"  fill="#111" >0.2</text>
<text x="573.17" y="1879.65" font-size="55.37" letter-spacing="1.79" font-family="Liberation Sans, Arial, sans-serif"  fill="#111" >Potential / V</text>
<text transform="translate(122.52,1521.39) rotate(-90)" font-size="57.81" letter-spacing="0.75" font-family="Liberation Sans, Arial, sans-serif"  fill="#111" >Current / μA</text>
<line x1="414.30" y1="1092.20" x2="414.30" y2="1302.40" stroke="#5b5754" stroke-width="3.4" stroke-linecap="butt" />
<line x1="412.80" y1="1300.90" x2="696.40" y2="1300.90" stroke="#5b5754" stroke-width="3.4" stroke-linecap="butt" />
<line x1="464.58" y1="1300.90" x2="464.58" y2="1305.90" stroke="#5b5754" stroke-width="2.6" stroke-linecap="butt" />
<line x1="516.26" y1="1300.90" x2="516.26" y2="1305.90" stroke="#5b5754" stroke-width="2.6" stroke-linecap="butt" />
<line x1="567.94" y1="1300.90" x2="567.94" y2="1305.90" stroke="#5b5754" stroke-width="2.6" stroke-linecap="butt" />
<line x1="619.62" y1="1300.90" x2="619.62" y2="1305.90" stroke="#5b5754" stroke-width="2.6" stroke-linecap="butt" />
<line x1="671.30" y1="1300.90" x2="671.30" y2="1305.90" stroke="#5b5754" stroke-width="2.6" stroke-linecap="butt" />
<line x1="438.74" y1="1300.90" x2="438.74" y2="1304.40" stroke="#5b5754" stroke-width="2.2" stroke-linecap="butt" />
<line x1="490.42" y1="1300.90" x2="490.42" y2="1304.40" stroke="#5b5754" stroke-width="2.2" stroke-linecap="butt" />
<line x1="542.10" y1="1300.90" x2="542.10" y2="1304.40" stroke="#5b5754" stroke-width="2.2" stroke-linecap="butt" />
<line x1="593.78" y1="1300.90" x2="593.78" y2="1304.40" stroke="#5b5754" stroke-width="2.2" stroke-linecap="butt" />
<line x1="645.46" y1="1300.90" x2="645.46" y2="1304.40" stroke="#5b5754" stroke-width="2.2" stroke-linecap="butt" />
<line x1="414.30" y1="1300.90" x2="409.30" y2="1300.90" stroke="#5b5754" stroke-width="2.6" stroke-linecap="butt" />
<line x1="414.30" y1="1243.27" x2="409.30" y2="1243.27" stroke="#5b5754" stroke-width="2.6" stroke-linecap="butt" />
<line x1="414.30" y1="1185.63" x2="409.30" y2="1185.63" stroke="#5b5754" stroke-width="2.6" stroke-linecap="butt" />
<line x1="414.30" y1="1128.00" x2="409.30" y2="1128.00" stroke="#5b5754" stroke-width="2.6" stroke-linecap="butt" />
<line x1="415.30" y1="1300.90" x2="694.50" y2="1095.10" stroke="#ff5a5a" stroke-width="3.2" stroke-linecap="round" />
<line x1="438.74" y1="1280.90" x2="438.74" y2="1289.90" stroke="#222" stroke-width="1.6" stroke-linecap="butt" />
<rect x="436.1" y="1282.8" width="5.2" height="5.2" fill="#1a1a1a"/>
<line x1="464.58" y1="1258.70" x2="464.58" y2="1267.70" stroke="#222" stroke-width="1.6" stroke-linecap="butt" />
<rect x="462.0" y="1260.6" width="5.2" height="5.2" fill="#1a1a1a"/>
<line x1="490.42" y1="1241.30" x2="490.42" y2="1250.30" stroke="#222" stroke-width="1.6" stroke-linecap="butt" />
<rect x="487.8" y="1243.2" width="5.2" height="5.2" fill="#1a1a1a"/>
<line x1="516.26" y1="1221.00" x2="516.26" y2="1230.00" stroke="#222" stroke-width="1.6" stroke-linecap="butt" />
<rect x="513.7" y="1222.9" width="5.2" height="5.2" fill="#1a1a1a"/>
<line x1="542.10" y1="1207.50" x2="542.10" y2="1216.50" stroke="#222" stroke-width="1.6" stroke-linecap="butt" />
<rect x="539.5" y="1209.4" width="5.2" height="5.2" fill="#1a1a1a"/>
<line x1="567.94" y1="1184.30" x2="567.94" y2="1193.30" stroke="#222" stroke-width="1.6" stroke-linecap="butt" />
<rect x="565.3" y="1186.2" width="5.2" height="5.2" fill="#1a1a1a"/>
<line x1="593.78" y1="1169.80" x2="593.78" y2="1178.80" stroke="#222" stroke-width="1.6" stroke-linecap="butt" />
<rect x="591.2" y="1171.7" width="5.2" height="5.2" fill="#1a1a1a"/>
<line x1="619.62" y1="1148.60" x2="619.62" y2="1157.60" stroke="#222" stroke-width="1.6" stroke-linecap="butt" />
<rect x="617.0" y="1150.5" width="5.2" height="5.2" fill="#1a1a1a"/>
<line x1="645.46" y1="1127.30" x2="645.46" y2="1136.30" stroke="#222" stroke-width="1.6" stroke-linecap="butt" />
<rect x="642.9" y="1129.2" width="5.2" height="5.2" fill="#1a1a1a"/>
<line x1="671.30" y1="1109.00" x2="671.30" y2="1118.00" stroke="#222" stroke-width="1.6" stroke-linecap="butt" />
<rect x="668.7" y="1110.9" width="5.2" height="5.2" fill="#1a1a1a"/>
<text transform="translate(351.72,1134.75) scale(1.1867,1)" font-size="24.93" font-family="Liberation Sans, Arial, sans-serif" font-weight="bold" fill="#2a2a2a" >150</text>
<text transform="translate(351.72,1192.44) scale(1.1416,1)" font-size="25.92" font-family="Liberation Sans, Arial, sans-serif" font-weight="bold" fill="#2a2a2a" >100</text>
<text transform="translate(361.37,1250.33) scale(1.0330,1)" font-size="26.90" font-family="Liberation Sans, Arial, sans-serif" font-weight="bold" fill="#2a2a2a" >50</text>
<text transform="translate(372.50,1309.33) scale(1.1865,1)" font-size="27.32" font-family="Liberation Sans, Arial, sans-serif" font-weight="bold" fill="#2a2a2a" >0</text>
<text transform="translate(454.86,1341.12) scale(1.0815,1)" font-size="27.61" font-family="Liberation Sans, Arial, sans-serif" font-weight="bold" fill="#2a2a2a" >20</text>
<text transform="translate(506.65,1341.12) scale(1.0919,1)" font-size="27.61" font-family="Liberation Sans, Arial, sans-serif" font-weight="bold" fill="#2a2a2a" >40</text>
<text transform="translate(558.16,1341.12) scale(1.0815,1)" font-size="27.61" font-family="Liberation Sans, Arial, sans-serif" font-weight="bold" fill="#2a2a2a" >60</text>
<text transform="translate(608.61,1341.12) scale(1.0763,1)" font-size="27.61" font-family="Liberation Sans, Arial, sans-serif" font-weight="bold" fill="#2a2a2a" >80</text>
<text transform="translate(654.02,1341.12) scale(1.0740,1)" font-size="27.61" font-family="Liberation Sans, Arial, sans-serif" font-weight="bold" fill="#2a2a2a" >100</text>
<text transform="translate(507.89,1373.91) scale(1.1226,1)" font-size="24.71" font-family="Liberation Sans, Arial, sans-serif" font-weight="bold" fill="#2a2a2a" >Conc. / ppb</text>
<text transform="translate(430.10,1120.89) scale(0.9674,1)" font-size="31.27" font-family="Liberation Sans, Arial, sans-serif" font-weight="bold" fill="#2a2a2a" >Y=-0.851+1.63X</text>
<text transform="translate(428.82,1157.90) scale(0.9849,1)" font-size="29.42" font-family="Liberation Sans, Arial, sans-serif" font-weight="bold" fill="#2a2a2a" >R</text>
<text transform="translate(449.53,1145.30) scale(1.2311,1)" font-size="11.00" font-family="Liberation Sans, Arial, sans-serif" font-weight="bold" fill="#2a2a2a" >2</text>
<text transform="translate(460.51,1157.61) scale(1.0435,1)" font-size="28.59" font-family="Liberation Sans, Arial, sans-serif" font-weight="bold" fill="#2a2a2a" >=0.999</text>
<text transform="translate(339.59,1240.60) rotate(-90) scale(0.9189,1)" font-size="29.09" font-family="Liberation Sans, Arial, sans-serif" font-weight="bold" fill="#2a2a2a" >j / μA cm</text>
<text transform="translate(325.00,1131.10) rotate(-90) scale(1.3179,1)" font-size="11.43" font-family="Liberation Sans, Arial, sans-serif" font-weight="bold" fill="#2a2a2a" >-2</text>
<text x="878.94" y="1139.55" font-size="42.14" letter-spacing="1.39" font-family="Liberation Sans, Arial, sans-serif"  fill="#111" >100 ppb</text>
<text x="892.18" y="1371.83" font-size="40.32" letter-spacing="1.99" font-family="Liberation Sans, Arial, sans-serif"  fill="#111" >10 ppb</text>
<line x1="950.70" y1="1185.90" x2="950.70" y2="1323.00" stroke="#6d6966" stroke-width="3.0" stroke-linecap="butt" />
<polygon points="950.7,1163.9 944.9,1186.9 956.5,1186.9" fill="#111"/>
<text transform="translate(984.50,1637.67) scale(1.0369,1)" font-size="43.00" font-family="Liberation Sans, Arial, sans-serif"  fill="#5a5a5a" >Au</text>
<text transform="translate(1040.11,1645.48) scale(1.0236,1)" font-size="21.55" font-family="Liberation Sans, Arial, sans-serif"  fill="#a0a0a0" >89</text>
<text transform="translate(1064.35,1638.65) scale(0.9934,1)" font-size="45.21" font-family="Liberation Sans, Arial, sans-serif"  fill="#5a5a5a" >Cu</text>
<text transform="translate(1123.33,1644.70) scale(0.9439,1)" font-size="20.72" font-family="Liberation Sans, Arial, sans-serif"  fill="#a0a0a0" >11</text>
<path d="M560.0,1614.1 L562.0,1613.8 L564.0,1613.4 L566.0,1613.0 L568.0,1612.5 L570.0,1611.9 L572.0,1611.3 L574.0,1610.6 L576.0,1609.9 L578.0,1609.1 L580.0,1608.3 L582.0,1607.4 L584.0,1606.5 L586.0,1605.6 L588.0,1604.5 L590.0,1603.5 L592.0,1602.4 L594.0,1601.2 L596.0,1600.0 L598.0,1598.8 L600.0,1597.5 L602.0,1596.2 L604.0,1594.9 L606.0,1593.5 L608.0,1592.1 L610.0,1590.7 L612.0,1589.3 L614.0,1587.9 L616.0,1586.5 L618.0,1585.0 L620.0,1583.6 L622.0,1582.2 L624.0,1580.8 L626.0,1579.4 L628.0,1578.0 L630.0,1576.7 L632.0,1575.4 L634.0,1574.1 L636.0,1572.8 L638.0,1571.6 L640.0,1570.4 L642.0,1569.2 L644.0,1568.0 L646.0,1566.9 L648.0,1565.8 L650.0,1564.7 L652.0,1563.6 L654.0,1562.6 L656.0,1561.5 L658.0,1560.5 L660.0,1559.5 L662.0,1558.5 L664.0,1557.5 L666.0,1556.5 L668.0,1555.6 L670.0,1554.6 L672.0,1553.6 L674.0,1552.7 L676.0,1551.7 L678.0,1550.8 L680.0,1549.8 L682.0,1548.8 L684.0,1547.9 L686.0,1546.9 L688.0,1545.9 L690.0,1544.9 L692.0,1543.9 L694.0,1542.9 L696.0,1541.9 L698.0,1540.9 L700.0,1539.9 L702.0,1538.9 L704.0,1538.0 L706.0,1537.0 L708.0,1536.1 L710.0,1535.2 L712.0,1534.3 L714.0,1533.4 L716.0,1532.6 L718.0,1531.7 L720.0,1530.9 L722.0,1530.1 L724.0,1529.3 L726.0,1528.5 L728.0,1527.7 L730.0,1526.9 L732.0,1526.2 L734.0,1525.4 L736.0,1524.7 L738.0,1524.0 L740.0,1523.2 L742.0,1522.5 L744.0,1521.8 L746.0,1521.2 L748.0,1520.5 L750.0,1519.8 L752.0,1519.1 L754.0,1518.5 L756.0,1517.8 L758.0,1517.2 L760.0,1516.5 L762.0,1515.9 L764.0,1515.3 L766.0,1514.7 L768.0,1514.0 L770.0,1513.4 L772.0,1512.8 L774.0,1512.2 L776.0,1511.6 L778.0,1511.0 L780.0,1510.4 L782.0,1509.8 L784.0,1509.2 L786.0,1508.5 L788.0,1507.9 L790.0,1507.3 L792.0,1506.7 L794.0,1506.1 L796.0,1505.6 L798.0,1505.0 L800.0,1504.4 L802.0,1503.8 L804.0,1503.2 L806.0,1502.6 L808.0,1502.0 L810.0,1501.4 L812.0,1500.8 L814.0,1500.2 L816.0,1499.7 L818.0,1499.1 L820.0,1498.5 L822.0,1497.9 L824.0,1497.3 L826.0,1496.7 L828.0,1496.2 L830.0,1495.6 L832.0,1495.0 L834.0,1494.4 L836.0,1493.8 L838.0,1493.3 L840.0,1492.7 L842.0,1492.1 L844.0,1491.6 L846.0,1491.0 L848.0,1490.4 L850.0,1489.8 L852.0,1489.3 L854.0,1488.7 L856.0,1488.1 L858.0,1487.6 L860.0,1487.0 L862.0,1486.5 L864.0,1485.9 L866.0,1485.4 L868.0,1484.8 L870.0,1484.3 L872.0,1483.8 L874.0,1483.3 L876.0,1482.8 L878.0,1482.4 L880.0,1481.9 L882.0,1481.4 L884.0,1481.0 L886.0,1480.6 L888.0,1480.2 L890.0,1479.8 L892.0,1479.4 L894.0,1479.1 L896.0,1478.8 L898.0,1478.5 L900.0,1478.2 L902.0,1477.9 L904.0,1477.7 L906.0,1477.5 L908.0,1477.3 L910.0,1477.1 L912.0,1477.0 L914.0,1476.9 L916.0,1476.8 L918.0,1476.8 L920.0,1476.8 L922.0,1476.8 L924.0,1476.8 L926.0,1476.9 L928.0,1477.0 L930.0,1477.1 L932.0,1477.3 L934.0,1477.5 L936.0,1477.7 L938.0,1477.9 L940.0,1478.2 L942.0,1478.5 L944.0,1478.8 L946.0,1479.1 L948.0,1479.5 L950.0,1479.9 L952.0,1480.3 L954.0,1480.7 L956.0,1481.1 L958.0,1481.6 L960.0,1482.1 L962.0,1482.6 L964.0,1483.1 L966.0,1483.7 L968.0,1484.2 L970.0,1484.8 L972.0,1485.4 L974.0,1486.0 L976.0,1486.6 L978.0,1487.2 L980.0,1487.9 L982.0,1488.5 L984.0,1489.2 L986.0,1489.9 L988.0,1490.6 L990.0,1491.3 L992.0,1492.0 L994.0,1492.7 L996.0,1493.4 L998.0,1494.2 L1000.0,1494.9 L1002.0,1495.7 L1004.0,1496.5 L1006.0,1497.4 L1008.0,1498.2 L1010.0,1499.2 L1012.0,1500.1 L1014.0,1501.1 L1016.0,1502.1 L1018.0,1503.2 L1020.0,1504.3 L1022.0,1505.5 L1024.0,1506.7 L1026.0,1508.0 L1028.0,1509.3 L1030.0,1510.8 L1032.0,1512.2 L1034.0,1513.8 L1036.0,1515.4 L1038.0,1517.0 L1040.0,1518.7 L1042.0,1520.4 L1044.0,1522.1 L1046.0,1523.9 L1048.0,1525.7 L1050.0,1527.5 L1052.0,1529.4 L1054.0,1531.2 L1056.0,1533.1 L1058.0,1534.9 L1060.0,1536.8 L1062.0,1538.6 L1064.0,1540.5 L1066.0,1542.3 L1068.0,1544.1 L1070.0,1545.8 L1072.0,1547.6 L1074.0,1549.4 L1076.0,1551.1 L1078.0,1552.8 L1080.0,1554.5 L1082.0,1556.2 L1084.0,1557.9 L1086.0,1559.5 L1088.0,1561.1 L1090.0,1562.8 L1092.0,1564.4 L1094.0,1566.0 L1096.0,1567.5 L1098.0,1569.1 L1100.0,1570.6 L1102.0,1572.2 L1104.0,1573.7 L1106.0,1575.2 L1108.0,1576.7 L1110.0,1578.1 L1112.0,1579.6 L1114.0,1581.1 L1116.0,1582.5 L1118.0,1583.9 L1120.0,1585.3 L1122.0,1586.7 L1124.0,1588.1 L1126.0,1589.4 L1128.0,1590.8 L1130.0,1592.1 L1132.0,1593.4 L1134.0,1594.8" fill="none" stroke="#b9b6b4" stroke-width="3.2" stroke-dasharray="0.1 13" stroke-linecap="round"/>
<path d="M545.5,1588.4 L545.0,1598.4 L547.0,1597.6 L549.0,1596.7 L551.0,1595.8 L553.0,1594.9 L555.0,1594.0 L557.0,1593.1 L559.0,1592.2 L561.0,1591.3 L563.0,1590.4 L565.0,1589.5 L567.0,1588.5 L569.0,1587.6 L571.0,1586.6 L573.0,1585.7 L575.0,1584.7 L577.0,1583.7 L579.0,1582.8 L581.0,1581.8 L583.0,1580.8 L585.0,1579.8 L587.0,1578.8 L589.0,1577.9 L591.0,1576.9 L593.0,1575.9 L595.0,1574.8 L597.0,1573.8 L599.0,1572.8 L601.0,1571.8 L603.0,1570.8 L605.0,1569.8 L607.0,1568.7 L609.0,1567.7 L611.0,1566.7 L613.0,1565.6 L615.0,1564.6 L617.0,1563.6 L619.0,1562.5 L621.0,1561.5 L623.0,1560.4 L625.0,1559.4 L627.0,1558.3 L629.0,1557.3 L631.0,1556.3 L633.0,1555.3 L635.0,1554.2 L637.0,1553.2 L639.0,1552.2 L641.0,1551.2 L643.0,1550.3 L645.0,1549.3 L647.0,1548.4 L649.0,1547.4 L651.0,1546.5 L653.0,1545.6 L655.0,1544.8 L657.0,1543.9 L659.0,1543.1 L661.0,1542.3 L663.0,1541.4 L665.0,1540.6 L667.0,1539.7 L669.0,1538.7 L671.0,1537.7 L673.0,1536.7 L675.0,1535.5 L677.0,1534.2 L679.0,1532.9 L681.0,1531.4 L683.0,1529.7 L685.0,1528.0 L687.0,1526.0 L689.0,1523.9 L691.0,1521.6 L693.0,1519.1 L695.0,1516.3 L697.0,1513.4 L699.0,1510.2 L701.0,1506.7 L703.0,1502.9 L705.0,1498.8 L707.0,1494.4 L709.0,1489.7 L711.0,1484.6 L713.0,1479.1 L715.0,1473.2 L717.0,1467.0 L719.0,1460.5 L721.0,1453.6 L723.0,1446.6 L725.0,1439.2 L727.0,1431.7 L729.0,1424.0 L731.0,1416.2 L733.0,1408.2 L735.0,1400.0 L737.0,1391.6 L739.0,1383.0 L741.0,1374.0 L743.0,1364.7 L745.0,1355.1 L747.0,1345.0 L749.0,1334.5 L751.0,1323.6 L753.0,1312.1 L755.0,1300.1 L757.0,1287.4 L759.0,1274.2 L761.0,1260.3 L763.0,1245.7 L765.0,1230.4 L767.0,1214.3 L769.0,1197.5 L771.0,1180.5 L773.0,1164.0 L775.0,1148.6 L777.0,1134.9 L779.0,1123.3 L781.0,1114.0 L783.0,1106.5 L785.0,1100.9 L787.0,1096.9 L789.0,1094.4 L791.0,1093.3 L793.0,1093.6 L795.0,1095.3 L797.0,1098.4 L799.0,1103.0 L801.0,1109.3 L803.0,1117.3 L805.0,1127.2 L807.0,1138.9 L809.0,1152.1 L811.0,1166.5 L813.0,1181.8 L815.0,1197.5 L817.0,1213.5 L819.0,1229.4 L821.0,1244.9 L823.0,1259.5 L825.0,1273.3 L827.0,1286.2 L829.0,1298.2 L831.0,1309.3 L833.0,1319.6 L835.0,1329.0 L837.0,1337.5 L839.0,1345.2 L841.0,1352.0 L843.0,1358.1 L845.0,1363.4 L847.0,1368.1 L849.0,1372.1 L851.0,1375.7 L853.0,1378.8 L855.0,1381.4 L857.0,1383.8 L859.0,1385.9 L861.0,1387.8 L863.0,1389.5 L865.0,1391.0 L867.0,1392.4 L869.0,1393.7 L871.0,1394.8 L873.0,1395.9 L875.0,1396.9 L877.0,1397.8 L879.0,1398.7 L881.0,1399.6 L883.0,1400.4 L885.0,1401.2 L887.0,1402.0 L889.0,1402.7 L891.0,1403.4 L893.0,1404.1 L895.0,1404.7 L897.0,1405.3 L899.0,1405.9 L901.0,1406.5 L903.0,1407.1 L905.0,1407.6 L907.0,1408.2 L909.0,1408.7 L911.0,1409.3 L913.0,1409.8 L915.0,1410.3 L917.0,1410.8 L919.0,1411.3 L921.0,1411.8 L923.0,1412.3 L925.0,1412.8 L927.0,1413.3 L929.0,1413.8 L931.0,1414.3 L933.0,1414.8 L935.0,1415.3 L937.0,1415.8 L939.0,1416.2 L941.0,1416.7 L943.0,1417.2 L945.0,1417.6 L947.0,1418.1 L949.0,1418.6 L951.0,1419.0 L953.0,1419.4 L955.0,1419.9 L957.0,1420.3 L959.0,1420.8 L961.0,1421.2 L963.0,1421.7 L965.0,1422.2 L967.0,1422.8 L969.0,1423.3 L971.0,1423.9 L973.0,1424.5 L975.0,1425.2 L977.0,1425.9 L979.0,1426.7 L981.0,1427.5 L983.0,1428.4 L985.0,1429.3 L987.0,1430.3 L989.0,1431.4 L991.0,1432.5 L993.0,1433.7 L995.0,1435.0 L997.0,1436.4 L999.0,1437.8 L1001.0,1439.2 L1003.0,1440.8 L1005.0,1442.3 L1007.0,1444.0 L1009.0,1445.7 L1011.0,1447.4 L1013.0,1449.2 L1015.0,1451.0 L1017.0,1452.9 L1019.0,1454.8 L1021.0,1456.7 L1023.0,1458.7 L1025.0,1460.7 L1027.0,1462.7 L1029.0,1464.8 L1031.0,1466.9 L1033.0,1469.0 L1035.0,1471.2 L1037.0,1473.3 L1039.0,1475.5 L1041.0,1477.7 L1043.0,1479.9 L1045.0,1482.1 L1047.0,1484.3 L1049.0,1486.5 L1051.0,1488.7 L1053.0,1490.9 L1055.0,1493.2 L1057.0,1495.4 L1059.0,1497.6 L1061.0,1499.8 L1063.0,1502.0 L1065.0,1504.1 L1067.0,1506.3 L1069.0,1508.4 L1071.0,1510.6 L1073.0,1512.7 L1075.0,1514.8 L1077.0,1516.8 L1079.0,1518.9 L1081.0,1520.9 L1083.0,1522.9 L1085.0,1524.9 L1087.0,1526.9 L1089.0,1528.9 L1091.0,1530.8 L1093.0,1532.7 L1095.0,1534.6 L1097.0,1536.4 L1099.0,1538.2 L1101.0,1540.0 L1103.0,1541.8 L1105.0,1543.5 L1107.0,1545.2 L1109.0,1546.8 L1111.0,1548.5 L1113.0,1550.1 L1115.0,1551.6 L1117.0,1553.2 L1119.0,1554.6 L1121.0,1556.1 L1123.0,1557.5 L1125.0,1558.9 L1127.0,1560.2 L1129.0,1561.5 L1131.0,1562.8 L1133.0,1564.0 L1135.0,1565.1" fill="none" stroke="#161212" stroke-opacity="1.0" stroke-width="2.1" stroke-linejoin="round" stroke-linecap="round" />
<path d="M545.5,1589.8 L545.0,1599.8 L547.0,1599.0 L549.0,1598.1 L551.0,1597.2 L553.0,1596.4 L555.0,1595.5 L557.0,1594.6 L559.0,1593.7 L561.0,1592.8 L563.0,1591.9 L565.0,1591.0 L567.0,1590.0 L569.0,1589.1 L571.0,1588.1 L573.0,1587.2 L575.0,1586.2 L577.0,1585.2 L579.0,1584.3 L581.0,1583.3 L583.0,1582.3 L585.0,1581.3 L587.0,1580.3 L589.0,1579.3 L591.0,1578.3 L593.0,1577.3 L595.0,1576.3 L597.0,1575.2 L599.0,1574.2 L601.0,1573.2 L603.0,1572.1 L605.0,1571.1 L607.0,1570.1 L609.0,1569.0 L611.0,1568.0 L613.0,1566.9 L615.0,1565.9 L617.0,1564.8 L619.0,1563.8 L621.0,1562.7 L623.0,1561.7 L625.0,1560.6 L627.0,1559.6 L629.0,1558.5 L631.0,1557.5 L633.0,1556.4 L635.0,1555.4 L637.0,1554.4 L639.0,1553.4 L641.0,1552.4 L643.0,1551.4 L645.0,1550.4 L647.0,1549.4 L649.0,1548.5 L651.0,1547.6 L653.0,1546.7 L655.0,1545.8 L657.0,1544.9 L659.0,1544.0 L661.0,1543.2 L663.0,1542.3 L665.0,1541.4 L667.0,1540.5 L669.0,1539.6 L671.0,1538.6 L673.0,1537.5 L675.0,1536.3 L677.0,1535.1 L679.0,1533.8 L681.0,1532.3 L683.0,1530.7 L685.0,1529.0 L687.0,1527.1 L689.0,1525.1 L691.0,1522.9 L693.0,1520.6 L695.0,1518.0 L697.0,1515.2 L699.0,1512.2 L701.0,1508.9 L703.0,1505.4 L705.0,1501.6 L707.0,1497.4 L709.0,1493.0 L711.0,1488.1 L713.0,1483.0 L715.0,1477.4 L717.0,1471.5 L719.0,1465.4 L721.0,1458.9 L723.0,1452.2 L725.0,1445.3 L727.0,1438.2 L729.0,1431.0 L731.0,1423.6 L733.0,1416.1 L735.0,1408.4 L737.0,1400.6 L739.0,1392.5 L741.0,1384.2 L743.0,1375.7 L745.0,1366.8 L747.0,1357.6 L749.0,1348.1 L751.0,1338.2 L753.0,1327.9 L755.0,1317.1 L757.0,1305.6 L759.0,1293.5 L761.0,1280.8 L763.0,1267.5 L765.0,1253.6 L767.0,1239.2 L769.0,1224.5 L771.0,1209.7 L773.0,1195.6 L775.0,1182.4 L777.0,1170.8 L779.0,1161.0 L781.0,1153.1 L783.0,1146.8 L785.0,1142.1 L787.0,1138.8 L789.0,1136.7 L791.0,1135.9 L793.0,1136.3 L795.0,1137.8 L797.0,1140.5 L799.0,1144.5 L801.0,1149.8 L803.0,1156.5 L805.0,1164.9 L807.0,1174.6 L809.0,1185.7 L811.0,1197.6 L813.0,1210.3 L815.0,1223.4 L817.0,1236.8 L819.0,1250.0 L821.0,1262.9 L823.0,1275.2 L825.0,1286.8 L827.0,1297.7 L829.0,1307.9 L831.0,1317.4 L833.0,1326.2 L835.0,1334.2 L837.0,1341.6 L839.0,1348.3 L841.0,1354.3 L843.0,1359.7 L845.0,1364.4 L847.0,1368.6 L849.0,1372.3 L851.0,1375.6 L853.0,1378.4 L855.0,1381.0 L857.0,1383.2 L859.0,1385.3 L861.0,1387.1 L863.0,1388.8 L865.0,1390.3 L867.0,1391.7 L869.0,1393.0 L871.0,1394.2 L873.0,1395.4 L875.0,1396.4 L877.0,1397.4 L879.0,1398.4 L881.0,1399.3 L883.0,1400.2 L885.0,1401.0 L887.0,1401.8 L889.0,1402.6 L891.0,1403.4 L893.0,1404.1 L895.0,1404.8 L897.0,1405.5 L899.0,1406.2 L901.0,1406.9 L903.0,1407.5 L905.0,1408.1 L907.0,1408.8 L909.0,1409.4 L911.0,1410.0 L913.0,1410.6 L915.0,1411.2 L917.0,1411.8 L919.0,1412.3 L921.0,1412.9 L923.0,1413.5 L925.0,1414.1 L927.0,1414.7 L929.0,1415.2 L931.0,1415.8 L933.0,1416.4 L935.0,1416.9 L937.0,1417.5 L939.0,1418.0 L941.0,1418.5 L943.0,1419.1 L945.0,1419.6 L947.0,1420.1 L949.0,1420.6 L951.0,1421.0 L953.0,1421.5 L955.0,1422.0 L957.0,1422.4 L959.0,1422.9 L961.0,1423.4 L963.0,1423.8 L965.0,1424.3 L967.0,1424.9 L969.0,1425.4 L971.0,1426.0 L973.0,1426.6 L975.0,1427.2 L977.0,1427.9 L979.0,1428.7 L981.0,1429.5 L983.0,1430.3 L985.0,1431.3 L987.0,1432.3 L989.0,1433.3 L991.0,1434.4 L993.0,1435.7 L995.0,1436.9 L997.0,1438.3 L999.0,1439.7 L1001.0,1441.1 L1003.0,1442.7 L1005.0,1444.2 L1007.0,1445.9 L1009.0,1447.6 L1011.0,1449.3 L1013.0,1451.1 L1015.0,1452.9 L1017.0,1454.8 L1019.0,1456.7 L1021.0,1458.7 L1023.0,1460.7 L1025.0,1462.7 L1027.0,1464.7 L1029.0,1466.8 L1031.0,1468.9 L1033.0,1471.0 L1035.0,1473.2 L1037.0,1475.3 L1039.0,1477.5 L1041.0,1479.7 L1043.0,1481.9 L1045.0,1484.1 L1047.0,1486.4 L1049.0,1488.6 L1051.0,1490.8 L1053.0,1493.0 L1055.0,1495.2 L1057.0,1497.5 L1059.0,1499.7 L1061.0,1501.9 L1063.0,1504.1 L1065.0,1506.2 L1067.0,1508.4 L1069.0,1510.5 L1071.0,1512.6 L1073.0,1514.7 L1075.0,1516.8 L1077.0,1518.9 L1079.0,1520.9 L1081.0,1523.0 L1083.0,1525.0 L1085.0,1526.9 L1087.0,1528.9 L1089.0,1530.8 L1091.0,1532.7 L1093.0,1534.6 L1095.0,1536.5 L1097.0,1538.3 L1099.0,1540.1 L1101.0,1541.9 L1103.0,1543.6 L1105.0,1545.3 L1107.0,1547.0 L1109.0,1548.7 L1111.0,1550.3 L1113.0,1551.9 L1115.0,1553.4 L1117.0,1554.9 L1119.0,1556.4 L1121.0,1557.8 L1123.0,1559.2 L1125.0,1560.6 L1127.0,1561.9 L1129.0,1563.2 L1131.0,1564.5 L1133.0,1565.7 L1135.0,1566.8" fill="none" stroke="#161212" stroke-opacity="1.0" stroke-width="2.1" stroke-linejoin="round" stroke-linecap="round" />
<path d="M545.5,1591.0 L545.0,1601.0 L547.0,1600.1 L549.0,1599.3 L551.0,1598.5 L553.0,1597.6 L555.0,1596.7 L557.0,1595.9 L559.0,1595.0 L561.0,1594.1 L563.0,1593.2 L565.0,1592.2 L567.0,1591.3 L569.0,1590.4 L571.0,1589.4 L573.0,1588.5 L575.0,1587.5 L577.0,1586.5 L579.0,1585.5 L581.0,1584.6 L583.0,1583.6 L585.0,1582.6 L587.0,1581.6 L589.0,1580.5 L591.0,1579.5 L593.0,1578.5 L595.0,1577.5 L597.0,1576.4 L599.0,1575.4 L601.0,1574.4 L603.0,1573.3 L605.0,1572.3 L607.0,1571.2 L609.0,1570.2 L611.0,1569.1 L613.0,1568.0 L615.0,1567.0 L617.0,1565.9 L619.0,1564.8 L621.0,1563.8 L623.0,1562.7 L625.0,1561.7 L627.0,1560.6 L629.0,1559.5 L631.0,1558.5 L633.0,1557.4 L635.0,1556.4 L637.0,1555.4 L639.0,1554.3 L641.0,1553.3 L643.0,1552.3 L645.0,1551.3 L647.0,1550.4 L649.0,1549.4 L651.0,1548.4 L653.0,1547.5 L655.0,1546.6 L657.0,1545.7 L659.0,1544.8 L661.0,1544.0 L663.0,1543.1 L665.0,1542.2 L667.0,1541.3 L669.0,1540.3 L671.0,1539.3 L673.0,1538.2 L675.0,1537.0 L677.0,1535.8 L679.0,1534.5 L681.0,1533.1 L683.0,1531.6 L685.0,1529.9 L687.0,1528.1 L689.0,1526.2 L691.0,1524.1 L693.0,1521.8 L695.0,1519.4 L697.0,1516.8 L699.0,1513.9 L701.0,1510.8 L703.0,1507.5 L705.0,1503.9 L707.0,1500.0 L709.0,1495.8 L711.0,1491.2 L713.0,1486.3 L715.0,1481.0 L717.0,1475.4 L719.0,1469.6 L721.0,1463.4 L723.0,1457.1 L725.0,1450.5 L727.0,1443.8 L729.0,1436.9 L731.0,1429.9 L733.0,1422.8 L735.0,1415.6 L737.0,1408.2 L739.0,1400.7 L741.0,1392.9 L743.0,1385.0 L745.0,1376.8 L747.0,1368.4 L749.0,1359.8 L751.0,1350.8 L753.0,1341.4 L755.0,1331.6 L757.0,1321.2 L759.0,1310.1 L761.0,1298.3 L763.0,1286.1 L765.0,1273.4 L767.0,1260.5 L769.0,1247.5 L771.0,1234.7 L773.0,1222.6 L775.0,1211.3 L777.0,1201.5 L779.0,1193.2 L781.0,1186.6 L783.0,1181.3 L785.0,1177.4 L787.0,1174.6 L789.0,1172.9 L791.0,1172.3 L793.0,1172.7 L795.0,1174.1 L797.0,1176.5 L799.0,1179.9 L801.0,1184.4 L803.0,1190.1 L805.0,1197.1 L807.0,1205.2 L809.0,1214.3 L811.0,1224.2 L813.0,1234.7 L815.0,1245.6 L817.0,1256.6 L819.0,1267.6 L821.0,1278.3 L823.0,1288.6 L825.0,1298.4 L827.0,1307.6 L829.0,1316.2 L831.0,1324.3 L833.0,1331.8 L835.0,1338.8 L837.0,1345.2 L839.0,1351.0 L841.0,1356.3 L843.0,1361.0 L845.0,1365.3 L847.0,1369.1 L849.0,1372.5 L851.0,1375.5 L853.0,1378.2 L855.0,1380.6 L857.0,1382.7 L859.0,1384.7 L861.0,1386.5 L863.0,1388.2 L865.0,1389.7 L867.0,1391.2 L869.0,1392.5 L871.0,1393.7 L873.0,1394.9 L875.0,1396.0 L877.0,1397.0 L879.0,1398.0 L881.0,1399.0 L883.0,1399.9 L885.0,1400.9 L887.0,1401.7 L889.0,1402.6 L891.0,1403.4 L893.0,1404.2 L895.0,1404.9 L897.0,1405.7 L899.0,1406.4 L901.0,1407.2 L903.0,1407.9 L905.0,1408.5 L907.0,1409.2 L909.0,1409.9 L911.0,1410.6 L913.0,1411.2 L915.0,1411.9 L917.0,1412.6 L919.0,1413.2 L921.0,1413.9 L923.0,1414.5 L925.0,1415.2 L927.0,1415.8 L929.0,1416.5 L931.0,1417.1 L933.0,1417.7 L935.0,1418.3 L937.0,1418.9 L939.0,1419.5 L941.0,1420.1 L943.0,1420.7 L945.0,1421.2 L947.0,1421.8 L949.0,1422.3 L951.0,1422.8 L953.0,1423.3 L955.0,1423.8 L957.0,1424.2 L959.0,1424.7 L961.0,1425.2 L963.0,1425.7 L965.0,1426.2 L967.0,1426.7 L969.0,1427.2 L971.0,1427.8 L973.0,1428.4 L975.0,1429.0 L977.0,1429.7 L979.0,1430.4 L981.0,1431.2 L983.0,1432.0 L985.0,1432.9 L987.0,1433.9 L989.0,1435.0 L991.0,1436.1 L993.0,1437.3 L995.0,1438.6 L997.0,1439.9 L999.0,1441.3 L1001.0,1442.8 L1003.0,1444.3 L1005.0,1445.9 L1007.0,1447.5 L1009.0,1449.2 L1011.0,1451.0 L1013.0,1452.7 L1015.0,1454.6 L1017.0,1456.5 L1019.0,1458.4 L1021.0,1460.3 L1023.0,1462.3 L1025.0,1464.4 L1027.0,1466.4 L1029.0,1468.5 L1031.0,1470.6 L1033.0,1472.7 L1035.0,1474.9 L1037.0,1477.1 L1039.0,1479.3 L1041.0,1481.5 L1043.0,1483.7 L1045.0,1485.9 L1047.0,1488.1 L1049.0,1490.4 L1051.0,1492.6 L1053.0,1494.8 L1055.0,1497.0 L1057.0,1499.3 L1059.0,1501.5 L1061.0,1503.7 L1063.0,1505.8 L1065.0,1508.0 L1067.0,1510.2 L1069.0,1512.3 L1071.0,1514.4 L1073.0,1516.5 L1075.0,1518.6 L1077.0,1520.6 L1079.0,1522.7 L1081.0,1524.7 L1083.0,1526.7 L1085.0,1528.7 L1087.0,1530.6 L1089.0,1532.5 L1091.0,1534.4 L1093.0,1536.3 L1095.0,1538.1 L1097.0,1539.9 L1099.0,1541.7 L1101.0,1543.5 L1103.0,1545.2 L1105.0,1546.9 L1107.0,1548.6 L1109.0,1550.2 L1111.0,1551.8 L1113.0,1553.4 L1115.0,1554.9 L1117.0,1556.4 L1119.0,1557.9 L1121.0,1559.3 L1123.0,1560.7 L1125.0,1562.1 L1127.0,1563.4 L1129.0,1564.7 L1131.0,1565.9 L1133.0,1567.1 L1135.0,1568.3" fill="none" stroke="#161212" stroke-opacity="1.0" stroke-width="2.1" stroke-linejoin="round" stroke-linecap="round" />
<path d="M545.5,1592.4 L545.0,1602.4 L547.0,1601.6 L549.0,1600.8 L551.0,1600.0 L553.0,1599.1 L555.0,1598.3 L557.0,1597.4 L559.0,1596.5 L561.0,1595.6 L563.0,1594.7 L565.0,1593.8 L567.0,1592.9 L569.0,1591.9 L571.0,1591.0 L573.0,1590.0 L575.0,1589.1 L577.0,1588.1 L579.0,1587.1 L581.0,1586.1 L583.0,1585.1 L585.0,1584.1 L587.0,1583.1 L589.0,1582.0 L591.0,1581.0 L593.0,1580.0 L595.0,1578.9 L597.0,1577.9 L599.0,1576.8 L601.0,1575.8 L603.0,1574.7 L605.0,1573.7 L607.0,1572.6 L609.0,1571.5 L611.0,1570.5 L613.0,1569.4 L615.0,1568.3 L617.0,1567.2 L619.0,1566.2 L621.0,1565.1 L623.0,1564.0 L625.0,1562.9 L627.0,1561.8 L629.0,1560.8 L631.0,1559.7 L633.0,1558.7 L635.0,1557.6 L637.0,1556.6 L639.0,1555.5 L641.0,1554.5 L643.0,1553.5 L645.0,1552.5 L647.0,1551.5 L649.0,1550.5 L651.0,1549.5 L653.0,1548.6 L655.0,1547.6 L657.0,1546.7 L659.0,1545.8 L661.0,1544.9 L663.0,1544.0 L665.0,1543.1 L667.0,1542.1 L669.0,1541.1 L671.0,1540.1 L673.0,1539.1 L675.0,1537.9 L677.0,1536.7 L679.0,1535.4 L681.0,1534.0 L683.0,1532.6 L685.0,1531.0 L687.0,1529.3 L689.0,1527.4 L691.0,1525.5 L693.0,1523.4 L695.0,1521.1 L697.0,1518.7 L699.0,1516.0 L701.0,1513.2 L703.0,1510.1 L705.0,1506.7 L707.0,1503.1 L709.0,1499.2 L711.0,1494.9 L713.0,1490.3 L715.0,1485.4 L717.0,1480.2 L719.0,1474.7 L721.0,1468.9 L723.0,1463.0 L725.0,1456.8 L727.0,1450.5 L729.0,1444.1 L731.0,1437.6 L733.0,1431.0 L735.0,1424.3 L737.0,1417.5 L739.0,1410.6 L741.0,1403.5 L743.0,1396.3 L745.0,1389.0 L747.0,1381.5 L749.0,1373.9 L751.0,1366.0 L753.0,1357.8 L755.0,1349.2 L757.0,1340.1 L759.0,1330.2 L761.0,1319.7 L763.0,1308.7 L765.0,1297.5 L767.0,1286.4 L769.0,1275.5 L771.0,1265.1 L773.0,1255.3 L775.0,1246.5 L777.0,1238.8 L779.0,1232.4 L781.0,1227.2 L783.0,1223.2 L785.0,1220.2 L787.0,1218.1 L789.0,1216.9 L791.0,1216.6 L793.0,1217.0 L795.0,1218.2 L797.0,1220.2 L799.0,1222.9 L801.0,1226.5 L803.0,1230.9 L805.0,1236.2 L807.0,1242.3 L809.0,1249.2 L811.0,1256.6 L813.0,1264.4 L815.0,1272.5 L817.0,1280.7 L819.0,1289.0 L821.0,1297.1 L823.0,1304.9 L825.0,1312.4 L827.0,1319.5 L829.0,1326.3 L831.0,1332.6 L833.0,1338.6 L835.0,1344.3 L837.0,1349.5 L839.0,1354.3 L841.0,1358.7 L843.0,1362.7 L845.0,1366.4 L847.0,1369.7 L849.0,1372.7 L851.0,1375.4 L853.0,1377.8 L855.0,1380.1 L857.0,1382.2 L859.0,1384.1 L861.0,1385.8 L863.0,1387.5 L865.0,1389.0 L867.0,1390.5 L869.0,1391.8 L871.0,1393.1 L873.0,1394.3 L875.0,1395.5 L877.0,1396.6 L879.0,1397.7 L881.0,1398.7 L883.0,1399.7 L885.0,1400.7 L887.0,1401.6 L889.0,1402.5 L891.0,1403.4 L893.0,1404.2 L895.0,1405.1 L897.0,1405.9 L899.0,1406.7 L901.0,1407.5 L903.0,1408.3 L905.0,1409.1 L907.0,1409.8 L909.0,1410.6 L911.0,1411.3 L913.0,1412.1 L915.0,1412.8 L917.0,1413.5 L919.0,1414.3 L921.0,1415.0 L923.0,1415.8 L925.0,1416.5 L927.0,1417.2 L929.0,1417.9 L931.0,1418.6 L933.0,1419.3 L935.0,1420.0 L937.0,1420.7 L939.0,1421.4 L941.0,1422.0 L943.0,1422.6 L945.0,1423.2 L947.0,1423.8 L949.0,1424.4 L951.0,1424.9 L953.0,1425.4 L955.0,1425.9 L957.0,1426.4 L959.0,1426.9 L961.0,1427.4 L963.0,1427.9 L965.0,1428.4 L967.0,1428.9 L969.0,1429.4 L971.0,1429.9 L973.0,1430.5 L975.0,1431.1 L977.0,1431.8 L979.0,1432.5 L981.0,1433.3 L983.0,1434.1 L985.0,1435.0 L987.0,1436.0 L989.0,1437.0 L991.0,1438.1 L993.0,1439.3 L995.0,1440.6 L997.0,1441.9 L999.0,1443.3 L1001.0,1444.7 L1003.0,1446.3 L1005.0,1447.9 L1007.0,1449.5 L1009.0,1451.2 L1011.0,1452.9 L1013.0,1454.7 L1015.0,1456.6 L1017.0,1458.5 L1019.0,1460.4 L1021.0,1462.4 L1023.0,1464.4 L1025.0,1466.4 L1027.0,1468.5 L1029.0,1470.6 L1031.0,1472.7 L1033.0,1474.8 L1035.0,1477.0 L1037.0,1479.2 L1039.0,1481.4 L1041.0,1483.6 L1043.0,1485.8 L1045.0,1488.0 L1047.0,1490.3 L1049.0,1492.5 L1051.0,1494.8 L1053.0,1497.0 L1055.0,1499.2 L1057.0,1501.4 L1059.0,1503.6 L1061.0,1505.8 L1063.0,1508.0 L1065.0,1510.2 L1067.0,1512.3 L1069.0,1514.5 L1071.0,1516.6 L1073.0,1518.7 L1075.0,1520.7 L1077.0,1522.8 L1079.0,1524.8 L1081.0,1526.8 L1083.0,1528.8 L1085.0,1530.7 L1087.0,1532.7 L1089.0,1534.6 L1091.0,1536.5 L1093.0,1538.3 L1095.0,1540.1 L1097.0,1541.9 L1099.0,1543.7 L1101.0,1545.5 L1103.0,1547.2 L1105.0,1548.8 L1107.0,1550.5 L1109.0,1552.1 L1111.0,1553.7 L1113.0,1555.3 L1115.0,1556.8 L1117.0,1558.3 L1119.0,1559.7 L1121.0,1561.1 L1123.0,1562.5 L1125.0,1563.9 L1127.0,1565.2 L1129.0,1566.4 L1131.0,1567.7 L1133.0,1568.8 L1135.0,1570.0" fill="none" stroke="#161212" stroke-opacity="1.0" stroke-width="2.1" stroke-linejoin="round" stroke-linecap="round" />
<path d="M545.5,1593.6 L545.0,1603.6 L547.0,1602.8 L549.0,1602.0 L551.0,1601.2 L553.0,1600.3 L555.0,1599.5 L557.0,1598.6 L559.0,1597.8 L561.0,1596.9 L563.0,1596.0 L565.0,1595.1 L567.0,1594.1 L569.0,1593.2 L571.0,1592.3 L573.0,1591.3 L575.0,1590.3 L577.0,1589.4 L579.0,1588.4 L581.0,1587.4 L583.0,1586.4 L585.0,1585.3 L587.0,1584.3 L589.0,1583.3 L591.0,1582.2 L593.0,1581.2 L595.0,1580.1 L597.0,1579.1 L599.0,1578.0 L601.0,1577.0 L603.0,1575.9 L605.0,1574.8 L607.0,1573.7 L609.0,1572.7 L611.0,1571.6 L613.0,1570.5 L615.0,1569.4 L617.0,1568.3 L619.0,1567.2 L621.0,1566.1 L623.0,1565.0 L625.0,1564.0 L627.0,1562.9 L629.0,1561.8 L631.0,1560.7 L633.0,1559.7 L635.0,1558.6 L637.0,1557.5 L639.0,1556.5 L641.0,1555.4 L643.0,1554.4 L645.0,1553.4 L647.0,1552.4 L649.0,1551.4 L651.0,1550.4 L653.0,1549.4 L655.0,1548.5 L657.0,1547.5 L659.0,1546.6 L661.0,1545.7 L663.0,1544.8 L665.0,1543.8 L667.0,1542.9 L669.0,1541.9 L671.0,1540.8 L673.0,1539.8 L675.0,1538.6 L677.0,1537.4 L679.0,1536.2 L681.0,1534.8 L683.0,1533.4 L685.0,1531.9 L687.0,1530.2 L689.0,1528.5 L691.0,1526.6 L693.0,1524.6 L695.0,1522.5 L697.0,1520.2 L699.0,1517.7 L701.0,1515.1 L703.0,1512.2 L705.0,1509.0 L707.0,1505.6 L709.0,1501.9 L711.0,1497.9 L713.0,1493.6 L715.0,1489.0 L717.0,1484.0 L719.0,1478.8 L721.0,1473.4 L723.0,1467.8 L725.0,1462.0 L727.0,1456.0 L729.0,1450.0 L731.0,1443.9 L733.0,1437.7 L735.0,1431.4 L737.0,1425.1 L739.0,1418.7 L741.0,1412.2 L743.0,1405.6 L745.0,1399.0 L747.0,1392.3 L749.0,1385.4 L751.0,1378.5 L753.0,1371.3 L755.0,1363.7 L757.0,1355.5 L759.0,1346.6 L761.0,1337.1 L763.0,1327.2 L765.0,1317.3 L767.0,1307.6 L769.0,1298.4 L771.0,1289.9 L773.0,1282.2 L775.0,1275.3 L777.0,1269.3 L779.0,1264.4 L781.0,1260.5 L783.0,1257.4 L785.0,1255.2 L787.0,1253.7 L789.0,1252.9 L791.0,1252.8 L793.0,1253.3 L795.0,1254.3 L797.0,1255.9 L799.0,1258.1 L801.0,1260.9 L803.0,1264.3 L805.0,1268.2 L807.0,1272.7 L809.0,1277.7 L811.0,1283.0 L813.0,1288.6 L815.0,1294.5 L817.0,1300.5 L819.0,1306.5 L821.0,1312.4 L823.0,1318.2 L825.0,1323.9 L827.0,1329.3 L829.0,1334.5 L831.0,1339.5 L833.0,1344.2 L835.0,1348.7 L837.0,1353.0 L839.0,1357.0 L841.0,1360.7 L843.0,1364.1 L845.0,1367.2 L847.0,1370.1 L849.0,1372.8 L851.0,1375.3 L853.0,1377.6 L855.0,1379.7 L857.0,1381.7 L859.0,1383.5 L861.0,1385.3 L863.0,1386.9 L865.0,1388.5 L867.0,1389.9 L869.0,1391.3 L871.0,1392.6 L873.0,1393.9 L875.0,1395.1 L877.0,1396.2 L879.0,1397.3 L881.0,1398.4 L883.0,1399.5 L885.0,1400.5 L887.0,1401.5 L889.0,1402.4 L891.0,1403.4 L893.0,1404.3 L895.0,1405.2 L897.0,1406.1 L899.0,1406.9 L901.0,1407.8 L903.0,1408.6 L905.0,1409.5 L907.0,1410.3 L909.0,1411.1 L911.0,1411.9 L913.0,1412.7 L915.0,1413.5 L917.0,1414.3 L919.0,1415.2 L921.0,1416.0 L923.0,1416.8 L925.0,1417.6 L927.0,1418.4 L929.0,1419.1 L931.0,1419.9 L933.0,1420.7 L935.0,1421.4 L937.0,1422.1 L939.0,1422.9 L941.0,1423.6 L943.0,1424.2 L945.0,1424.9 L947.0,1425.5 L949.0,1426.1 L951.0,1426.7 L953.0,1427.2 L955.0,1427.7 L957.0,1428.2 L959.0,1428.7 L961.0,1429.2 L963.0,1429.7 L965.0,1430.1 L967.0,1430.6 L969.0,1431.2 L971.0,1431.7 L973.0,1432.3 L975.0,1432.9 L977.0,1433.5 L979.0,1434.2 L981.0,1435.0 L983.0,1435.8 L985.0,1436.7 L987.0,1437.6 L989.0,1438.6 L991.0,1439.7 L993.0,1440.9 L995.0,1442.2 L997.0,1443.5 L999.0,1444.9 L1001.0,1446.4 L1003.0,1447.9 L1005.0,1449.5 L1007.0,1451.1 L1009.0,1452.8 L1011.0,1454.6 L1013.0,1456.4 L1015.0,1458.2 L1017.0,1460.1 L1019.0,1462.1 L1021.0,1464.0 L1023.0,1466.0 L1025.0,1468.1 L1027.0,1470.2 L1029.0,1472.3 L1031.0,1474.4 L1033.0,1476.5 L1035.0,1478.7 L1037.0,1480.9 L1039.0,1483.1 L1041.0,1485.3 L1043.0,1487.6 L1045.0,1489.8 L1047.0,1492.0 L1049.0,1494.3 L1051.0,1496.5 L1053.0,1498.8 L1055.0,1501.0 L1057.0,1503.2 L1059.0,1505.4 L1061.0,1507.6 L1063.0,1509.8 L1065.0,1512.0 L1067.0,1514.1 L1069.0,1516.2 L1071.0,1518.3 L1073.0,1520.4 L1075.0,1522.5 L1077.0,1524.5 L1079.0,1526.5 L1081.0,1528.5 L1083.0,1530.5 L1085.0,1532.4 L1087.0,1534.4 L1089.0,1536.3 L1091.0,1538.1 L1093.0,1540.0 L1095.0,1541.8 L1097.0,1543.6 L1099.0,1545.3 L1101.0,1547.1 L1103.0,1548.8 L1105.0,1550.4 L1107.0,1552.1 L1109.0,1553.7 L1111.0,1555.2 L1113.0,1556.8 L1115.0,1558.3 L1117.0,1559.8 L1119.0,1561.2 L1121.0,1562.6 L1123.0,1564.0 L1125.0,1565.3 L1127.0,1566.6 L1129.0,1567.9 L1131.0,1569.1 L1133.0,1570.3 L1135.0,1571.4" fill="none" stroke="#161212" stroke-opacity="1.0" stroke-width="2.1" stroke-linejoin="round" stroke-linecap="round" />
<path d="M545.5,1595.0 L545.0,1605.0 L547.0,1604.3 L549.0,1603.5 L551.0,1602.7 L553.0,1601.9 L555.0,1601.1 L557.0,1600.2 L559.0,1599.4 L561.0,1598.5 L563.0,1597.6 L565.0,1596.7 L567.0,1595.8 L569.0,1594.8 L571.0,1593.9 L573.0,1592.9 L575.0,1592.0 L577.0,1591.0 L579.0,1590.0 L581.0,1589.0 L583.0,1588.0 L585.0,1586.9 L587.0,1585.9 L589.0,1584.9 L591.0,1583.8 L593.0,1582.7 L595.0,1581.7 L597.0,1580.6 L599.0,1579.5 L601.0,1578.5 L603.0,1577.4 L605.0,1576.3 L607.0,1575.2 L609.0,1574.1 L611.0,1573.0 L613.0,1571.9 L615.0,1570.8 L617.0,1569.7 L619.0,1568.6 L621.0,1567.5 L623.0,1566.4 L625.0,1565.3 L627.0,1564.2 L629.0,1563.1 L631.0,1562.0 L633.0,1560.9 L635.0,1559.9 L637.0,1558.8 L639.0,1557.7 L641.0,1556.7 L643.0,1555.6 L645.0,1554.6 L647.0,1553.6 L649.0,1552.5 L651.0,1551.5 L653.0,1550.5 L655.0,1549.6 L657.0,1548.6 L659.0,1547.6 L661.0,1546.7 L663.0,1545.7 L665.0,1544.8 L667.0,1543.8 L669.0,1542.8 L671.0,1541.7 L673.0,1540.6 L675.0,1539.5 L677.0,1538.3 L679.0,1537.1 L681.0,1535.8 L683.0,1534.4 L685.0,1533.0 L687.0,1531.4 L689.0,1529.8 L691.0,1528.1 L693.0,1526.2 L695.0,1524.3 L697.0,1522.2 L699.0,1519.9 L701.0,1517.5 L703.0,1514.9 L705.0,1512.0 L707.0,1508.9 L709.0,1505.5 L711.0,1501.8 L713.0,1497.8 L715.0,1493.6 L717.0,1489.0 L719.0,1484.2 L721.0,1479.1 L723.0,1473.9 L725.0,1468.6 L727.0,1463.1 L729.0,1457.5 L731.0,1451.9 L733.0,1446.2 L735.0,1440.5 L737.0,1434.8 L739.0,1429.0 L741.0,1423.3 L743.0,1417.5 L745.0,1411.7 L747.0,1406.0 L749.0,1400.2 L751.0,1394.4 L753.0,1388.5 L755.0,1382.2 L757.0,1375.3 L759.0,1367.7 L761.0,1359.4 L763.0,1350.9 L765.0,1342.5 L767.0,1334.7 L769.0,1327.7 L771.0,1321.7 L773.0,1316.5 L775.0,1312.0 L777.0,1308.4 L779.0,1305.4 L781.0,1303.0 L783.0,1301.3 L785.0,1300.0 L787.0,1299.3 L789.0,1299.0 L791.0,1299.1 L793.0,1299.6 L795.0,1300.5 L797.0,1301.7 L799.0,1303.2 L801.0,1304.9 L803.0,1306.9 L805.0,1309.1 L807.0,1311.5 L809.0,1314.1 L811.0,1316.8 L813.0,1319.7 L815.0,1322.6 L817.0,1325.7 L819.0,1328.8 L821.0,1332.0 L823.0,1335.3 L825.0,1338.5 L827.0,1341.8 L829.0,1345.0 L831.0,1348.2 L833.0,1351.4 L835.0,1354.5 L837.0,1357.5 L839.0,1360.4 L841.0,1363.2 L843.0,1365.8 L845.0,1368.3 L847.0,1370.7 L849.0,1373.0 L851.0,1375.2 L853.0,1377.2 L855.0,1379.2 L857.0,1381.1 L859.0,1382.9 L861.0,1384.5 L863.0,1386.2 L865.0,1387.7 L867.0,1389.2 L869.0,1390.6 L871.0,1392.0 L873.0,1393.3 L875.0,1394.5 L877.0,1395.8 L879.0,1396.9 L881.0,1398.1 L883.0,1399.2 L885.0,1400.3 L887.0,1401.3 L889.0,1402.4 L891.0,1403.4 L893.0,1404.4 L895.0,1405.3 L897.0,1406.3 L899.0,1407.2 L901.0,1408.2 L903.0,1409.1 L905.0,1410.0 L907.0,1410.9 L909.0,1411.8 L911.0,1412.7 L913.0,1413.6 L915.0,1414.5 L917.0,1415.4 L919.0,1416.3 L921.0,1417.2 L923.0,1418.1 L925.0,1418.9 L927.0,1419.8 L929.0,1420.7 L931.0,1421.5 L933.0,1422.4 L935.0,1423.2 L937.0,1424.0 L939.0,1424.8 L941.0,1425.5 L943.0,1426.3 L945.0,1427.0 L947.0,1427.6 L949.0,1428.3 L951.0,1428.9 L953.0,1429.4 L955.0,1430.0 L957.0,1430.5 L959.0,1431.0 L961.0,1431.5 L963.0,1432.0 L965.0,1432.4 L967.0,1432.9 L969.0,1433.4 L971.0,1434.0 L973.0,1434.5 L975.0,1435.1 L977.0,1435.7 L979.0,1436.4 L981.0,1437.2 L983.0,1438.0 L985.0,1438.8 L987.0,1439.7 L989.0,1440.8 L991.0,1441.8 L993.0,1443.0 L995.0,1444.3 L997.0,1445.6 L999.0,1447.0 L1001.0,1448.4 L1003.0,1450.0 L1005.0,1451.6 L1007.0,1453.2 L1009.0,1454.9 L1011.0,1456.7 L1013.0,1458.5 L1015.0,1460.3 L1017.0,1462.2 L1019.0,1464.2 L1021.0,1466.1 L1023.0,1468.2 L1025.0,1470.2 L1027.0,1472.3 L1029.0,1474.4 L1031.0,1476.6 L1033.0,1478.7 L1035.0,1480.9 L1037.0,1483.1 L1039.0,1485.3 L1041.0,1487.6 L1043.0,1489.8 L1045.0,1492.1 L1047.0,1494.3 L1049.0,1496.5 L1051.0,1498.8 L1053.0,1501.0 L1055.0,1503.3 L1057.0,1505.5 L1059.0,1507.7 L1061.0,1509.9 L1063.0,1512.1 L1065.0,1514.3 L1067.0,1516.4 L1069.0,1518.5 L1071.0,1520.6 L1073.0,1522.7 L1075.0,1524.7 L1077.0,1526.8 L1079.0,1528.8 L1081.0,1530.7 L1083.0,1532.7 L1085.0,1534.6 L1087.0,1536.5 L1089.0,1538.4 L1091.0,1540.3 L1093.0,1542.1 L1095.0,1543.9 L1097.0,1545.7 L1099.0,1547.4 L1101.0,1549.1 L1103.0,1550.8 L1105.0,1552.4 L1107.0,1554.1 L1109.0,1555.6 L1111.0,1557.2 L1113.0,1558.7 L1115.0,1560.2 L1117.0,1561.7 L1119.0,1563.1 L1121.0,1564.5 L1123.0,1565.9 L1125.0,1567.2 L1127.0,1568.5 L1129.0,1569.7 L1131.0,1570.9 L1133.0,1572.1 L1135.0,1573.2" fill="none" stroke="#161212" stroke-opacity="1.0" stroke-width="2.1" stroke-linejoin="round" stroke-linecap="round" />
<path d="M545.5,1597.2 L545.0,1607.2 L547.0,1606.4 L549.0,1605.6 L551.0,1604.7 L553.0,1603.9 L555.0,1603.1 L557.0,1602.2 L559.0,1601.3 L561.0,1600.4 L563.0,1599.6 L565.0,1598.6 L567.0,1597.7 L569.0,1596.8 L571.0,1595.8 L573.0,1594.9 L575.0,1593.9 L577.0,1592.9 L579.0,1592.0 L581.0,1591.0 L583.0,1590.0 L585.0,1588.9 L587.0,1587.9 L589.0,1586.9 L591.0,1585.9 L593.0,1584.8 L595.0,1583.8 L597.0,1582.7 L599.0,1581.6 L601.0,1580.5 L603.0,1579.5 L605.0,1578.4 L607.0,1577.3 L609.0,1576.2 L611.0,1575.1 L613.0,1574.0 L615.0,1572.9 L617.0,1571.7 L619.0,1570.6 L621.0,1569.5 L623.0,1568.4 L625.0,1567.2 L627.0,1566.1 L629.0,1565.0 L631.0,1563.9 L633.0,1562.8 L635.0,1561.7 L637.0,1560.6 L639.0,1559.5 L641.0,1558.4 L643.0,1557.3 L645.0,1556.3 L647.0,1555.2 L649.0,1554.2 L651.0,1553.2 L653.0,1552.3 L655.0,1551.3 L657.0,1550.4 L659.0,1549.5 L661.0,1548.6 L663.0,1547.7 L665.0,1546.8 L667.0,1545.9 L669.0,1545.0 L671.0,1544.1 L673.0,1543.1 L675.0,1542.1 L677.0,1541.1 L679.0,1540.0 L681.0,1538.9 L683.0,1537.7 L685.0,1536.5 L687.0,1535.1 L689.0,1533.7 L691.0,1532.2 L693.0,1530.6 L695.0,1528.9 L697.0,1527.1 L699.0,1525.1 L701.0,1523.1 L703.0,1520.8 L705.0,1518.5 L707.0,1516.0 L709.0,1513.3 L711.0,1510.4 L713.0,1507.3 L715.0,1504.1 L717.0,1500.6 L719.0,1497.0 L721.0,1493.1 L723.0,1489.0 L725.0,1484.6 L727.0,1480.0 L729.0,1475.1 L731.0,1469.9 L733.0,1464.5 L735.0,1458.9 L737.0,1453.1 L739.0,1447.1 L741.0,1441.0 L743.0,1434.9 L745.0,1428.7 L747.0,1422.5 L749.0,1416.4 L751.0,1410.3 L753.0,1404.3 L755.0,1398.5 L757.0,1392.8 L759.0,1387.4 L761.0,1382.2 L763.0,1377.2 L765.0,1372.7 L767.0,1368.4 L769.0,1364.6 L771.0,1361.2 L773.0,1358.1 L775.0,1355.3 L777.0,1352.9 L779.0,1350.9 L781.0,1349.1 L783.0,1347.6 L785.0,1346.5 L787.0,1345.5 L789.0,1344.9 L791.0,1344.5 L793.0,1344.3 L795.0,1344.3 L797.0,1344.5 L799.0,1344.9 L801.0,1345.4 L803.0,1346.1 L805.0,1347.0 L807.0,1347.9 L809.0,1349.0 L811.0,1350.2 L813.0,1351.5 L815.0,1352.9 L817.0,1354.4 L819.0,1356.0 L821.0,1357.6 L823.0,1359.3 L825.0,1361.0 L827.0,1362.8 L829.0,1364.6 L831.0,1366.4 L833.0,1368.2 L835.0,1370.1 L837.0,1371.9 L839.0,1373.8 L841.0,1375.6 L843.0,1377.4 L845.0,1379.2 L847.0,1380.9 L849.0,1382.7 L851.0,1384.4 L853.0,1386.1 L855.0,1387.7 L857.0,1389.4 L859.0,1391.0 L861.0,1392.6 L863.0,1394.2 L865.0,1395.8 L867.0,1397.4 L869.0,1398.9 L871.0,1400.4 L873.0,1401.9 L875.0,1403.4 L877.0,1404.8 L879.0,1406.3 L881.0,1407.7 L883.0,1409.1 L885.0,1410.5 L887.0,1411.9 L889.0,1413.3 L891.0,1414.6 L893.0,1416.0 L895.0,1417.3 L897.0,1418.6 L899.0,1419.9 L901.0,1421.2 L903.0,1422.4 L905.0,1423.7 L907.0,1424.9 L909.0,1426.2 L911.0,1427.4 L913.0,1428.6 L915.0,1429.8 L917.0,1431.0 L919.0,1432.1 L921.0,1433.3 L923.0,1434.4 L925.0,1435.5 L927.0,1436.6 L929.0,1437.7 L931.0,1438.7 L933.0,1439.8 L935.0,1440.8 L937.0,1441.8 L939.0,1442.7 L941.0,1443.6 L943.0,1444.5 L945.0,1445.3 L947.0,1446.2 L949.0,1446.9 L951.0,1447.7 L953.0,1448.4 L955.0,1449.1 L957.0,1449.7 L959.0,1450.3 L961.0,1450.9 L963.0,1451.5 L965.0,1452.1 L967.0,1452.7 L969.0,1453.3 L971.0,1453.9 L973.0,1454.5 L975.0,1455.1 L977.0,1455.8 L979.0,1456.5 L981.0,1457.3 L983.0,1458.0 L985.0,1458.9 L987.0,1459.8 L989.0,1460.8 L991.0,1461.8 L993.0,1462.9 L995.0,1464.1 L997.0,1465.3 L999.0,1466.5 L1001.0,1467.9 L1003.0,1469.2 L1005.0,1470.7 L1007.0,1472.1 L1009.0,1473.7 L1011.0,1475.2 L1013.0,1476.8 L1015.0,1478.5 L1017.0,1480.1 L1019.0,1481.8 L1021.0,1483.6 L1023.0,1485.4 L1025.0,1487.1 L1027.0,1489.0 L1029.0,1490.8 L1031.0,1492.7 L1033.0,1494.5 L1035.0,1496.4 L1037.0,1498.3 L1039.0,1500.2 L1041.0,1502.2 L1043.0,1504.1 L1045.0,1506.0 L1047.0,1508.0 L1049.0,1509.9 L1051.0,1511.8 L1053.0,1513.7 L1055.0,1515.7 L1057.0,1517.6 L1059.0,1519.5 L1061.0,1521.3 L1063.0,1523.2 L1065.0,1525.0 L1067.0,1526.9 L1069.0,1528.7 L1071.0,1530.5 L1073.0,1532.2 L1075.0,1534.0 L1077.0,1535.7 L1079.0,1537.4 L1081.0,1539.1 L1083.0,1540.8 L1085.0,1542.5 L1087.0,1544.2 L1089.0,1545.8 L1091.0,1547.5 L1093.0,1549.1 L1095.0,1550.7 L1097.0,1552.3 L1099.0,1553.9 L1101.0,1555.4 L1103.0,1557.0 L1105.0,1558.5 L1107.0,1560.0 L1109.0,1561.6 L1111.0,1563.1 L1113.0,1564.6 L1115.0,1566.0 L1117.0,1567.5 L1119.0,1569.0 L1121.0,1570.4 L1123.0,1571.9 L1125.0,1573.3 L1127.0,1574.7 L1129.0,1576.2 L1131.0,1577.6 L1133.0,1579.0 L1135.0,1580.4" fill="none" stroke="#161212" stroke-opacity="1.0" stroke-width="2.1" stroke-linejoin="round" stroke-linecap="round" />
<path d="M545.5,1598.5 L545.0,1608.5 L547.0,1607.9 L549.0,1607.3 L551.0,1606.6 L553.0,1605.9 L555.0,1605.2 L557.0,1604.4 L559.0,1603.6 L561.0,1602.8 L563.0,1601.9 L565.0,1601.0 L567.0,1600.1 L569.0,1599.2 L571.0,1598.2 L573.0,1597.2 L575.0,1596.2 L577.0,1595.2 L579.0,1594.2 L581.0,1593.2 L583.0,1592.1 L585.0,1591.0 L587.0,1589.9 L589.0,1588.8 L591.0,1587.7 L593.0,1586.6 L595.0,1585.5 L597.0,1584.4 L599.0,1583.3 L601.0,1582.1 L603.0,1581.0 L605.0,1579.9 L607.0,1578.7 L609.0,1577.6 L611.0,1576.5 L613.0,1575.4 L615.0,1574.3 L617.0,1573.2 L619.0,1572.1 L621.0,1571.1 L623.0,1570.0 L625.0,1569.0 L627.0,1567.9 L629.0,1566.9 L631.0,1565.9 L633.0,1564.9 L635.0,1563.9 L637.0,1562.9 L639.0,1561.9 L641.0,1560.9 L643.0,1559.9 L645.0,1558.9 L647.0,1557.9 L649.0,1556.9 L651.0,1555.9 L653.0,1554.9 L655.0,1553.9 L657.0,1552.8 L659.0,1551.8 L661.0,1550.8 L663.0,1549.7 L665.0,1548.7 L667.0,1547.6 L669.0,1546.5 L671.0,1545.5 L673.0,1544.4 L675.0,1543.2 L677.0,1542.1 L679.0,1540.9 L681.0,1539.8 L683.0,1538.6 L685.0,1537.4 L687.0,1536.1 L689.0,1534.9 L691.0,1533.6 L693.0,1532.3 L695.0,1531.0 L697.0,1529.6 L699.0,1528.2 L701.0,1526.8 L703.0,1525.2 L705.0,1523.6 L707.0,1522.0 L709.0,1520.2 L711.0,1518.3 L713.0,1516.4 L715.0,1514.3 L717.0,1512.1 L719.0,1509.7 L721.0,1507.2 L723.0,1504.6 L725.0,1501.8 L727.0,1498.8 L729.0,1495.7 L731.0,1492.3 L733.0,1488.8 L735.0,1485.1 L737.0,1481.3 L739.0,1477.3 L741.0,1473.3 L743.0,1469.1 L745.0,1464.9 L747.0,1460.7 L749.0,1456.5 L751.0,1452.2 L753.0,1448.0 L755.0,1443.8 L757.0,1439.7 L759.0,1435.7 L761.0,1431.8 L763.0,1428.0 L765.0,1424.3 L767.0,1420.9 L769.0,1417.6 L771.0,1414.5 L773.0,1411.6 L775.0,1408.9 L777.0,1406.3 L779.0,1403.9 L781.0,1401.7 L783.0,1399.7 L785.0,1397.8 L787.0,1396.0 L789.0,1394.4 L791.0,1393.0 L793.0,1391.7 L795.0,1390.6 L797.0,1389.5 L799.0,1388.7 L801.0,1387.9 L803.0,1387.3 L805.0,1386.8 L807.0,1386.4 L809.0,1386.1 L811.0,1385.9 L813.0,1385.9 L815.0,1385.9 L817.0,1386.0 L819.0,1386.3 L821.0,1386.6 L823.0,1387.0 L825.0,1387.5 L827.0,1388.0 L829.0,1388.7 L831.0,1389.4 L833.0,1390.2 L835.0,1391.0 L837.0,1391.9 L839.0,1392.8 L841.0,1393.8 L843.0,1394.9 L845.0,1396.0 L847.0,1397.1 L849.0,1398.3 L851.0,1399.4 L853.0,1400.6 L855.0,1401.8 L857.0,1403.0 L859.0,1404.2 L861.0,1405.4 L863.0,1406.6 L865.0,1407.8 L867.0,1408.9 L869.0,1410.1 L871.0,1411.1 L873.0,1412.2 L875.0,1413.2 L877.0,1414.1 L879.0,1415.0 L881.0,1415.8 L883.0,1416.6 L885.0,1417.4 L887.0,1418.2 L889.0,1418.9 L891.0,1419.7 L893.0,1420.4 L895.0,1421.2 L897.0,1422.1 L899.0,1422.9 L901.0,1423.9 L903.0,1424.8 L905.0,1425.8 L907.0,1426.8 L909.0,1427.8 L911.0,1428.9 L913.0,1429.9 L915.0,1431.0 L917.0,1432.1 L919.0,1433.2 L921.0,1434.4 L923.0,1435.5 L925.0,1436.6 L927.0,1437.8 L929.0,1438.9 L931.0,1440.0 L933.0,1441.1 L935.0,1442.1 L937.0,1443.2 L939.0,1444.2 L941.0,1445.2 L943.0,1446.2 L945.0,1447.1 L947.0,1448.0 L949.0,1448.9 L951.0,1449.7 L953.0,1450.4 L955.0,1451.2 L957.0,1451.8 L959.0,1452.5 L961.0,1453.1 L963.0,1453.7 L965.0,1454.3 L967.0,1454.9 L969.0,1455.4 L971.0,1456.0 L973.0,1456.6 L975.0,1457.3 L977.0,1457.9 L979.0,1458.6 L981.0,1459.3 L983.0,1460.1 L985.0,1460.9 L987.0,1461.8 L989.0,1462.8 L991.0,1463.8 L993.0,1464.9 L995.0,1466.0 L997.0,1467.2 L999.0,1468.5 L1001.0,1469.8 L1003.0,1471.2 L1005.0,1472.6 L1007.0,1474.1 L1009.0,1475.6 L1011.0,1477.1 L1013.0,1478.7 L1015.0,1480.4 L1017.0,1482.1 L1019.0,1483.8 L1021.0,1485.5 L1023.0,1487.3 L1025.0,1489.1 L1027.0,1490.9 L1029.0,1492.8 L1031.0,1494.6 L1033.0,1496.5 L1035.0,1498.4 L1037.0,1500.3 L1039.0,1502.2 L1041.0,1504.2 L1043.0,1506.1 L1045.0,1508.0 L1047.0,1510.0 L1049.0,1511.9 L1051.0,1513.9 L1053.0,1515.8 L1055.0,1517.7 L1057.0,1519.6 L1059.0,1521.5 L1061.0,1523.4 L1063.0,1525.3 L1065.0,1527.1 L1067.0,1528.9 L1069.0,1530.7 L1071.0,1532.5 L1073.0,1534.3 L1075.0,1536.0 L1077.0,1537.8 L1079.0,1539.5 L1081.0,1541.2 L1083.0,1542.9 L1085.0,1544.5 L1087.0,1546.2 L1089.0,1547.8 L1091.0,1549.5 L1093.0,1551.1 L1095.0,1552.7 L1097.0,1554.3 L1099.0,1555.8 L1101.0,1557.4 L1103.0,1558.9 L1105.0,1560.5 L1107.0,1562.0 L1109.0,1563.5 L1111.0,1565.0 L1113.0,1566.5 L1115.0,1568.0 L1117.0,1569.5 L1119.0,1571.0 L1121.0,1572.4 L1123.0,1573.9 L1125.0,1575.3 L1127.0,1576.8 L1129.0,1578.2 L1131.0,1579.6 L1133.0,1581.0 L1135.0,1582.4" fill="none" stroke="#161212" stroke-opacity="1.0" stroke-width="2.1" stroke-linejoin="round" stroke-linecap="round" />
<path d="M545.5,1601.6 L545.0,1611.6 L547.0,1610.7 L549.0,1609.9 L551.0,1609.0 L553.0,1608.1 L555.0,1607.2 L557.0,1606.3 L559.0,1605.4 L561.0,1604.4 L563.0,1603.5 L565.0,1602.6 L567.0,1601.6 L569.0,1600.6 L571.0,1599.7 L573.0,1598.7 L575.0,1597.7 L577.0,1596.7 L579.0,1595.7 L581.0,1594.7 L583.0,1593.7 L585.0,1592.7 L587.0,1591.7 L589.0,1590.7 L591.0,1589.6 L593.0,1588.6 L595.0,1587.5 L597.0,1586.5 L599.0,1585.4 L601.0,1584.4 L603.0,1583.3 L605.0,1582.3 L607.0,1581.2 L609.0,1580.1 L611.0,1579.0 L613.0,1578.0 L615.0,1576.9 L617.0,1575.8 L619.0,1574.7 L621.0,1573.6 L623.0,1572.5 L625.0,1571.4 L627.0,1570.3 L629.0,1569.2 L631.0,1568.1 L633.0,1567.0 L635.0,1565.9 L637.0,1564.8 L639.0,1563.7 L641.0,1562.6 L643.0,1561.5 L645.0,1560.4 L647.0,1559.3 L649.0,1558.2 L651.0,1557.1 L653.0,1556.0 L655.0,1554.8 L657.0,1553.7 L659.0,1552.6 L661.0,1551.5 L663.0,1550.4 L665.0,1549.3 L667.0,1548.2 L669.0,1547.2 L671.0,1546.1 L673.0,1545.0 L675.0,1543.9 L677.0,1542.8 L679.0,1541.7 L681.0,1540.6 L683.0,1539.6 L685.0,1538.5 L687.0,1537.4 L689.0,1536.4 L691.0,1535.3 L693.0,1534.3 L695.0,1533.2 L697.0,1532.2 L699.0,1531.1 L701.0,1530.1 L703.0,1529.0 L705.0,1527.9 L707.0,1526.8 L709.0,1525.6 L711.0,1524.5 L713.0,1523.3 L715.0,1522.0 L717.0,1520.7 L719.0,1519.4 L721.0,1518.0 L723.0,1516.5 L725.0,1515.0 L727.0,1513.4 L729.0,1511.8 L731.0,1510.1 L733.0,1508.2 L735.0,1506.4 L737.0,1504.4 L739.0,1502.4 L741.0,1500.3 L743.0,1498.2 L745.0,1496.0 L747.0,1493.7 L749.0,1491.4 L751.0,1489.1 L753.0,1486.7 L755.0,1484.2 L757.0,1481.8 L759.0,1479.3 L761.0,1476.7 L763.0,1474.1 L765.0,1471.5 L767.0,1468.9 L769.0,1466.3 L771.0,1463.6 L773.0,1461.0 L775.0,1458.3 L777.0,1455.7 L779.0,1453.1 L781.0,1450.5 L783.0,1447.9 L785.0,1445.4 L787.0,1442.9 L789.0,1440.5 L791.0,1438.1 L793.0,1435.8 L795.0,1433.6 L797.0,1431.4 L799.0,1429.4 L801.0,1427.5 L803.0,1425.6 L805.0,1423.9 L807.0,1422.3 L809.0,1420.8 L811.0,1419.4 L813.0,1418.1 L815.0,1416.9 L817.0,1415.9 L819.0,1414.9 L821.0,1414.1 L823.0,1413.4 L825.0,1412.7 L827.0,1412.2 L829.0,1411.7 L831.0,1411.4 L833.0,1411.2 L835.0,1411.0 L837.0,1411.0 L839.0,1411.0 L841.0,1411.1 L843.0,1411.4 L845.0,1411.7 L847.0,1412.0 L849.0,1412.5 L851.0,1413.0 L853.0,1413.6 L855.0,1414.2 L857.0,1414.9 L859.0,1415.7 L861.0,1416.4 L863.0,1417.2 L865.0,1418.1 L867.0,1419.0 L869.0,1419.8 L871.0,1420.8 L873.0,1421.7 L875.0,1422.6 L877.0,1423.5 L879.0,1424.4 L881.0,1425.4 L883.0,1426.3 L885.0,1427.2 L887.0,1428.1 L889.0,1428.9 L891.0,1429.8 L893.0,1430.7 L895.0,1431.6 L897.0,1432.4 L899.0,1433.2 L901.0,1434.1 L903.0,1434.9 L905.0,1435.7 L907.0,1436.5 L909.0,1437.2 L911.0,1438.0 L913.0,1438.8 L915.0,1439.5 L917.0,1440.2 L919.0,1440.9 L921.0,1441.6 L923.0,1442.3 L925.0,1442.9 L927.0,1443.6 L929.0,1444.2 L931.0,1444.8 L933.0,1445.5 L935.0,1446.1 L937.0,1446.7 L939.0,1447.3 L941.0,1447.9 L943.0,1448.4 L945.0,1449.0 L947.0,1449.6 L949.0,1450.2 L951.0,1450.8 L953.0,1451.4 L955.0,1451.9 L957.0,1452.5 L959.0,1453.1 L961.0,1453.7 L963.0,1454.3 L965.0,1455.0 L967.0,1455.6 L969.0,1456.3 L971.0,1457.0 L973.0,1457.8 L975.0,1458.5 L977.0,1459.3 L979.0,1460.2 L981.0,1461.0 L983.0,1462.0 L985.0,1462.9 L987.0,1463.9 L989.0,1465.0 L991.0,1466.1 L993.0,1467.3 L995.0,1468.5 L997.0,1469.8 L999.0,1471.1 L1001.0,1472.4 L1003.0,1473.8 L1005.0,1475.3 L1007.0,1476.8 L1009.0,1478.3 L1011.0,1479.8 L1013.0,1481.4 L1015.0,1483.0 L1017.0,1484.7 L1019.0,1486.3 L1021.0,1488.0 L1023.0,1489.8 L1025.0,1491.5 L1027.0,1493.3 L1029.0,1495.1 L1031.0,1496.9 L1033.0,1498.7 L1035.0,1500.5 L1037.0,1502.4 L1039.0,1504.2 L1041.0,1506.1 L1043.0,1508.0 L1045.0,1509.8 L1047.0,1511.7 L1049.0,1513.6 L1051.0,1515.5 L1053.0,1517.4 L1055.0,1519.3 L1057.0,1521.1 L1059.0,1523.0 L1061.0,1524.9 L1063.0,1526.7 L1065.0,1528.6 L1067.0,1530.4 L1069.0,1532.2 L1071.0,1534.0 L1073.0,1535.8 L1075.0,1537.6 L1077.0,1539.4 L1079.0,1541.2 L1081.0,1542.9 L1083.0,1544.6 L1085.0,1546.4 L1087.0,1548.1 L1089.0,1549.8 L1091.0,1551.5 L1093.0,1553.1 L1095.0,1554.8 L1097.0,1556.4 L1099.0,1558.1 L1101.0,1559.7 L1103.0,1561.3 L1105.0,1562.9 L1107.0,1564.4 L1109.0,1566.0 L1111.0,1567.5 L1113.0,1569.1 L1115.0,1570.6 L1117.0,1572.1 L1119.0,1573.6 L1121.0,1575.0 L1123.0,1576.5 L1125.0,1577.9 L1127.0,1579.3 L1129.0,1580.7 L1131.0,1582.1 L1133.0,1583.5 L1135.0,1584.8" fill="none" stroke="#161212" stroke-opacity="1.0" stroke-width="2.1" stroke-linejoin="round" stroke-linecap="round" />
<path d="M545.5,1602.3 L545.0,1612.3 L547.0,1611.7 L549.0,1611.0 L551.0,1610.3 L553.0,1609.6 L555.0,1608.9 L557.0,1608.1 L559.0,1607.4 L561.0,1606.6 L563.0,1605.8 L565.0,1605.0 L567.0,1604.1 L569.0,1603.3 L571.0,1602.4 L573.0,1601.5 L575.0,1600.6 L577.0,1599.7 L579.0,1598.8 L581.0,1597.8 L583.0,1596.9 L585.0,1595.9 L587.0,1594.9 L589.0,1593.9 L591.0,1592.9 L593.0,1591.9 L595.0,1590.9 L597.0,1589.8 L599.0,1588.8 L601.0,1587.7 L603.0,1586.6 L605.0,1585.6 L607.0,1584.5 L609.0,1583.4 L611.0,1582.3 L613.0,1581.1 L615.0,1580.0 L617.0,1578.9 L619.0,1577.8 L621.0,1576.6 L623.0,1575.5 L625.0,1574.3 L627.0,1573.2 L629.0,1572.0 L631.0,1570.8 L633.0,1569.7 L635.0,1568.5 L637.0,1567.3 L639.0,1566.2 L641.0,1565.0 L643.0,1563.8 L645.0,1562.6 L647.0,1561.4 L649.0,1560.3 L651.0,1559.1 L653.0,1557.9 L655.0,1556.7 L657.0,1555.5 L659.0,1554.4 L661.0,1553.2 L663.0,1552.0 L665.0,1550.8 L667.0,1549.7 L669.0,1548.5 L671.0,1547.4 L673.0,1546.2 L675.0,1545.1 L677.0,1543.9 L679.0,1542.8 L681.0,1541.6 L683.0,1540.5 L685.0,1539.4 L687.0,1538.3 L689.0,1537.2 L691.0,1536.1 L693.0,1535.0 L695.0,1533.9 L697.0,1532.9 L699.0,1531.8 L701.0,1530.7 L703.0,1529.7 L705.0,1528.7 L707.0,1527.6 L709.0,1526.6 L711.0,1525.6 L713.0,1524.5 L715.0,1523.5 L717.0,1522.5 L719.0,1521.5 L721.0,1520.5 L723.0,1519.5 L725.0,1518.5 L727.0,1517.5 L729.0,1516.5 L731.0,1515.4 L733.0,1514.4 L735.0,1513.4 L737.0,1512.4 L739.0,1511.4 L741.0,1510.4 L743.0,1509.4 L745.0,1508.3 L747.0,1507.3 L749.0,1506.3 L751.0,1505.2 L753.0,1504.2 L755.0,1503.1 L757.0,1502.0 L759.0,1501.0 L761.0,1499.9 L763.0,1498.8 L765.0,1497.7 L767.0,1496.6 L769.0,1495.4 L771.0,1494.3 L773.0,1493.2 L775.0,1492.0 L777.0,1490.8 L779.0,1489.7 L781.0,1488.5 L783.0,1487.3 L785.0,1486.1 L787.0,1484.9 L789.0,1483.6 L791.0,1482.4 L793.0,1481.1 L795.0,1479.9 L797.0,1478.6 L799.0,1477.3 L801.0,1476.0 L803.0,1474.7 L805.0,1473.4 L807.0,1472.1 L809.0,1470.7 L811.0,1469.4 L813.0,1468.1 L815.0,1466.7 L817.0,1465.4 L819.0,1464.1 L821.0,1462.8 L823.0,1461.5 L825.0,1460.2 L827.0,1458.9 L829.0,1457.7 L831.0,1456.4 L833.0,1455.3 L835.0,1454.1 L837.0,1453.0 L839.0,1451.9 L841.0,1450.8 L843.0,1449.8 L845.0,1448.8 L847.0,1447.9 L849.0,1447.0 L851.0,1446.1 L853.0,1445.3 L855.0,1444.5 L857.0,1443.8 L859.0,1443.1 L861.0,1442.5 L863.0,1441.9 L865.0,1441.3 L867.0,1440.9 L869.0,1440.4 L871.0,1440.0 L873.0,1439.7 L875.0,1439.4 L877.0,1439.1 L879.0,1438.9 L881.0,1438.8 L883.0,1438.7 L885.0,1438.6 L887.0,1438.6 L889.0,1438.6 L891.0,1438.7 L893.0,1438.8 L895.0,1438.9 L897.0,1439.1 L899.0,1439.3 L901.0,1439.6 L903.0,1439.9 L905.0,1440.2 L907.0,1440.5 L909.0,1440.9 L911.0,1441.3 L913.0,1441.7 L915.0,1442.1 L917.0,1442.5 L919.0,1443.0 L921.0,1443.5 L923.0,1444.0 L925.0,1444.5 L927.0,1445.0 L929.0,1445.5 L931.0,1446.1 L933.0,1446.6 L935.0,1447.2 L937.0,1447.8 L939.0,1448.4 L941.0,1449.0 L943.0,1449.6 L945.0,1450.2 L947.0,1450.9 L949.0,1451.5 L951.0,1452.1 L953.0,1452.8 L955.0,1453.4 L957.0,1454.1 L959.0,1454.8 L961.0,1455.4 L963.0,1456.1 L965.0,1456.9 L967.0,1457.6 L969.0,1458.4 L971.0,1459.1 L973.0,1459.9 L975.0,1460.8 L977.0,1461.6 L979.0,1462.5 L981.0,1463.5 L983.0,1464.4 L985.0,1465.4 L987.0,1466.4 L989.0,1467.5 L991.0,1468.6 L993.0,1469.8 L995.0,1471.0 L997.0,1472.2 L999.0,1473.5 L1001.0,1474.8 L1003.0,1476.2 L1005.0,1477.6 L1007.0,1479.0 L1009.0,1480.5 L1011.0,1482.0 L1013.0,1483.5 L1015.0,1485.0 L1017.0,1486.6 L1019.0,1488.3 L1021.0,1489.9 L1023.0,1491.6 L1025.0,1493.3 L1027.0,1495.0 L1029.0,1496.8 L1031.0,1498.6 L1033.0,1500.4 L1035.0,1502.2 L1037.0,1504.1 L1039.0,1505.9 L1041.0,1507.8 L1043.0,1509.7 L1045.0,1511.6 L1047.0,1513.5 L1049.0,1515.4 L1051.0,1517.3 L1053.0,1519.2 L1055.0,1521.1 L1057.0,1523.0 L1059.0,1524.9 L1061.0,1526.8 L1063.0,1528.6 L1065.0,1530.5 L1067.0,1532.4 L1069.0,1534.2 L1071.0,1536.0 L1073.0,1537.8 L1075.0,1539.6 L1077.0,1541.4 L1079.0,1543.2 L1081.0,1544.9 L1083.0,1546.7 L1085.0,1548.4 L1087.0,1550.1 L1089.0,1551.8 L1091.0,1553.5 L1093.0,1555.2 L1095.0,1556.9 L1097.0,1558.5 L1099.0,1560.2 L1101.0,1561.8 L1103.0,1563.4 L1105.0,1565.0 L1107.0,1566.6 L1109.0,1568.2 L1111.0,1569.8 L1113.0,1571.3 L1115.0,1572.9 L1117.0,1574.4 L1119.0,1575.9 L1121.0,1577.4 L1123.0,1578.9 L1125.0,1580.4 L1127.0,1581.9 L1129.0,1583.3 L1131.0,1584.8 L1133.0,1586.2 L1135.0,1587.6" fill="none" stroke="#161212" stroke-opacity="1.0" stroke-width="2.1" stroke-linejoin="round" stroke-linecap="round" />
<rect x="1484" y="1027.4" width="886.3000000000002" height="657.5999999999999" fill="none" stroke="#6f6b69" stroke-width="3.6" stroke-linejoin="round"/>
<line x1="1567.55" y1="1685.00" x2="1567.55" y2="1697.00" stroke="#6f6b69" stroke-width="3.2" stroke-linecap="butt" />
<line x1="1736.10" y1="1685.00" x2="1736.10" y2="1697.00" stroke="#6f6b69" stroke-width="3.2" stroke-linecap="butt" />
<line x1="1904.65" y1="1685.00" x2="1904.65" y2="1697.00" stroke="#6f6b69" stroke-width="3.2" stroke-linecap="butt" />
<line x1="2073.20" y1="1685.00" x2="2073.20" y2="1697.00" stroke="#6f6b69" stroke-width="3.2" stroke-linecap="butt" />
<line x1="2241.75" y1="1685.00" x2="2241.75" y2="1697.00" stroke="#6f6b69" stroke-width="3.2" stroke-linecap="butt" />
<line x1="1483.27" y1="1685.00" x2="1483.27" y2="1691.50" stroke="#6f6b69" stroke-width="3.2" stroke-linecap="butt" />
<line x1="1651.82" y1="1685.00" x2="1651.82" y2="1691.50" stroke="#6f6b69" stroke-width="3.2" stroke-linecap="butt" />
<line x1="1820.37" y1="1685.00" x2="1820.37" y2="1691.50" stroke="#6f6b69" stroke-width="3.2" stroke-linecap="butt" />
<line x1="1988.92" y1="1685.00" x2="1988.92" y2="1691.50" stroke="#6f6b69" stroke-width="3.2" stroke-linecap="butt" />
<line x1="2157.47" y1="1685.00" x2="2157.47" y2="1691.50" stroke="#6f6b69" stroke-width="3.2" stroke-linecap="butt" />
<line x1="2326.02" y1="1685.00" x2="2326.02" y2="1691.50" stroke="#6f6b69" stroke-width="3.2" stroke-linecap="butt" />
<line x1="1484.00" y1="1585.90" x2="1471.50" y2="1585.90" stroke="#6f6b69" stroke-width="3.2" stroke-linecap="butt" />
<line x1="1484.00" y1="1421.70" x2="1471.50" y2="1421.70" stroke="#6f6b69" stroke-width="3.2" stroke-linecap="butt" />
<line x1="1484.00" y1="1257.50" x2="1471.50" y2="1257.50" stroke="#6f6b69" stroke-width="3.2" stroke-linecap="butt" />
<line x1="1484.00" y1="1093.30" x2="1471.50" y2="1093.30" stroke="#6f6b69" stroke-width="3.2" stroke-linecap="butt" />
<line x1="1484.00" y1="1668.00" x2="1477.50" y2="1668.00" stroke="#6f6b69" stroke-width="3.2" stroke-linecap="butt" />
<line x1="1484.00" y1="1503.80" x2="1477.50" y2="1503.80" stroke="#6f6b69" stroke-width="3.2" stroke-linecap="butt" />
<line x1="1484.00" y1="1339.60" x2="1477.50" y2="1339.60" stroke="#6f6b69" stroke-width="3.2" stroke-linecap="butt" />
<line x1="1484.00" y1="1175.40" x2="1477.50" y2="1175.40" stroke="#6f6b69" stroke-width="3.2" stroke-linecap="butt" />
<text x="1261.75" y="1048.42" font-size="71.34" letter-spacing="6.40" font-family="Liberation Sans, Arial, sans-serif"  fill="#111" >d)</text>
<text x="1371.23" y="1114.42" font-size="58.31" letter-spacing="2.38" font-family="Liberation Sans, Arial, sans-serif"  fill="#111" >25</text>
<text x="1370.93" y="1278.62" font-size="58.31" letter-spacing="2.39" font-family="Liberation Sans, Arial, sans-serif"  fill="#111" >20</text>
<text x="1370.36" y="1442.81" font-size="59.14" letter-spacing="2.35" font-family="Liberation Sans, Arial, sans-serif"  fill="#111" >15</text>
<text x="1370.98" y="1607.02" font-size="58.31" letter-spacing="2.33" font-family="Liberation Sans, Arial, sans-serif"  fill="#111" >10</text>
<text x="1520.21" y="1782.61" font-size="58.73" letter-spacing="1.99" font-family="Liberation Sans, Arial, sans-serif"  fill="#111" >-0.6</text>
<text x="1688.76" y="1782.61" font-size="58.73" letter-spacing="1.80" font-family="Liberation Sans, Arial, sans-serif"  fill="#111" >-0.4</text>
<text x="1857.31" y="1782.61" font-size="58.73" letter-spacing="2.19" font-family="Liberation Sans, Arial, sans-serif"  fill="#111" >-0.2</text>
<text x="2037.90" y="1782.61" font-size="58.73" letter-spacing="0.63" font-family="Liberation Sans, Arial, sans-serif"  fill="#111" >0.0</text>
<text x="2206.45" y="1782.61" font-size="58.73" letter-spacing="1.07" font-family="Liberation Sans, Arial, sans-serif"  fill="#111" >0.2</text>
<text x="1767.87" y="1878.65" font-size="55.37" letter-spacing="1.65" font-family="Liberation Sans, Arial, sans-serif"  fill="#111" >Potential / V</text>
<text transform="translate(1314.97,1573.90) rotate(-90)" font-size="58.03" letter-spacing="0.63" font-family="Liberation Sans, Arial, sans-serif"  fill="#111" >Current / μA</text>
<line x1="1617.50" y1="1069.90" x2="1617.50" y2="1292.70" stroke="#5b5754" stroke-width="3.4" stroke-linecap="butt" />
<line x1="1616.00" y1="1291.20" x2="1915.10" y2="1291.20" stroke="#5b5754" stroke-width="3.4" stroke-linecap="butt" />
<line x1="1617.50" y1="1291.20" x2="1617.50" y2="1296.20" stroke="#5b5754" stroke-width="2.6" stroke-linecap="butt" />
<line x1="1698.97" y1="1291.20" x2="1698.97" y2="1296.20" stroke="#5b5754" stroke-width="2.6" stroke-linecap="butt" />
<line x1="1780.44" y1="1291.20" x2="1780.44" y2="1296.20" stroke="#5b5754" stroke-width="2.6" stroke-linecap="butt" />
<line x1="1861.90" y1="1291.20" x2="1861.90" y2="1296.20" stroke="#5b5754" stroke-width="2.6" stroke-linecap="butt" />
<line x1="1658.23" y1="1291.20" x2="1658.23" y2="1294.70" stroke="#5b5754" stroke-width="2.2" stroke-linecap="butt" />
<line x1="1739.70" y1="1291.20" x2="1739.70" y2="1294.70" stroke="#5b5754" stroke-width="2.2" stroke-linecap="butt" />
<line x1="1821.17" y1="1291.20" x2="1821.17" y2="1294.70" stroke="#5b5754" stroke-width="2.2" stroke-linecap="butt" />
<line x1="1902.64" y1="1291.20" x2="1902.64" y2="1294.70" stroke="#5b5754" stroke-width="2.2" stroke-linecap="butt" />
<line x1="1617.50" y1="1246.09" x2="1612.50" y2="1246.09" stroke="#5b5754" stroke-width="2.6" stroke-linecap="butt" />
<line x1="1617.50" y1="1179.88" x2="1612.50" y2="1179.88" stroke="#5b5754" stroke-width="2.6" stroke-linecap="butt" />
<line x1="1617.50" y1="1113.67" x2="1612.50" y2="1113.67" stroke="#5b5754" stroke-width="2.6" stroke-linecap="butt" />
<line x1="1618.50" y1="1282.90" x2="1909.10" y2="1066.90" stroke="#ff5a5a" stroke-width="3.2" stroke-linecap="round" />
<line x1="1645.30" y1="1260.50" x2="1645.30" y2="1269.50" stroke="#222" stroke-width="1.6" stroke-linecap="butt" />
<rect x="1642.7" y="1262.4" width="5.2" height="5.2" fill="#1a1a1a"/>
<line x1="1672.20" y1="1242.50" x2="1672.20" y2="1251.50" stroke="#222" stroke-width="1.6" stroke-linecap="butt" />
<rect x="1669.6" y="1244.4" width="5.2" height="5.2" fill="#1a1a1a"/>
<line x1="1699.10" y1="1217.70" x2="1699.10" y2="1226.70" stroke="#222" stroke-width="1.6" stroke-linecap="butt" />
<rect x="1696.5" y="1219.6" width="5.2" height="5.2" fill="#1a1a1a"/>
<line x1="1726.00" y1="1203.70" x2="1726.00" y2="1212.70" stroke="#222" stroke-width="1.6" stroke-linecap="butt" />
<rect x="1723.4" y="1205.6" width="5.2" height="5.2" fill="#1a1a1a"/>
<line x1="1752.80" y1="1179.90" x2="1752.80" y2="1188.90" stroke="#222" stroke-width="1.6" stroke-linecap="butt" />
<rect x="1750.2" y="1181.8" width="5.2" height="5.2" fill="#1a1a1a"/>
<line x1="1780.70" y1="1159.90" x2="1780.70" y2="1168.90" stroke="#222" stroke-width="1.6" stroke-linecap="butt" />
<rect x="1778.1" y="1161.8" width="5.2" height="5.2" fill="#1a1a1a"/>
<line x1="1807.60" y1="1145.00" x2="1807.60" y2="1154.00" stroke="#222" stroke-width="1.6" stroke-linecap="butt" />
<rect x="1805.0" y="1146.9" width="5.2" height="5.2" fill="#1a1a1a"/>
<line x1="1835.40" y1="1112.20" x2="1835.40" y2="1121.20" stroke="#222" stroke-width="1.6" stroke-linecap="butt" />
<rect x="1832.8" y="1114.1" width="5.2" height="5.2" fill="#1a1a1a"/>
<line x1="1862.30" y1="1090.30" x2="1862.30" y2="1099.30" stroke="#222" stroke-width="1.6" stroke-linecap="butt" />
<rect x="1859.7" y="1092.2" width="5.2" height="5.2" fill="#1a1a1a"/>
<line x1="1889.20" y1="1079.30" x2="1889.20" y2="1088.30" stroke="#222" stroke-width="1.6" stroke-linecap="butt" />
<rect x="1886.6" y="1081.2" width="5.2" height="5.2" fill="#1a1a1a"/>
<text transform="translate(1570.69,1124.21) scale(1.0005,1)" font-size="28.87" font-family="Liberation Sans, Arial, sans-serif" font-weight="bold" fill="#2a2a2a" >90</text>
<text transform="translate(1570.69,1190.21) scale(1.0005,1)" font-size="28.87" font-family="Liberation Sans, Arial, sans-serif" font-weight="bold" fill="#2a2a2a" >60</text>
<text transform="translate(1570.98,1257.31) scale(0.9910,1)" font-size="28.87" font-family="Liberation Sans, Arial, sans-serif" font-weight="bold" fill="#2a2a2a" >30</text>
<text transform="translate(1613.33,1328.42) scale(1.0547,1)" font-size="27.75" font-family="Liberation Sans, Arial, sans-serif" font-weight="bold" fill="#2a2a2a" >0</text>
<text transform="translate(1686.02,1328.42) scale(1.1108,1)" font-size="27.75" font-family="Liberation Sans, Arial, sans-serif" font-weight="bold" fill="#2a2a2a" >60</text>
<text transform="translate(1762.08,1328.42) scale(1.0317,1)" font-size="27.75" font-family="Liberation Sans, Arial, sans-serif" font-weight="bold" fill="#2a2a2a" >120</text>
<text transform="translate(1840.68,1328.42) scale(1.0317,1)" font-size="27.75" font-family="Liberation Sans, Arial, sans-serif" font-weight="bold" fill="#2a2a2a" >180</text>
<text transform="translate(1704.00,1366.61) scale(1.0011,1)" font-size="27.59" font-family="Liberation Sans, Arial, sans-serif" font-weight="bold" fill="#2a2a2a" >Conc. / ppb</text>
<text transform="translate(1629.80,1095.49) scale(0.9754,1)" font-size="30.85" font-family="Liberation Sans, Arial, sans-serif" font-weight="bold" fill="#2a2a2a" >Y=13.20+0.451X</text>
<text transform="translate(1628.47,1132.50) scale(0.9874,1)" font-size="30.14" font-family="Liberation Sans, Arial, sans-serif" font-weight="bold" fill="#2a2a2a" >R</text>
<text transform="translate(1649.53,1119.70) scale(1.1849,1)" font-size="11.43" font-family="Liberation Sans, Arial, sans-serif" font-weight="bold" fill="#2a2a2a" >2</text>
<text transform="translate(1659.07,1132.31) scale(1.0440,1)" font-size="29.44" font-family="Liberation Sans, Arial, sans-serif" font-weight="bold" fill="#2a2a2a" >=0.999</text>
<text transform="translate(1548.22,1244.70) rotate(-90) scale(0.8554,1)" font-size="31.34" font-family="Liberation Sans, Arial, sans-serif" font-weight="bold" fill="#2a2a2a" >j / μA cm</text>
<text transform="translate(1532.00,1134.13) rotate(-90) scale(1.3827,1)" font-size="11.43" font-family="Liberation Sans, Arial, sans-serif" font-weight="bold" fill="#2a2a2a" >-2</text>
<text x="2057.33" y="1069.38" font-size="43.42" letter-spacing="0.66" font-family="Liberation Sans, Arial, sans-serif"  fill="#111" >200 ppb</text>
<text x="2069.94" y="1192.45" font-size="43.10" letter-spacing="0.96" font-family="Liberation Sans, Arial, sans-serif"  fill="#111" >20 ppb</text>
<line x1="2135.40" y1="1100.70" x2="2135.40" y2="1157.50" stroke="#9c9ab4" stroke-width="3.0" stroke-linecap="butt" />
<polygon points="2135.4,1077.4 2129.6,1101.7 2141.2,1101.7" fill="#2a2850"/>
<text transform="translate(2179.90,1638.84) scale(0.9489,1)" font-size="45.71" font-family="Liberation Sans, Arial, sans-serif"  fill="#333" >Au</text>
<text transform="translate(2235.35,1646.57) scale(0.9030,1)" font-size="23.24" font-family="Liberation Sans, Arial, sans-serif"  fill="#555" >79</text>
<text transform="translate(2259.77,1639.43) scale(0.9418,1)" font-size="47.32" font-family="Liberation Sans, Arial, sans-serif"  fill="#333" >Cu</text>
<text transform="translate(2316.40,1646.30) scale(0.9655,1)" font-size="22.86" font-family="Liberation Sans, Arial, sans-serif"  fill="#555" >21</text>
<path d="M1738.0,1572.7 L1740.0,1573.1 L1742.0,1573.4 L1744.0,1573.5 L1746.0,1573.5 L1748.0,1573.4 L1750.0,1573.1 L1752.0,1572.7 L1754.0,1572.1 L1756.0,1571.5 L1758.0,1570.7 L1760.0,1569.9 L1762.0,1568.9 L1764.0,1567.8 L1766.0,1566.7 L1768.0,1565.4 L1770.0,1564.1 L1772.0,1562.7 L1774.0,1561.2 L1776.0,1559.7 L1778.0,1558.1 L1780.0,1556.4 L1782.0,1554.6 L1784.0,1552.9 L1786.0,1551.0 L1788.0,1549.1 L1790.0,1547.2 L1792.0,1545.3 L1794.0,1543.3 L1796.0,1541.3 L1798.0,1539.3 L1800.0,1537.2 L1802.0,1535.2 L1804.0,1533.1 L1806.0,1531.1 L1808.0,1529.0 L1810.0,1527.0 L1812.0,1525.0 L1814.0,1523.0 L1816.0,1521.0 L1818.0,1519.0 L1820.0,1517.0 L1822.0,1515.0 L1824.0,1513.1 L1826.0,1511.2 L1828.0,1509.3 L1830.0,1507.4 L1832.0,1505.5 L1834.0,1503.6 L1836.0,1501.7 L1838.0,1499.9 L1840.0,1498.1 L1842.0,1496.2 L1844.0,1494.4 L1846.0,1492.6 L1848.0,1490.8 L1850.0,1489.1 L1852.0,1487.3 L1854.0,1485.6 L1856.0,1483.8 L1858.0,1482.1 L1860.0,1480.3 L1862.0,1478.6 L1864.0,1476.9 L1866.0,1475.1 L1868.0,1473.4 L1870.0,1471.7 L1872.0,1469.9 L1874.0,1468.2 L1876.0,1466.4 L1878.0,1464.6 L1880.0,1462.8 L1882.0,1461.0 L1884.0,1459.2 L1886.0,1457.4 L1888.0,1455.5 L1890.0,1453.7 L1892.0,1451.8 L1894.0,1449.9 L1896.0,1448.0 L1898.0,1446.1 L1900.0,1444.1 L1902.0,1442.2 L1904.0,1440.2 L1906.0,1438.2 L1908.0,1436.2 L1910.0,1434.2 L1912.0,1432.2 L1914.0,1430.2 L1916.0,1428.2 L1918.0,1426.2 L1920.0,1424.1 L1922.0,1422.1 L1924.0,1420.0 L1926.0,1418.0 L1928.0,1416.0 L1930.0,1413.9 L1932.0,1411.9 L1934.0,1409.9 L1936.0,1408.0 L1938.0,1406.1 L1940.0,1404.2 L1942.0,1402.4 L1944.0,1400.7 L1946.0,1399.0 L1948.0,1397.4 L1950.0,1395.9 L1952.0,1394.4 L1954.0,1393.0 L1956.0,1391.8 L1958.0,1390.6 L1960.0,1389.5 L1962.0,1388.4 L1964.0,1387.2 L1966.0,1385.9 L1968.0,1384.4 L1970.0,1382.6 L1972.0,1380.4 L1974.0,1377.9 L1976.0,1374.8 L1978.0,1371.2 L1980.0,1367.1 L1982.0,1362.4 L1984.0,1357.2 L1986.0,1351.4 L1988.0,1345.3 L1990.0,1339.1 L1992.0,1333.1 L1994.0,1327.4 L1996.0,1322.1 L1998.0,1317.3 L2000.0,1312.9 L2002.0,1308.8 L2004.0,1305.1 L2006.0,1301.6 L2008.0,1298.5 L2010.0,1295.5 L2012.0,1292.8 L2014.0,1290.2 L2016.0,1287.7 L2018.0,1285.4 L2020.0,1283.2 L2022.0,1281.1 L2024.0,1279.0 L2026.0,1277.0 L2028.0,1275.0 L2030.0,1273.1 L2032.0,1271.1 L2034.0,1269.2 L2036.0,1267.2 L2038.0,1265.2 L2040.0,1263.3 L2042.0,1261.3 L2044.0,1259.4 L2046.0,1257.5 L2048.0,1255.6 L2050.0,1253.6 L2052.0,1251.8 L2054.0,1249.9 L2056.0,1248.0 L2058.0,1246.2 L2060.0,1244.4 L2062.0,1242.6 L2064.0,1240.8 L2066.0,1239.0 L2068.0,1237.3 L2070.0,1235.6 L2072.0,1233.9 L2074.0,1232.3 L2076.0,1230.7 L2078.0,1229.1 L2080.0,1227.5 L2082.0,1226.0 L2084.0,1224.6 L2086.0,1223.1 L2088.0,1221.7 L2090.0,1220.4 L2092.0,1219.1 L2094.0,1217.8 L2096.0,1216.6 L2098.0,1215.4 L2100.0,1214.3 L2102.0,1213.2 L2104.0,1212.2 L2106.0,1211.2 L2108.0,1210.3 L2110.0,1209.5 L2112.0,1208.7 L2114.0,1208.1 L2116.0,1207.5 L2118.0,1207.0 L2120.0,1206.7 L2122.0,1206.5 L2124.0,1206.4 L2126.0,1206.4 L2128.0,1206.5 L2130.0,1206.7 L2132.0,1206.9 L2134.0,1207.2 L2136.0,1207.6 L2138.0,1208.0 L2140.0,1208.5 L2142.0,1209.0 L2144.0,1209.5 L2146.0,1210.0 L2148.0,1210.6 L2150.0,1211.2 L2152.0,1211.8 L2154.0,1212.5 L2156.0,1213.2 L2158.0,1214.0 L2160.0,1214.8 L2162.0,1215.7 L2164.0,1216.6 L2166.0,1217.6 L2168.0,1218.7 L2170.0,1219.8 L2172.0,1221.0 L2174.0,1222.3 L2176.0,1223.6 L2178.0,1225.0 L2180.0,1226.5 L2182.0,1228.0 L2184.0,1229.6 L2186.0,1231.3 L2188.0,1233.0 L2190.0,1234.7 L2192.0,1236.6 L2194.0,1238.4 L2196.0,1240.3 L2198.0,1242.3 L2200.0,1244.3 L2202.0,1246.3 L2204.0,1248.4 L2206.0,1250.4 L2208.0,1252.6 L2210.0,1254.7 L2212.0,1256.8 L2214.0,1259.0 L2216.0,1261.2 L2218.0,1263.4 L2220.0,1265.5 L2222.0,1267.6 L2224.0,1269.7 L2226.0,1271.7 L2228.0,1273.7 L2230.0,1275.6 L2232.0,1277.3 L2234.0,1279.1 L2236.0,1280.7 L2238.0,1282.4 L2240.0,1284.0 L2242.0,1285.7 L2244.0,1287.4 L2246.0,1289.2 L2248.0,1291.0 L2250.0,1293.0 L2252.0,1295.0 L2254.0,1297.2 L2256.0,1299.5 L2258.0,1301.9 L2260.0,1304.4 L2262.0,1307.0 L2264.0,1309.8 L2266.0,1312.7 L2268.0,1315.7 L2270.0,1318.8 L2272.0,1322.1 L2274.0,1325.5 L2276.0,1329.0 L2278.0,1332.7 L2280.0,1336.5 L2282.0,1340.4 L2284.0,1344.5 L2286.0,1348.7 L2288.0,1353.0 L2290.0,1357.4 L2292.0,1361.8 L2294.0,1366.2 L2296.0,1370.5 L2298.0,1374.6 L2300.0,1378.6 L2302.0,1382.4 L2304.0,1386.0 L2306.0,1389.4 L2308.0,1392.7 L2310.0,1396.0 L2312.0,1399.3 L2314.0,1402.9 L2316.0,1406.7 L2318.0,1410.8 L2320.0,1415.3" fill="none" stroke="#b9b6b4" stroke-width="3.2" stroke-dasharray="0.1 13" stroke-linecap="round"/>
<path d="M1743.5,1587.7 L1743.0,1597.7 L1745.0,1597.2 L1747.0,1596.6 L1749.0,1596.0 L1751.0,1595.4 L1753.0,1594.8 L1755.0,1594.1 L1757.0,1593.4 L1759.0,1592.6 L1761.0,1591.8 L1763.0,1591.0 L1765.0,1590.2 L1767.0,1589.4 L1769.0,1588.5 L1771.0,1587.6 L1773.0,1586.7 L1775.0,1585.7 L1777.0,1584.8 L1779.0,1583.8 L1781.0,1582.8 L1783.0,1581.8 L1785.0,1580.8 L1787.0,1579.8 L1789.0,1578.7 L1791.0,1577.6 L1793.0,1576.6 L1795.0,1575.5 L1797.0,1574.4 L1799.0,1573.3 L1801.0,1572.2 L1803.0,1571.1 L1805.0,1570.0 L1807.0,1568.8 L1809.0,1567.7 L1811.0,1566.6 L1813.0,1565.5 L1815.0,1564.3 L1817.0,1563.2 L1819.0,1562.1 L1821.0,1561.0 L1823.0,1559.8 L1825.0,1558.7 L1827.0,1557.6 L1829.0,1556.5 L1831.0,1555.3 L1833.0,1554.2 L1835.0,1553.0 L1837.0,1551.8 L1839.0,1550.6 L1841.0,1549.4 L1843.0,1548.2 L1845.0,1547.0 L1847.0,1545.7 L1849.0,1544.4 L1851.0,1543.1 L1853.0,1541.8 L1855.0,1540.4 L1857.0,1539.1 L1859.0,1537.6 L1861.0,1536.2 L1863.0,1534.7 L1865.0,1533.2 L1867.0,1531.7 L1869.0,1530.1 L1871.0,1528.5 L1873.0,1526.8 L1875.0,1525.1 L1877.0,1523.4 L1879.0,1521.6 L1881.0,1519.8 L1883.0,1517.9 L1885.0,1516.0 L1887.0,1514.0 L1889.0,1512.0 L1891.0,1509.9 L1893.0,1507.7 L1895.0,1505.6 L1897.0,1503.3 L1899.0,1501.0 L1901.0,1498.7 L1903.0,1496.2 L1905.0,1493.8 L1907.0,1491.3 L1909.0,1488.7 L1911.0,1486.1 L1913.0,1483.4 L1915.0,1480.6 L1917.0,1477.8 L1919.0,1475.0 L1921.0,1472.0 L1923.0,1469.1 L1925.0,1466.0 L1927.0,1462.9 L1929.0,1459.8 L1931.0,1456.5 L1933.0,1453.2 L1935.0,1449.8 L1937.0,1446.3 L1939.0,1442.6 L1941.0,1438.9 L1943.0,1435.0 L1945.0,1430.9 L1947.0,1426.7 L1949.0,1422.4 L1951.0,1417.8 L1953.0,1413.1 L1955.0,1408.1 L1957.0,1403.0 L1959.0,1397.6 L1961.0,1392.0 L1963.0,1386.1 L1965.0,1379.9 L1967.0,1373.3 L1969.0,1365.9 L1971.0,1357.8 L1973.0,1348.7 L1975.0,1338.6 L1977.0,1327.7 L1979.0,1316.1 L1981.0,1304.0 L1983.0,1291.4 L1985.0,1278.6 L1987.0,1265.7 L1989.0,1252.7 L1991.0,1239.8 L1993.0,1227.2 L1995.0,1214.9 L1997.0,1203.1 L1999.0,1191.9 L2001.0,1181.4 L2003.0,1171.7 L2005.0,1162.9 L2007.0,1154.9 L2009.0,1147.9 L2011.0,1141.9 L2013.0,1136.9 L2015.0,1133.0 L2017.0,1130.3 L2019.0,1128.7 L2021.0,1128.3 L2023.0,1128.8 L2025.0,1130.1 L2027.0,1132.1 L2029.0,1134.9 L2031.0,1138.9 L2033.0,1144.1 L2035.0,1150.1 L2037.0,1156.2 L2039.0,1162.4 L2041.0,1168.6 L2043.0,1174.7 L2045.0,1180.6 L2047.0,1186.3 L2049.0,1191.8 L2051.0,1196.9 L2053.0,1201.6 L2055.0,1205.9 L2057.0,1209.7 L2059.0,1213.1 L2061.0,1216.0 L2063.0,1218.5 L2065.0,1220.6 L2067.0,1222.2 L2069.0,1223.5 L2071.0,1224.4 L2073.0,1225.0 L2075.0,1225.2 L2077.0,1225.2 L2079.0,1224.9 L2081.0,1224.4 L2083.0,1223.7 L2085.0,1223.0 L2087.0,1222.2 L2089.0,1221.4 L2091.0,1220.6 L2093.0,1219.9 L2095.0,1219.2 L2097.0,1218.5 L2099.0,1218.0 L2101.0,1217.4 L2103.0,1217.0 L2105.0,1216.5 L2107.0,1216.2 L2109.0,1215.8 L2111.0,1215.6 L2113.0,1215.4 L2115.0,1215.2 L2117.0,1215.1 L2119.0,1215.0 L2121.0,1215.0 L2123.0,1215.0 L2125.0,1215.1 L2127.0,1215.2 L2129.0,1215.4 L2131.0,1215.7 L2133.0,1215.9 L2135.0,1216.3 L2137.0,1216.7 L2139.0,1217.1 L2141.0,1217.6 L2143.0,1218.1 L2145.0,1218.7 L2147.0,1219.3 L2149.0,1219.9 L2151.0,1220.7 L2153.0,1221.4 L2155.0,1222.2 L2157.0,1223.1 L2159.0,1224.0 L2161.0,1224.9 L2163.0,1225.9 L2165.0,1227.0 L2167.0,1228.0 L2169.0,1229.2 L2171.0,1230.4 L2173.0,1231.6 L2175.0,1232.8 L2177.0,1234.2 L2179.0,1235.5 L2181.0,1236.9 L2183.0,1238.3 L2185.0,1239.8 L2187.0,1241.4 L2189.0,1243.0 L2191.0,1244.6 L2193.0,1246.3 L2195.0,1248.0 L2197.0,1249.8 L2199.0,1251.7 L2201.0,1253.6 L2203.0,1255.6 L2205.0,1257.6 L2207.0,1259.7 L2209.0,1261.9 L2211.0,1264.1 L2213.0,1266.4 L2215.0,1268.8 L2217.0,1271.2 L2219.0,1273.7 L2221.0,1276.3 L2223.0,1279.0 L2225.0,1281.7 L2227.0,1284.5 L2229.0,1287.4 L2231.0,1290.3 L2233.0,1293.3 L2235.0,1296.4 L2237.0,1299.5 L2239.0,1302.7 L2241.0,1305.9 L2243.0,1309.2 L2245.0,1312.5 L2247.0,1315.9 L2249.0,1319.4 L2251.0,1322.9 L2253.0,1326.4 L2255.0,1330.0 L2257.0,1333.7 L2259.0,1337.3 L2261.0,1341.1 L2263.0,1344.8 L2265.0,1348.6 L2267.0,1352.4 L2269.0,1356.3 L2271.0,1360.1 L2273.0,1364.0 L2275.0,1367.9 L2277.0,1371.8 L2279.0,1375.8 L2281.0,1379.7 L2283.0,1383.7 L2285.0,1387.6 L2287.0,1391.6 L2289.0,1395.5 L2291.0,1399.5 L2293.0,1403.4 L2295.0,1407.4 L2297.0,1411.3 L2299.0,1415.2 L2301.0,1419.1 L2303.0,1423.0 L2305.0,1426.8 L2307.0,1430.6 L2309.0,1434.4 L2311.0,1438.2 L2313.0,1441.9 L2315.0,1445.6 L2317.0,1449.2 L2319.0,1452.8 L2321.0,1456.4 L2323.0,1459.9 L2325.0,1463.3" fill="none" stroke="#161212" stroke-opacity="1.0" stroke-width="2.1" stroke-linejoin="round" stroke-linecap="round" />
<path d="M1743.5,1589.3 L1743.0,1599.3 L1745.0,1598.8 L1747.0,1598.2 L1749.0,1597.6 L1751.0,1597.0 L1753.0,1596.3 L1755.0,1595.7 L1757.0,1594.9 L1759.0,1594.2 L1761.0,1593.4 L1763.0,1592.6 L1765.0,1591.8 L1767.0,1590.9 L1769.0,1590.0 L1771.0,1589.1 L1773.0,1588.2 L1775.0,1587.3 L1777.0,1586.3 L1779.0,1585.3 L1781.0,1584.3 L1783.0,1583.3 L1785.0,1582.2 L1787.0,1581.2 L1789.0,1580.1 L1791.0,1579.1 L1793.0,1578.0 L1795.0,1576.9 L1797.0,1575.8 L1799.0,1574.6 L1801.0,1573.5 L1803.0,1572.4 L1805.0,1571.3 L1807.0,1570.1 L1809.0,1569.0 L1811.0,1567.8 L1813.0,1566.7 L1815.0,1565.6 L1817.0,1564.4 L1819.0,1563.3 L1821.0,1562.2 L1823.0,1561.0 L1825.0,1559.9 L1827.0,1558.7 L1829.0,1557.6 L1831.0,1556.4 L1833.0,1555.3 L1835.0,1554.1 L1837.0,1552.9 L1839.0,1551.7 L1841.0,1550.5 L1843.0,1549.3 L1845.0,1548.0 L1847.0,1546.7 L1849.0,1545.5 L1851.0,1544.1 L1853.0,1542.8 L1855.0,1541.5 L1857.0,1540.1 L1859.0,1538.7 L1861.0,1537.2 L1863.0,1535.7 L1865.0,1534.2 L1867.0,1532.7 L1869.0,1531.1 L1871.0,1529.5 L1873.0,1527.8 L1875.0,1526.1 L1877.0,1524.4 L1879.0,1522.6 L1881.0,1520.8 L1883.0,1518.9 L1885.0,1517.0 L1887.0,1515.1 L1889.0,1513.0 L1891.0,1511.0 L1893.0,1508.9 L1895.0,1506.7 L1897.0,1504.5 L1899.0,1502.2 L1901.0,1499.8 L1903.0,1497.4 L1905.0,1495.0 L1907.0,1492.5 L1909.0,1489.9 L1911.0,1487.3 L1913.0,1484.6 L1915.0,1481.9 L1917.0,1479.1 L1919.0,1476.2 L1921.0,1473.3 L1923.0,1470.3 L1925.0,1467.3 L1927.0,1464.2 L1929.0,1461.0 L1931.0,1457.8 L1933.0,1454.4 L1935.0,1451.0 L1937.0,1447.4 L1939.0,1443.7 L1941.0,1439.9 L1943.0,1435.9 L1945.0,1431.8 L1947.0,1427.5 L1949.0,1423.0 L1951.0,1418.3 L1953.0,1413.5 L1955.0,1408.4 L1957.0,1403.1 L1959.0,1397.6 L1961.0,1391.9 L1963.0,1385.9 L1965.0,1379.6 L1967.0,1372.9 L1969.0,1365.5 L1971.0,1357.5 L1973.0,1348.6 L1975.0,1338.8 L1977.0,1328.3 L1979.0,1317.2 L1981.0,1305.7 L1983.0,1293.8 L1985.0,1281.7 L1987.0,1269.5 L1989.0,1257.4 L1991.0,1245.3 L1993.0,1233.5 L1995.0,1222.1 L1997.0,1211.1 L1999.0,1200.7 L2001.0,1191.0 L2003.0,1182.0 L2005.0,1173.8 L2007.0,1166.4 L2009.0,1159.9 L2011.0,1154.3 L2013.0,1149.6 L2015.0,1146.0 L2017.0,1143.4 L2019.0,1141.8 L2021.0,1141.3 L2023.0,1141.6 L2025.0,1142.7 L2027.0,1144.4 L2029.0,1146.8 L2031.0,1150.2 L2033.0,1154.8 L2035.0,1160.0 L2037.0,1165.4 L2039.0,1170.9 L2041.0,1176.3 L2043.0,1181.7 L2045.0,1186.9 L2047.0,1191.9 L2049.0,1196.7 L2051.0,1201.2 L2053.0,1205.4 L2055.0,1209.1 L2057.0,1212.5 L2059.0,1215.4 L2061.0,1218.0 L2063.0,1220.1 L2065.0,1221.9 L2067.0,1223.3 L2069.0,1224.4 L2071.0,1225.2 L2073.0,1225.6 L2075.0,1225.7 L2077.0,1225.6 L2079.0,1225.3 L2081.0,1224.8 L2083.0,1224.2 L2085.0,1223.5 L2087.0,1222.7 L2089.0,1221.9 L2091.0,1221.1 L2093.0,1220.4 L2095.0,1219.7 L2097.0,1219.1 L2099.0,1218.5 L2101.0,1218.0 L2103.0,1217.5 L2105.0,1217.1 L2107.0,1216.8 L2109.0,1216.5 L2111.0,1216.2 L2113.0,1216.0 L2115.0,1215.9 L2117.0,1215.8 L2119.0,1215.7 L2121.0,1215.7 L2123.0,1215.8 L2125.0,1215.9 L2127.0,1216.0 L2129.0,1216.2 L2131.0,1216.5 L2133.0,1216.8 L2135.0,1217.2 L2137.0,1217.6 L2139.0,1218.0 L2141.0,1218.5 L2143.0,1219.1 L2145.0,1219.6 L2147.0,1220.3 L2149.0,1221.0 L2151.0,1221.7 L2153.0,1222.5 L2155.0,1223.3 L2157.0,1224.2 L2159.0,1225.1 L2161.0,1226.1 L2163.0,1227.1 L2165.0,1228.2 L2167.0,1229.3 L2169.0,1230.4 L2171.0,1231.6 L2173.0,1232.8 L2175.0,1234.1 L2177.0,1235.5 L2179.0,1236.8 L2181.0,1238.2 L2183.0,1239.7 L2185.0,1241.2 L2187.0,1242.7 L2189.0,1244.3 L2191.0,1246.0 L2193.0,1247.7 L2195.0,1249.4 L2197.0,1251.2 L2199.0,1253.1 L2201.0,1255.0 L2203.0,1257.0 L2205.0,1259.0 L2207.0,1261.1 L2209.0,1263.3 L2211.0,1265.6 L2213.0,1267.9 L2215.0,1270.2 L2217.0,1272.7 L2219.0,1275.2 L2221.0,1277.8 L2223.0,1280.5 L2225.0,1283.2 L2227.0,1286.0 L2229.0,1288.9 L2231.0,1291.8 L2233.0,1294.9 L2235.0,1297.9 L2237.0,1301.1 L2239.0,1304.2 L2241.0,1307.5 L2243.0,1310.8 L2245.0,1314.2 L2247.0,1317.6 L2249.0,1321.0 L2251.0,1324.5 L2253.0,1328.1 L2255.0,1331.7 L2257.0,1335.4 L2259.0,1339.0 L2261.0,1342.8 L2263.0,1346.5 L2265.0,1350.3 L2267.0,1354.2 L2269.0,1358.0 L2271.0,1361.9 L2273.0,1365.8 L2275.0,1369.7 L2277.0,1373.7 L2279.0,1377.6 L2281.0,1381.6 L2283.0,1385.5 L2285.0,1389.5 L2287.0,1393.5 L2289.0,1397.5 L2291.0,1401.4 L2293.0,1405.4 L2295.0,1409.4 L2297.0,1413.3 L2299.0,1417.2 L2301.0,1421.1 L2303.0,1425.0 L2305.0,1428.9 L2307.0,1432.8 L2309.0,1436.6 L2311.0,1440.4 L2313.0,1444.1 L2315.0,1447.8 L2317.0,1451.5 L2319.0,1455.1 L2321.0,1458.7 L2323.0,1462.3 L2325.0,1465.8" fill="none" stroke="#161212" stroke-opacity="1.0" stroke-width="2.1" stroke-linejoin="round" stroke-linecap="round" />
<path d="M1743.5,1590.8 L1743.0,1600.8 L1745.0,1600.3 L1747.0,1599.8 L1749.0,1599.2 L1751.0,1598.6 L1753.0,1597.9 L1755.0,1597.2 L1757.0,1596.5 L1759.0,1595.8 L1761.0,1595.0 L1763.0,1594.2 L1765.0,1593.3 L1767.0,1592.5 L1769.0,1591.6 L1771.0,1590.7 L1773.0,1589.7 L1775.0,1588.8 L1777.0,1587.8 L1779.0,1586.8 L1781.0,1585.8 L1783.0,1584.7 L1785.0,1583.7 L1787.0,1582.6 L1789.0,1581.6 L1791.0,1580.5 L1793.0,1579.4 L1795.0,1578.2 L1797.0,1577.1 L1799.0,1576.0 L1801.0,1574.9 L1803.0,1573.7 L1805.0,1572.6 L1807.0,1571.4 L1809.0,1570.3 L1811.0,1569.1 L1813.0,1568.0 L1815.0,1566.8 L1817.0,1565.6 L1819.0,1564.5 L1821.0,1563.4 L1823.0,1562.2 L1825.0,1561.0 L1827.0,1559.9 L1829.0,1558.7 L1831.0,1557.6 L1833.0,1556.4 L1835.0,1555.2 L1837.0,1554.0 L1839.0,1552.8 L1841.0,1551.6 L1843.0,1550.3 L1845.0,1549.1 L1847.0,1547.8 L1849.0,1546.5 L1851.0,1545.2 L1853.0,1543.8 L1855.0,1542.5 L1857.0,1541.1 L1859.0,1539.7 L1861.0,1538.2 L1863.0,1536.7 L1865.0,1535.2 L1867.0,1533.7 L1869.0,1532.1 L1871.0,1530.5 L1873.0,1528.9 L1875.0,1527.2 L1877.0,1525.4 L1879.0,1523.7 L1881.0,1521.8 L1883.0,1520.0 L1885.0,1518.1 L1887.0,1516.1 L1889.0,1514.1 L1891.0,1512.1 L1893.0,1510.0 L1895.0,1507.8 L1897.0,1505.6 L1899.0,1503.3 L1901.0,1501.0 L1903.0,1498.6 L1905.0,1496.2 L1907.0,1493.7 L1909.0,1491.2 L1911.0,1488.6 L1913.0,1485.9 L1915.0,1483.2 L1917.0,1480.4 L1919.0,1477.5 L1921.0,1474.6 L1923.0,1471.6 L1925.0,1468.6 L1927.0,1465.5 L1929.0,1462.3 L1931.0,1459.0 L1933.0,1455.6 L1935.0,1452.2 L1937.0,1448.6 L1939.0,1444.8 L1941.0,1440.9 L1943.0,1436.9 L1945.0,1432.6 L1947.0,1428.2 L1949.0,1423.6 L1951.0,1418.8 L1953.0,1413.8 L1955.0,1408.6 L1957.0,1403.2 L1959.0,1397.6 L1961.0,1391.7 L1963.0,1385.6 L1965.0,1379.2 L1967.0,1372.4 L1969.0,1365.1 L1971.0,1357.2 L1973.0,1348.5 L1975.0,1339.0 L1977.0,1328.9 L1979.0,1318.3 L1981.0,1307.4 L1983.0,1296.2 L1985.0,1284.8 L1987.0,1273.4 L1989.0,1262.1 L1991.0,1250.9 L1993.0,1239.9 L1995.0,1229.3 L1997.0,1219.1 L1999.0,1209.5 L2001.0,1200.5 L2003.0,1192.2 L2005.0,1184.7 L2007.0,1177.9 L2009.0,1171.8 L2011.0,1166.6 L2013.0,1162.3 L2015.0,1158.9 L2017.0,1156.4 L2019.0,1154.9 L2021.0,1154.3 L2023.0,1154.4 L2025.0,1155.2 L2027.0,1156.6 L2029.0,1158.6 L2031.0,1161.5 L2033.0,1165.4 L2035.0,1170.0 L2037.0,1174.6 L2039.0,1179.3 L2041.0,1184.0 L2043.0,1188.7 L2045.0,1193.2 L2047.0,1197.5 L2049.0,1201.7 L2051.0,1205.5 L2053.0,1209.1 L2055.0,1212.4 L2057.0,1215.2 L2059.0,1217.7 L2061.0,1219.9 L2063.0,1221.7 L2065.0,1223.2 L2067.0,1224.4 L2069.0,1225.3 L2071.0,1225.9 L2073.0,1226.2 L2075.0,1226.3 L2077.0,1226.1 L2079.0,1225.8 L2081.0,1225.3 L2083.0,1224.6 L2085.0,1223.9 L2087.0,1223.2 L2089.0,1222.4 L2091.0,1221.6 L2093.0,1220.9 L2095.0,1220.3 L2097.0,1219.6 L2099.0,1219.1 L2101.0,1218.6 L2103.0,1218.1 L2105.0,1217.7 L2107.0,1217.4 L2109.0,1217.1 L2111.0,1216.9 L2113.0,1216.7 L2115.0,1216.6 L2117.0,1216.5 L2119.0,1216.4 L2121.0,1216.5 L2123.0,1216.5 L2125.0,1216.7 L2127.0,1216.8 L2129.0,1217.1 L2131.0,1217.3 L2133.0,1217.7 L2135.0,1218.0 L2137.0,1218.5 L2139.0,1218.9 L2141.0,1219.5 L2143.0,1220.0 L2145.0,1220.6 L2147.0,1221.3 L2149.0,1222.0 L2151.0,1222.8 L2153.0,1223.6 L2155.0,1224.4 L2157.0,1225.3 L2159.0,1226.3 L2161.0,1227.3 L2163.0,1228.3 L2165.0,1229.4 L2167.0,1230.5 L2169.0,1231.7 L2171.0,1232.9 L2173.0,1234.1 L2175.0,1235.4 L2177.0,1236.8 L2179.0,1238.1 L2181.0,1239.6 L2183.0,1241.0 L2185.0,1242.5 L2187.0,1244.1 L2189.0,1245.7 L2191.0,1247.4 L2193.0,1249.1 L2195.0,1250.8 L2197.0,1252.6 L2199.0,1254.5 L2201.0,1256.4 L2203.0,1258.4 L2205.0,1260.5 L2207.0,1262.6 L2209.0,1264.8 L2211.0,1267.0 L2213.0,1269.3 L2215.0,1271.7 L2217.0,1274.2 L2219.0,1276.7 L2221.0,1279.3 L2223.0,1282.0 L2225.0,1284.7 L2227.0,1287.5 L2229.0,1290.4 L2231.0,1293.4 L2233.0,1296.4 L2235.0,1299.5 L2237.0,1302.6 L2239.0,1305.8 L2241.0,1309.1 L2243.0,1312.4 L2245.0,1315.8 L2247.0,1319.2 L2249.0,1322.7 L2251.0,1326.2 L2253.0,1329.8 L2255.0,1333.4 L2257.0,1337.0 L2259.0,1340.7 L2261.0,1344.5 L2263.0,1348.3 L2265.0,1352.1 L2267.0,1355.9 L2269.0,1359.8 L2271.0,1363.7 L2273.0,1367.6 L2275.0,1371.5 L2277.0,1375.5 L2279.0,1379.4 L2281.0,1383.4 L2283.0,1387.4 L2285.0,1391.4 L2287.0,1395.4 L2289.0,1399.4 L2291.0,1403.4 L2293.0,1407.4 L2295.0,1411.3 L2297.0,1415.3 L2299.0,1419.3 L2301.0,1423.2 L2303.0,1427.1 L2305.0,1431.0 L2307.0,1434.9 L2309.0,1438.7 L2311.0,1442.5 L2313.0,1446.3 L2315.0,1450.1 L2317.0,1453.8 L2319.0,1457.5 L2321.0,1461.1 L2323.0,1464.7 L2325.0,1468.2" fill="none" stroke="#161212" stroke-opacity="1.0" stroke-width="2.1" stroke-linejoin="round" stroke-linecap="round" />
<path d="M1743.5,1592.4 L1743.0,1602.4 L1745.0,1601.9 L1747.0,1601.4 L1749.0,1600.8 L1751.0,1600.1 L1753.0,1599.5 L1755.0,1598.8 L1757.0,1598.1 L1759.0,1597.3 L1761.0,1596.5 L1763.0,1595.7 L1765.0,1594.9 L1767.0,1594.0 L1769.0,1593.1 L1771.0,1592.2 L1773.0,1591.2 L1775.0,1590.3 L1777.0,1589.3 L1779.0,1588.3 L1781.0,1587.3 L1783.0,1586.2 L1785.0,1585.1 L1787.0,1584.1 L1789.0,1583.0 L1791.0,1581.9 L1793.0,1580.8 L1795.0,1579.6 L1797.0,1578.5 L1799.0,1577.4 L1801.0,1576.2 L1803.0,1575.0 L1805.0,1573.9 L1807.0,1572.7 L1809.0,1571.5 L1811.0,1570.4 L1813.0,1569.2 L1815.0,1568.0 L1817.0,1566.9 L1819.0,1565.7 L1821.0,1564.5 L1823.0,1563.4 L1825.0,1562.2 L1827.0,1561.0 L1829.0,1559.9 L1831.0,1558.7 L1833.0,1557.5 L1835.0,1556.3 L1837.0,1555.1 L1839.0,1553.9 L1841.0,1552.6 L1843.0,1551.4 L1845.0,1550.1 L1847.0,1548.8 L1849.0,1547.5 L1851.0,1546.2 L1853.0,1544.9 L1855.0,1543.5 L1857.0,1542.1 L1859.0,1540.7 L1861.0,1539.2 L1863.0,1537.7 L1865.0,1536.2 L1867.0,1534.7 L1869.0,1533.1 L1871.0,1531.5 L1873.0,1529.9 L1875.0,1528.2 L1877.0,1526.5 L1879.0,1524.7 L1881.0,1522.9 L1883.0,1521.0 L1885.0,1519.1 L1887.0,1517.2 L1889.0,1515.2 L1891.0,1513.2 L1893.0,1511.1 L1895.0,1508.9 L1897.0,1506.8 L1899.0,1504.5 L1901.0,1502.2 L1903.0,1499.8 L1905.0,1497.4 L1907.0,1495.0 L1909.0,1492.4 L1911.0,1489.8 L1913.0,1487.2 L1915.0,1484.5 L1917.0,1481.7 L1919.0,1478.8 L1921.0,1475.9 L1923.0,1472.9 L1925.0,1469.9 L1927.0,1466.7 L1929.0,1463.5 L1931.0,1460.3 L1933.0,1456.9 L1935.0,1453.3 L1937.0,1449.7 L1939.0,1445.9 L1941.0,1441.9 L1943.0,1437.8 L1945.0,1433.5 L1947.0,1429.0 L1949.0,1424.3 L1951.0,1419.4 L1953.0,1414.2 L1955.0,1408.9 L1957.0,1403.4 L1959.0,1397.6 L1961.0,1391.6 L1963.0,1385.4 L1965.0,1378.9 L1967.0,1372.0 L1969.0,1364.7 L1971.0,1356.8 L1973.0,1348.3 L1975.0,1339.2 L1977.0,1329.5 L1979.0,1319.4 L1981.0,1309.1 L1983.0,1298.5 L1985.0,1287.9 L1987.0,1277.3 L1989.0,1266.7 L1991.0,1256.4 L1993.0,1246.3 L1995.0,1236.5 L1997.0,1227.2 L1999.0,1218.3 L2001.0,1210.1 L2003.0,1202.5 L2005.0,1195.6 L2007.0,1189.3 L2009.0,1183.8 L2011.0,1179.0 L2013.0,1175.0 L2015.0,1171.8 L2017.0,1169.5 L2019.0,1168.0 L2021.0,1167.3 L2023.0,1167.2 L2025.0,1167.8 L2027.0,1168.8 L2029.0,1170.5 L2031.0,1172.9 L2033.0,1176.1 L2035.0,1179.9 L2037.0,1183.9 L2039.0,1187.8 L2041.0,1191.8 L2043.0,1195.6 L2045.0,1199.4 L2047.0,1203.1 L2049.0,1206.6 L2051.0,1209.9 L2053.0,1212.9 L2055.0,1215.6 L2057.0,1218.0 L2059.0,1220.1 L2061.0,1221.9 L2063.0,1223.4 L2065.0,1224.6 L2067.0,1225.5 L2069.0,1226.2 L2071.0,1226.7 L2073.0,1226.9 L2075.0,1226.8 L2077.0,1226.6 L2079.0,1226.2 L2081.0,1225.7 L2083.0,1225.1 L2085.0,1224.4 L2087.0,1223.6 L2089.0,1222.9 L2091.0,1222.1 L2093.0,1221.4 L2095.0,1220.8 L2097.0,1220.2 L2099.0,1219.6 L2101.0,1219.1 L2103.0,1218.7 L2105.0,1218.3 L2107.0,1218.0 L2109.0,1217.7 L2111.0,1217.5 L2113.0,1217.3 L2115.0,1217.2 L2117.0,1217.2 L2119.0,1217.2 L2121.0,1217.2 L2123.0,1217.3 L2125.0,1217.4 L2127.0,1217.6 L2129.0,1217.9 L2131.0,1218.2 L2133.0,1218.5 L2135.0,1218.9 L2137.0,1219.4 L2139.0,1219.9 L2141.0,1220.4 L2143.0,1221.0 L2145.0,1221.6 L2147.0,1222.3 L2149.0,1223.1 L2151.0,1223.8 L2153.0,1224.7 L2155.0,1225.5 L2157.0,1226.5 L2159.0,1227.4 L2161.0,1228.4 L2163.0,1229.5 L2165.0,1230.6 L2167.0,1231.7 L2169.0,1232.9 L2171.0,1234.1 L2173.0,1235.4 L2175.0,1236.7 L2177.0,1238.1 L2179.0,1239.5 L2181.0,1240.9 L2183.0,1242.4 L2185.0,1243.9 L2187.0,1245.5 L2189.0,1247.1 L2191.0,1248.7 L2193.0,1250.5 L2195.0,1252.2 L2197.0,1254.0 L2199.0,1255.9 L2201.0,1257.8 L2203.0,1259.8 L2205.0,1261.9 L2207.0,1264.0 L2209.0,1266.2 L2211.0,1268.5 L2213.0,1270.8 L2215.0,1273.2 L2217.0,1275.6 L2219.0,1278.2 L2221.0,1280.8 L2223.0,1283.5 L2225.0,1286.2 L2227.0,1289.1 L2229.0,1292.0 L2231.0,1294.9 L2233.0,1298.0 L2235.0,1301.0 L2237.0,1304.2 L2239.0,1307.4 L2241.0,1310.7 L2243.0,1314.0 L2245.0,1317.4 L2247.0,1320.8 L2249.0,1324.3 L2251.0,1327.8 L2253.0,1331.4 L2255.0,1335.1 L2257.0,1338.7 L2259.0,1342.4 L2261.0,1346.2 L2263.0,1350.0 L2265.0,1353.8 L2267.0,1357.7 L2269.0,1361.5 L2271.0,1365.4 L2273.0,1369.4 L2275.0,1373.3 L2277.0,1377.3 L2279.0,1381.3 L2281.0,1385.3 L2283.0,1389.3 L2285.0,1393.3 L2287.0,1397.3 L2289.0,1401.3 L2291.0,1405.3 L2293.0,1409.3 L2295.0,1413.3 L2297.0,1417.3 L2299.0,1421.3 L2301.0,1425.2 L2303.0,1429.2 L2305.0,1433.1 L2307.0,1437.0 L2309.0,1440.9 L2311.0,1444.7 L2313.0,1448.6 L2315.0,1452.3 L2317.0,1456.1 L2319.0,1459.8 L2321.0,1463.5 L2323.0,1467.1 L2325.0,1470.6" fill="none" stroke="#161212" stroke-opacity="1.0" stroke-width="2.1" stroke-linejoin="round" stroke-linecap="round" />
<path d="M1743.5,1594.0 L1743.0,1604.0 L1745.0,1603.5 L1747.0,1602.9 L1749.0,1602.3 L1751.0,1601.7 L1753.0,1601.1 L1755.0,1600.4 L1757.0,1599.7 L1759.0,1598.9 L1761.0,1598.1 L1763.0,1597.3 L1765.0,1596.4 L1767.0,1595.6 L1769.0,1594.7 L1771.0,1593.7 L1773.0,1592.8 L1775.0,1591.8 L1777.0,1590.8 L1779.0,1589.8 L1781.0,1588.7 L1783.0,1587.7 L1785.0,1586.6 L1787.0,1585.5 L1789.0,1584.4 L1791.0,1583.3 L1793.0,1582.2 L1795.0,1581.0 L1797.0,1579.9 L1799.0,1578.7 L1801.0,1577.5 L1803.0,1576.4 L1805.0,1575.2 L1807.0,1574.0 L1809.0,1572.8 L1811.0,1571.6 L1813.0,1570.5 L1815.0,1569.3 L1817.0,1568.1 L1819.0,1566.9 L1821.0,1565.7 L1823.0,1564.6 L1825.0,1563.4 L1827.0,1562.2 L1829.0,1561.0 L1831.0,1559.8 L1833.0,1558.6 L1835.0,1557.4 L1837.0,1556.2 L1839.0,1554.9 L1841.0,1553.7 L1843.0,1552.4 L1845.0,1551.2 L1847.0,1549.9 L1849.0,1548.6 L1851.0,1547.2 L1853.0,1545.9 L1855.0,1544.5 L1857.0,1543.1 L1859.0,1541.7 L1861.0,1540.2 L1863.0,1538.7 L1865.0,1537.2 L1867.0,1535.7 L1869.0,1534.1 L1871.0,1532.5 L1873.0,1530.9 L1875.0,1529.2 L1877.0,1527.5 L1879.0,1525.7 L1881.0,1523.9 L1883.0,1522.1 L1885.0,1520.2 L1887.0,1518.3 L1889.0,1516.3 L1891.0,1514.3 L1893.0,1512.2 L1895.0,1510.1 L1897.0,1507.9 L1899.0,1505.7 L1901.0,1503.4 L1903.0,1501.0 L1905.0,1498.6 L1907.0,1496.2 L1909.0,1493.7 L1911.0,1491.1 L1913.0,1488.4 L1915.0,1485.7 L1917.0,1483.0 L1919.0,1480.1 L1921.0,1477.2 L1923.0,1474.2 L1925.0,1471.2 L1927.0,1468.0 L1929.0,1464.8 L1931.0,1461.5 L1933.0,1458.1 L1935.0,1454.5 L1937.0,1450.8 L1939.0,1447.0 L1941.0,1443.0 L1943.0,1438.8 L1945.0,1434.3 L1947.0,1429.7 L1949.0,1424.9 L1951.0,1419.9 L1953.0,1414.6 L1955.0,1409.2 L1957.0,1403.5 L1959.0,1397.6 L1961.0,1391.5 L1963.0,1385.1 L1965.0,1378.6 L1967.0,1371.6 L1969.0,1364.3 L1971.0,1356.5 L1973.0,1348.2 L1975.0,1339.4 L1977.0,1330.1 L1979.0,1320.6 L1981.0,1310.8 L1983.0,1300.9 L1985.0,1291.0 L1987.0,1281.2 L1989.0,1271.4 L1991.0,1261.9 L1993.0,1252.6 L1995.0,1243.7 L1997.0,1235.2 L1999.0,1227.1 L2001.0,1219.7 L2003.0,1212.8 L2005.0,1206.5 L2007.0,1200.8 L2009.0,1195.8 L2011.0,1191.4 L2013.0,1187.8 L2015.0,1184.8 L2017.0,1182.6 L2019.0,1181.1 L2021.0,1180.3 L2023.0,1180.0 L2025.0,1180.3 L2027.0,1181.1 L2029.0,1182.3 L2031.0,1184.2 L2033.0,1186.8 L2035.0,1189.9 L2037.0,1193.1 L2039.0,1196.3 L2041.0,1199.5 L2043.0,1202.6 L2045.0,1205.7 L2047.0,1208.7 L2049.0,1211.5 L2051.0,1214.2 L2053.0,1216.6 L2055.0,1218.8 L2057.0,1220.7 L2059.0,1222.4 L2061.0,1223.8 L2063.0,1225.0 L2065.0,1225.9 L2067.0,1226.6 L2069.0,1227.1 L2071.0,1227.4 L2073.0,1227.5 L2075.0,1227.4 L2077.0,1227.1 L2079.0,1226.7 L2081.0,1226.1 L2083.0,1225.5 L2085.0,1224.8 L2087.0,1224.1 L2089.0,1223.4 L2091.0,1222.7 L2093.0,1222.0 L2095.0,1221.3 L2097.0,1220.7 L2099.0,1220.2 L2101.0,1219.7 L2103.0,1219.3 L2105.0,1218.9 L2107.0,1218.6 L2109.0,1218.4 L2111.0,1218.2 L2113.0,1218.0 L2115.0,1217.9 L2117.0,1217.9 L2119.0,1217.9 L2121.0,1217.9 L2123.0,1218.1 L2125.0,1218.2 L2127.0,1218.4 L2129.0,1218.7 L2131.0,1219.0 L2133.0,1219.4 L2135.0,1219.8 L2137.0,1220.3 L2139.0,1220.8 L2141.0,1221.4 L2143.0,1222.0 L2145.0,1222.6 L2147.0,1223.3 L2149.0,1224.1 L2151.0,1224.9 L2153.0,1225.8 L2155.0,1226.6 L2157.0,1227.6 L2159.0,1228.6 L2161.0,1229.6 L2163.0,1230.7 L2165.0,1231.8 L2167.0,1232.9 L2169.0,1234.1 L2171.0,1235.4 L2173.0,1236.7 L2175.0,1238.0 L2177.0,1239.4 L2179.0,1240.8 L2181.0,1242.2 L2183.0,1243.7 L2185.0,1245.2 L2187.0,1246.8 L2189.0,1248.4 L2191.0,1250.1 L2193.0,1251.8 L2195.0,1253.6 L2197.0,1255.4 L2199.0,1257.3 L2201.0,1259.3 L2203.0,1261.3 L2205.0,1263.3 L2207.0,1265.5 L2209.0,1267.6 L2211.0,1269.9 L2213.0,1272.2 L2215.0,1274.6 L2217.0,1277.1 L2219.0,1279.7 L2221.0,1282.3 L2223.0,1285.0 L2225.0,1287.7 L2227.0,1290.6 L2229.0,1293.5 L2231.0,1296.5 L2233.0,1299.5 L2235.0,1302.6 L2237.0,1305.8 L2239.0,1309.0 L2241.0,1312.3 L2243.0,1315.6 L2245.0,1319.0 L2247.0,1322.5 L2249.0,1326.0 L2251.0,1329.5 L2253.0,1333.1 L2255.0,1336.7 L2257.0,1340.4 L2259.0,1344.1 L2261.0,1347.9 L2263.0,1351.7 L2265.0,1355.5 L2267.0,1359.4 L2269.0,1363.3 L2271.0,1367.2 L2273.0,1371.2 L2275.0,1375.1 L2277.0,1379.1 L2279.0,1383.1 L2281.0,1387.1 L2283.0,1391.1 L2285.0,1395.2 L2287.0,1399.2 L2289.0,1403.2 L2291.0,1407.2 L2293.0,1411.3 L2295.0,1415.3 L2297.0,1419.3 L2299.0,1423.3 L2301.0,1427.3 L2303.0,1431.3 L2305.0,1435.2 L2307.0,1439.1 L2309.0,1443.0 L2311.0,1446.9 L2313.0,1450.8 L2315.0,1454.6 L2317.0,1458.4 L2319.0,1462.1 L2321.0,1465.8 L2323.0,1469.5 L2325.0,1473.1" fill="none" stroke="#161212" stroke-opacity="1.0" stroke-width="2.1" stroke-linejoin="round" stroke-linecap="round" />
<path d="M1743.5,1595.5 L1743.0,1605.5 L1745.0,1605.1 L1747.0,1604.5 L1749.0,1603.9 L1751.0,1603.3 L1753.0,1602.7 L1755.0,1602.0 L1757.0,1601.2 L1759.0,1600.5 L1761.0,1599.7 L1763.0,1598.9 L1765.0,1598.0 L1767.0,1597.1 L1769.0,1596.2 L1771.0,1595.3 L1773.0,1594.3 L1775.0,1593.3 L1777.0,1592.3 L1779.0,1591.3 L1781.0,1590.2 L1783.0,1589.2 L1785.0,1588.1 L1787.0,1587.0 L1789.0,1585.8 L1791.0,1584.7 L1793.0,1583.6 L1795.0,1582.4 L1797.0,1581.2 L1799.0,1580.1 L1801.0,1578.9 L1803.0,1577.7 L1805.0,1576.5 L1807.0,1575.3 L1809.0,1574.1 L1811.0,1572.9 L1813.0,1571.7 L1815.0,1570.5 L1817.0,1569.3 L1819.0,1568.1 L1821.0,1566.9 L1823.0,1565.7 L1825.0,1564.5 L1827.0,1563.3 L1829.0,1562.1 L1831.0,1560.9 L1833.0,1559.7 L1835.0,1558.5 L1837.0,1557.3 L1839.0,1556.0 L1841.0,1554.8 L1843.0,1553.5 L1845.0,1552.2 L1847.0,1550.9 L1849.0,1549.6 L1851.0,1548.3 L1853.0,1546.9 L1855.0,1545.5 L1857.0,1544.1 L1859.0,1542.7 L1861.0,1541.2 L1863.0,1539.8 L1865.0,1538.2 L1867.0,1536.7 L1869.0,1535.1 L1871.0,1533.5 L1873.0,1531.9 L1875.0,1530.2 L1877.0,1528.5 L1879.0,1526.8 L1881.0,1525.0 L1883.0,1523.1 L1885.0,1521.3 L1887.0,1519.3 L1889.0,1517.4 L1891.0,1515.4 L1893.0,1513.3 L1895.0,1511.2 L1897.0,1509.1 L1899.0,1506.8 L1901.0,1504.6 L1903.0,1502.3 L1905.0,1499.9 L1907.0,1497.4 L1909.0,1494.9 L1911.0,1492.4 L1913.0,1489.7 L1915.0,1487.0 L1917.0,1484.3 L1919.0,1481.4 L1921.0,1478.5 L1923.0,1475.5 L1925.0,1472.4 L1927.0,1469.3 L1929.0,1466.1 L1931.0,1462.7 L1933.0,1459.3 L1935.0,1455.7 L1937.0,1452.0 L1939.0,1448.1 L1941.0,1444.0 L1943.0,1439.7 L1945.0,1435.2 L1947.0,1430.5 L1949.0,1425.6 L1951.0,1420.4 L1953.0,1415.0 L1955.0,1409.4 L1957.0,1403.6 L1959.0,1397.6 L1961.0,1391.4 L1963.0,1384.9 L1965.0,1378.2 L1967.0,1371.2 L1969.0,1363.9 L1971.0,1356.2 L1973.0,1348.1 L1975.0,1339.6 L1977.0,1330.7 L1979.0,1321.7 L1981.0,1312.5 L1983.0,1303.3 L1985.0,1294.1 L1987.0,1285.1 L1989.0,1276.2 L1991.0,1267.5 L1993.0,1259.0 L1995.0,1251.0 L1997.0,1243.3 L1999.0,1236.0 L2001.0,1229.3 L2003.0,1223.1 L2005.0,1217.5 L2007.0,1212.4 L2009.0,1207.9 L2011.0,1203.9 L2013.0,1200.6 L2015.0,1197.9 L2017.0,1195.8 L2019.0,1194.3 L2021.0,1193.4 L2023.0,1193.0 L2025.0,1193.0 L2027.0,1193.4 L2029.0,1194.3 L2031.0,1195.6 L2033.0,1197.6 L2035.0,1199.9 L2037.0,1202.4 L2039.0,1204.8 L2041.0,1207.3 L2043.0,1209.7 L2045.0,1212.1 L2047.0,1214.3 L2049.0,1216.5 L2051.0,1218.5 L2053.0,1220.4 L2055.0,1222.0 L2057.0,1223.5 L2059.0,1224.7 L2061.0,1225.8 L2063.0,1226.6 L2065.0,1227.3 L2067.0,1227.7 L2069.0,1228.0 L2071.0,1228.2 L2073.0,1228.1 L2075.0,1227.9 L2077.0,1227.6 L2079.0,1227.1 L2081.0,1226.6 L2083.0,1226.0 L2085.0,1225.3 L2087.0,1224.6 L2089.0,1223.9 L2091.0,1223.2 L2093.0,1222.5 L2095.0,1221.9 L2097.0,1221.3 L2099.0,1220.8 L2101.0,1220.3 L2103.0,1219.9 L2105.0,1219.5 L2107.0,1219.2 L2109.0,1219.0 L2111.0,1218.8 L2113.0,1218.7 L2115.0,1218.6 L2117.0,1218.6 L2119.0,1218.6 L2121.0,1218.7 L2123.0,1218.8 L2125.0,1219.0 L2127.0,1219.3 L2129.0,1219.5 L2131.0,1219.9 L2133.0,1220.3 L2135.0,1220.7 L2137.0,1221.2 L2139.0,1221.7 L2141.0,1222.3 L2143.0,1223.0 L2145.0,1223.6 L2147.0,1224.4 L2149.0,1225.2 L2151.0,1226.0 L2153.0,1226.8 L2155.0,1227.8 L2157.0,1228.7 L2159.0,1229.7 L2161.0,1230.8 L2163.0,1231.9 L2165.0,1233.0 L2167.0,1234.2 L2169.0,1235.4 L2171.0,1236.6 L2173.0,1238.0 L2175.0,1239.3 L2177.0,1240.7 L2179.0,1242.1 L2181.0,1243.6 L2183.0,1245.1 L2185.0,1246.6 L2187.0,1248.2 L2189.0,1249.8 L2191.0,1251.5 L2193.0,1253.2 L2195.0,1255.0 L2197.0,1256.9 L2199.0,1258.8 L2201.0,1260.7 L2203.0,1262.7 L2205.0,1264.8 L2207.0,1266.9 L2209.0,1269.1 L2211.0,1271.4 L2213.0,1273.7 L2215.0,1276.1 L2217.0,1278.6 L2219.0,1281.1 L2221.0,1283.8 L2223.0,1286.5 L2225.0,1289.3 L2227.0,1292.1 L2229.0,1295.0 L2231.0,1298.0 L2233.0,1301.1 L2235.0,1304.2 L2237.0,1307.4 L2239.0,1310.6 L2241.0,1313.9 L2243.0,1317.2 L2245.0,1320.6 L2247.0,1324.1 L2249.0,1327.6 L2251.0,1331.2 L2253.0,1334.8 L2255.0,1338.4 L2257.0,1342.1 L2259.0,1345.9 L2261.0,1349.6 L2263.0,1353.5 L2265.0,1357.3 L2267.0,1361.2 L2269.0,1365.1 L2271.0,1369.0 L2273.0,1373.0 L2275.0,1376.9 L2277.0,1380.9 L2279.0,1385.0 L2281.0,1389.0 L2283.0,1393.0 L2285.0,1397.1 L2287.0,1401.1 L2289.0,1405.1 L2291.0,1409.2 L2293.0,1413.2 L2295.0,1417.3 L2297.0,1421.3 L2299.0,1425.3 L2301.0,1429.4 L2303.0,1433.4 L2305.0,1437.3 L2307.0,1441.3 L2309.0,1445.2 L2311.0,1449.1 L2313.0,1453.0 L2315.0,1456.9 L2317.0,1460.7 L2319.0,1464.5 L2321.0,1468.2 L2323.0,1471.9 L2325.0,1475.6" fill="none" stroke="#161212" stroke-opacity="1.0" stroke-width="2.1" stroke-linejoin="round" stroke-linecap="round" />
<path d="M1743.5,1597.1 L1743.0,1607.1 L1745.0,1606.6 L1747.0,1606.1 L1749.0,1605.5 L1751.0,1604.9 L1753.0,1604.2 L1755.0,1603.5 L1757.0,1602.8 L1759.0,1602.0 L1761.0,1601.2 L1763.0,1600.4 L1765.0,1599.6 L1767.0,1598.7 L1769.0,1597.7 L1771.0,1596.8 L1773.0,1595.8 L1775.0,1594.8 L1777.0,1593.8 L1779.0,1592.8 L1781.0,1591.7 L1783.0,1590.6 L1785.0,1589.5 L1787.0,1588.4 L1789.0,1587.3 L1791.0,1586.1 L1793.0,1585.0 L1795.0,1583.8 L1797.0,1582.6 L1799.0,1581.4 L1801.0,1580.2 L1803.0,1579.0 L1805.0,1577.8 L1807.0,1576.6 L1809.0,1575.4 L1811.0,1574.2 L1813.0,1573.0 L1815.0,1571.7 L1817.0,1570.5 L1819.0,1569.3 L1821.0,1568.1 L1823.0,1566.9 L1825.0,1565.7 L1827.0,1564.5 L1829.0,1563.3 L1831.0,1562.1 L1833.0,1560.8 L1835.0,1559.6 L1837.0,1558.4 L1839.0,1557.1 L1841.0,1555.8 L1843.0,1554.6 L1845.0,1553.3 L1847.0,1552.0 L1849.0,1550.6 L1851.0,1549.3 L1853.0,1547.9 L1855.0,1546.5 L1857.0,1545.1 L1859.0,1543.7 L1861.0,1542.2 L1863.0,1540.8 L1865.0,1539.2 L1867.0,1537.7 L1869.0,1536.1 L1871.0,1534.5 L1873.0,1532.9 L1875.0,1531.2 L1877.0,1529.5 L1879.0,1527.8 L1881.0,1526.0 L1883.0,1524.2 L1885.0,1522.3 L1887.0,1520.4 L1889.0,1518.5 L1891.0,1516.5 L1893.0,1514.4 L1895.0,1512.3 L1897.0,1510.2 L1899.0,1508.0 L1901.0,1505.8 L1903.0,1503.5 L1905.0,1501.1 L1907.0,1498.7 L1909.0,1496.2 L1911.0,1493.6 L1913.0,1491.0 L1915.0,1488.3 L1917.0,1485.5 L1919.0,1482.7 L1921.0,1479.8 L1923.0,1476.8 L1925.0,1473.7 L1927.0,1470.6 L1929.0,1467.3 L1931.0,1464.0 L1933.0,1460.5 L1935.0,1456.9 L1937.0,1453.1 L1939.0,1449.2 L1941.0,1445.0 L1943.0,1440.6 L1945.0,1436.1 L1947.0,1431.2 L1949.0,1426.2 L1951.0,1420.9 L1953.0,1415.4 L1955.0,1409.7 L1957.0,1403.8 L1959.0,1397.6 L1961.0,1391.2 L1963.0,1384.7 L1965.0,1377.9 L1967.0,1370.8 L1969.0,1363.5 L1971.0,1355.9 L1973.0,1348.0 L1975.0,1339.7 L1977.0,1331.3 L1979.0,1322.8 L1981.0,1314.2 L1983.0,1305.7 L1985.0,1297.2 L1987.0,1288.9 L1989.0,1280.8 L1991.0,1273.0 L1993.0,1265.4 L1995.0,1258.2 L1997.0,1251.3 L1999.0,1244.8 L2001.0,1238.9 L2003.0,1233.4 L2005.0,1228.4 L2007.0,1223.9 L2009.0,1219.8 L2011.0,1216.3 L2013.0,1213.3 L2015.0,1210.8 L2017.0,1208.8 L2019.0,1207.4 L2021.0,1206.4 L2023.0,1205.8 L2025.0,1205.6 L2027.0,1205.7 L2029.0,1206.1 L2031.0,1207.0 L2033.0,1208.3 L2035.0,1209.9 L2037.0,1211.6 L2039.0,1213.3 L2041.0,1215.0 L2043.0,1216.7 L2045.0,1218.3 L2047.0,1219.9 L2049.0,1221.4 L2051.0,1222.8 L2053.0,1224.1 L2055.0,1225.2 L2057.0,1226.2 L2059.0,1227.0 L2061.0,1227.7 L2063.0,1228.2 L2065.0,1228.6 L2067.0,1228.8 L2069.0,1228.9 L2071.0,1228.9 L2073.0,1228.7 L2075.0,1228.4 L2077.0,1228.1 L2079.0,1227.6 L2081.0,1227.0 L2083.0,1226.4 L2085.0,1225.7 L2087.0,1225.1 L2089.0,1224.4 L2091.0,1223.7 L2093.0,1223.0 L2095.0,1222.4 L2097.0,1221.8 L2099.0,1221.3 L2101.0,1220.9 L2103.0,1220.5 L2105.0,1220.1 L2107.0,1219.8 L2109.0,1219.6 L2111.0,1219.4 L2113.0,1219.3 L2115.0,1219.3 L2117.0,1219.3 L2119.0,1219.3 L2121.0,1219.4 L2123.0,1219.6 L2125.0,1219.8 L2127.0,1220.1 L2129.0,1220.4 L2131.0,1220.7 L2133.0,1221.1 L2135.0,1221.6 L2137.0,1222.1 L2139.0,1222.7 L2141.0,1223.3 L2143.0,1223.9 L2145.0,1224.6 L2147.0,1225.4 L2149.0,1226.2 L2151.0,1227.0 L2153.0,1227.9 L2155.0,1228.9 L2157.0,1229.8 L2159.0,1230.9 L2161.0,1231.9 L2163.0,1233.0 L2165.0,1234.2 L2167.0,1235.4 L2169.0,1236.6 L2171.0,1237.9 L2173.0,1239.2 L2175.0,1240.6 L2177.0,1242.0 L2179.0,1243.4 L2181.0,1244.9 L2183.0,1246.4 L2185.0,1248.0 L2187.0,1249.6 L2189.0,1251.2 L2191.0,1252.9 L2193.0,1254.6 L2195.0,1256.4 L2197.0,1258.3 L2199.0,1260.2 L2201.0,1262.1 L2203.0,1264.1 L2205.0,1266.2 L2207.0,1268.3 L2209.0,1270.5 L2211.0,1272.8 L2213.0,1275.2 L2215.0,1277.6 L2217.0,1280.1 L2219.0,1282.6 L2221.0,1285.3 L2223.0,1288.0 L2225.0,1290.8 L2227.0,1293.6 L2229.0,1296.6 L2231.0,1299.6 L2233.0,1302.6 L2235.0,1305.7 L2237.0,1308.9 L2239.0,1312.2 L2241.0,1315.5 L2243.0,1318.8 L2245.0,1322.3 L2247.0,1325.7 L2249.0,1329.3 L2251.0,1332.8 L2253.0,1336.4 L2255.0,1340.1 L2257.0,1343.8 L2259.0,1347.6 L2261.0,1351.4 L2263.0,1355.2 L2265.0,1359.0 L2267.0,1362.9 L2269.0,1366.8 L2271.0,1370.8 L2273.0,1374.8 L2275.0,1378.8 L2277.0,1382.8 L2279.0,1386.8 L2281.0,1390.8 L2283.0,1394.9 L2285.0,1398.9 L2287.0,1403.0 L2289.0,1407.1 L2291.0,1411.1 L2293.0,1415.2 L2295.0,1419.3 L2297.0,1423.3 L2299.0,1427.4 L2301.0,1431.4 L2303.0,1435.4 L2305.0,1439.4 L2307.0,1443.4 L2309.0,1447.4 L2311.0,1451.3 L2313.0,1455.2 L2315.0,1459.1 L2317.0,1463.0 L2319.0,1466.8 L2321.0,1470.6 L2323.0,1474.3 L2325.0,1478.0" fill="none" stroke="#161212" stroke-opacity="1.0" stroke-width="2.1" stroke-linejoin="round" stroke-linecap="round" />
<path d="M1743.5,1598.7 L1743.0,1608.7 L1745.0,1608.2 L1747.0,1607.7 L1749.0,1607.1 L1751.0,1606.5 L1753.0,1605.8 L1755.0,1605.1 L1757.0,1604.4 L1759.0,1603.6 L1761.0,1602.8 L1763.0,1602.0 L1765.0,1601.1 L1767.0,1600.2 L1769.0,1599.3 L1771.0,1598.3 L1773.0,1597.3 L1775.0,1596.3 L1777.0,1595.3 L1779.0,1594.3 L1781.0,1593.2 L1783.0,1592.1 L1785.0,1591.0 L1787.0,1589.8 L1789.0,1588.7 L1791.0,1587.5 L1793.0,1586.4 L1795.0,1585.2 L1797.0,1584.0 L1799.0,1582.8 L1801.0,1581.6 L1803.0,1580.4 L1805.0,1579.1 L1807.0,1577.9 L1809.0,1576.7 L1811.0,1575.4 L1813.0,1574.2 L1815.0,1573.0 L1817.0,1571.8 L1819.0,1570.5 L1821.0,1569.3 L1823.0,1568.1 L1825.0,1566.9 L1827.0,1565.6 L1829.0,1564.4 L1831.0,1563.2 L1833.0,1561.9 L1835.0,1560.7 L1837.0,1559.4 L1839.0,1558.2 L1841.0,1556.9 L1843.0,1555.6 L1845.0,1554.3 L1847.0,1553.0 L1849.0,1551.7 L1851.0,1550.3 L1853.0,1548.9 L1855.0,1547.6 L1857.0,1546.1 L1859.0,1544.7 L1861.0,1543.2 L1863.0,1541.8 L1865.0,1540.3 L1867.0,1538.7 L1869.0,1537.1 L1871.0,1535.5 L1873.0,1533.9 L1875.0,1532.2 L1877.0,1530.5 L1879.0,1528.8 L1881.0,1527.0 L1883.0,1525.2 L1885.0,1523.4 L1887.0,1521.5 L1889.0,1519.6 L1891.0,1517.6 L1893.0,1515.5 L1895.0,1513.5 L1897.0,1511.4 L1899.0,1509.2 L1901.0,1506.9 L1903.0,1504.7 L1905.0,1502.3 L1907.0,1499.9 L1909.0,1497.4 L1911.0,1494.9 L1913.0,1492.3 L1915.0,1489.6 L1917.0,1486.8 L1919.0,1484.0 L1921.0,1481.1 L1923.0,1478.1 L1925.0,1475.0 L1927.0,1471.9 L1929.0,1468.6 L1931.0,1465.2 L1933.0,1461.7 L1935.0,1458.1 L1937.0,1454.2 L1939.0,1450.2 L1941.0,1446.0 L1943.0,1441.6 L1945.0,1436.9 L1947.0,1432.0 L1949.0,1426.8 L1951.0,1421.4 L1953.0,1415.8 L1955.0,1410.0 L1957.0,1403.9 L1959.0,1397.6 L1961.0,1391.1 L1963.0,1384.4 L1965.0,1377.5 L1967.0,1370.4 L1969.0,1363.1 L1971.0,1355.6 L1973.0,1347.8 L1975.0,1339.9 L1977.0,1331.9 L1979.0,1323.9 L1981.0,1315.9 L1983.0,1308.1 L1985.0,1300.3 L1987.0,1292.8 L1989.0,1285.5 L1991.0,1278.5 L1993.0,1271.8 L1995.0,1265.4 L1997.0,1259.3 L1999.0,1253.7 L2001.0,1248.4 L2003.0,1243.6 L2005.0,1239.3 L2007.0,1235.3 L2009.0,1231.8 L2011.0,1228.7 L2013.0,1226.0 L2015.0,1223.7 L2017.0,1221.9 L2019.0,1220.4 L2021.0,1219.4 L2023.0,1218.6 L2025.0,1218.2 L2027.0,1217.9 L2029.0,1218.0 L2031.0,1218.3 L2033.0,1219.0 L2035.0,1219.8 L2037.0,1220.8 L2039.0,1221.7 L2041.0,1222.7 L2043.0,1223.7 L2045.0,1224.6 L2047.0,1225.5 L2049.0,1226.4 L2051.0,1227.2 L2053.0,1227.9 L2055.0,1228.5 L2057.0,1229.0 L2059.0,1229.4 L2061.0,1229.7 L2063.0,1229.9 L2065.0,1229.9 L2067.0,1229.9 L2069.0,1229.8 L2071.0,1229.7 L2073.0,1229.4 L2075.0,1229.0 L2077.0,1228.5 L2079.0,1228.0 L2081.0,1227.4 L2083.0,1226.8 L2085.0,1226.2 L2087.0,1225.5 L2089.0,1224.9 L2091.0,1224.2 L2093.0,1223.6 L2095.0,1223.0 L2097.0,1222.4 L2099.0,1221.9 L2101.0,1221.4 L2103.0,1221.0 L2105.0,1220.7 L2107.0,1220.4 L2109.0,1220.2 L2111.0,1220.1 L2113.0,1220.0 L2115.0,1220.0 L2117.0,1220.0 L2119.0,1220.0 L2121.0,1220.2 L2123.0,1220.3 L2125.0,1220.6 L2127.0,1220.9 L2129.0,1221.2 L2131.0,1221.6 L2133.0,1222.0 L2135.0,1222.5 L2137.0,1223.0 L2139.0,1223.6 L2141.0,1224.2 L2143.0,1224.9 L2145.0,1225.6 L2147.0,1226.4 L2149.0,1227.2 L2151.0,1228.1 L2153.0,1229.0 L2155.0,1230.0 L2157.0,1231.0 L2159.0,1232.0 L2161.0,1233.1 L2163.0,1234.2 L2165.0,1235.4 L2167.0,1236.6 L2169.0,1237.9 L2171.0,1239.2 L2173.0,1240.5 L2175.0,1241.9 L2177.0,1243.3 L2179.0,1244.7 L2181.0,1246.2 L2183.0,1247.8 L2185.0,1249.3 L2187.0,1250.9 L2189.0,1252.6 L2191.0,1254.3 L2193.0,1256.0 L2195.0,1257.8 L2197.0,1259.7 L2199.0,1261.6 L2201.0,1263.5 L2203.0,1265.6 L2205.0,1267.6 L2207.0,1269.8 L2209.0,1272.0 L2211.0,1274.3 L2213.0,1276.6 L2215.0,1279.0 L2217.0,1281.5 L2219.0,1284.1 L2221.0,1286.8 L2223.0,1289.5 L2225.0,1292.3 L2227.0,1295.1 L2229.0,1298.1 L2231.0,1301.1 L2233.0,1304.2 L2235.0,1307.3 L2237.0,1310.5 L2239.0,1313.8 L2241.0,1317.1 L2243.0,1320.4 L2245.0,1323.9 L2247.0,1327.4 L2249.0,1330.9 L2251.0,1334.5 L2253.0,1338.1 L2255.0,1341.8 L2257.0,1345.5 L2259.0,1349.3 L2261.0,1353.1 L2263.0,1356.9 L2265.0,1360.8 L2267.0,1364.7 L2269.0,1368.6 L2271.0,1372.6 L2273.0,1376.6 L2275.0,1380.6 L2277.0,1384.6 L2279.0,1388.6 L2281.0,1392.7 L2283.0,1396.7 L2285.0,1400.8 L2287.0,1404.9 L2289.0,1409.0 L2291.0,1413.1 L2293.0,1417.2 L2295.0,1421.2 L2297.0,1425.3 L2299.0,1429.4 L2301.0,1433.5 L2303.0,1437.5 L2305.0,1441.5 L2307.0,1445.5 L2309.0,1449.5 L2311.0,1453.5 L2313.0,1457.5 L2315.0,1461.4 L2317.0,1465.3 L2319.0,1469.1 L2321.0,1472.9 L2323.0,1476.7 L2325.0,1480.5" fill="none" stroke="#161212" stroke-opacity="1.0" stroke-width="2.1" stroke-linejoin="round" stroke-linecap="round" />
<path d="M1743.5,1600.2 L1743.0,1610.2 L1745.0,1609.8 L1747.0,1609.2 L1749.0,1608.7 L1751.0,1608.0 L1753.0,1607.4 L1755.0,1606.7 L1757.0,1606.0 L1759.0,1605.2 L1761.0,1604.4 L1763.0,1603.5 L1765.0,1602.7 L1767.0,1601.8 L1769.0,1600.8 L1771.0,1599.9 L1773.0,1598.9 L1775.0,1597.8 L1777.0,1596.8 L1779.0,1595.7 L1781.0,1594.7 L1783.0,1593.6 L1785.0,1592.4 L1787.0,1591.3 L1789.0,1590.1 L1791.0,1589.0 L1793.0,1587.8 L1795.0,1586.6 L1797.0,1585.4 L1799.0,1584.1 L1801.0,1582.9 L1803.0,1581.7 L1805.0,1580.4 L1807.0,1579.2 L1809.0,1577.9 L1811.0,1576.7 L1813.0,1575.5 L1815.0,1574.2 L1817.0,1573.0 L1819.0,1571.7 L1821.0,1570.5 L1823.0,1569.3 L1825.0,1568.0 L1827.0,1566.8 L1829.0,1565.6 L1831.0,1564.3 L1833.0,1563.1 L1835.0,1561.8 L1837.0,1560.5 L1839.0,1559.3 L1841.0,1558.0 L1843.0,1556.7 L1845.0,1555.4 L1847.0,1554.0 L1849.0,1552.7 L1851.0,1551.3 L1853.0,1550.0 L1855.0,1548.6 L1857.0,1547.2 L1859.0,1545.7 L1861.0,1544.3 L1863.0,1542.8 L1865.0,1541.3 L1867.0,1539.7 L1869.0,1538.1 L1871.0,1536.5 L1873.0,1534.9 L1875.0,1533.3 L1877.0,1531.6 L1879.0,1529.8 L1881.0,1528.1 L1883.0,1526.3 L1885.0,1524.4 L1887.0,1522.6 L1889.0,1520.6 L1891.0,1518.7 L1893.0,1516.7 L1895.0,1514.6 L1897.0,1512.5 L1899.0,1510.3 L1901.0,1508.1 L1903.0,1505.9 L1905.0,1503.5 L1907.0,1501.1 L1909.0,1498.7 L1911.0,1496.1 L1913.0,1493.5 L1915.0,1490.9 L1917.0,1488.1 L1919.0,1485.3 L1921.0,1482.4 L1923.0,1479.4 L1925.0,1476.3 L1927.0,1473.1 L1929.0,1469.9 L1931.0,1466.5 L1933.0,1462.9 L1935.0,1459.2 L1937.0,1455.4 L1939.0,1451.3 L1941.0,1447.0 L1943.0,1442.5 L1945.0,1437.8 L1947.0,1432.7 L1949.0,1427.5 L1951.0,1422.0 L1953.0,1416.2 L1955.0,1410.2 L1957.0,1404.0 L1959.0,1397.6 L1961.0,1391.0 L1963.0,1384.2 L1965.0,1377.2 L1967.0,1370.0 L1969.0,1362.7 L1971.0,1355.3 L1973.0,1347.7 L1975.0,1340.1 L1977.0,1332.5 L1979.0,1325.0 L1981.0,1317.6 L1983.0,1310.4 L1985.0,1303.4 L1987.0,1296.7 L1989.0,1290.2 L1991.0,1284.0 L1993.0,1278.1 L1995.0,1272.6 L1997.0,1267.3 L1999.0,1262.5 L2001.0,1258.0 L2003.0,1253.9 L2005.0,1250.2 L2007.0,1246.8 L2009.0,1243.8 L2011.0,1241.1 L2013.0,1238.7 L2015.0,1236.7 L2017.0,1235.0 L2019.0,1233.5 L2021.0,1232.4 L2023.0,1231.4 L2025.0,1230.7 L2027.0,1230.2 L2029.0,1229.8 L2031.0,1229.6 L2033.0,1229.7 L2035.0,1229.8 L2037.0,1230.0 L2039.0,1230.2 L2041.0,1230.4 L2043.0,1230.7 L2045.0,1230.9 L2047.0,1231.1 L2049.0,1231.3 L2051.0,1231.5 L2053.0,1231.6 L2055.0,1231.7 L2057.0,1231.7 L2059.0,1231.7 L2061.0,1231.6 L2063.0,1231.5 L2065.0,1231.3 L2067.0,1231.0 L2069.0,1230.7 L2071.0,1230.4 L2073.0,1230.0 L2075.0,1229.5 L2077.0,1229.0 L2079.0,1228.5 L2081.0,1227.9 L2083.0,1227.3 L2085.0,1226.7 L2087.0,1226.0 L2089.0,1225.4 L2091.0,1224.7 L2093.0,1224.1 L2095.0,1223.5 L2097.0,1222.9 L2099.0,1222.4 L2101.0,1222.0 L2103.0,1221.6 L2105.0,1221.3 L2107.0,1221.1 L2109.0,1220.9 L2111.0,1220.7 L2113.0,1220.7 L2115.0,1220.6 L2117.0,1220.7 L2119.0,1220.8 L2121.0,1220.9 L2123.0,1221.1 L2125.0,1221.3 L2127.0,1221.7 L2129.0,1222.0 L2131.0,1222.4 L2133.0,1222.9 L2135.0,1223.4 L2137.0,1223.9 L2139.0,1224.5 L2141.0,1225.2 L2143.0,1225.9 L2145.0,1226.6 L2147.0,1227.4 L2149.0,1228.3 L2151.0,1229.2 L2153.0,1230.1 L2155.0,1231.1 L2157.0,1232.1 L2159.0,1233.2 L2161.0,1234.3 L2163.0,1235.4 L2165.0,1236.6 L2167.0,1237.8 L2169.0,1239.1 L2171.0,1240.4 L2173.0,1241.8 L2175.0,1243.2 L2177.0,1244.6 L2179.0,1246.1 L2181.0,1247.6 L2183.0,1249.1 L2185.0,1250.7 L2187.0,1252.3 L2189.0,1254.0 L2191.0,1255.7 L2193.0,1257.4 L2195.0,1259.2 L2197.0,1261.1 L2199.0,1263.0 L2201.0,1265.0 L2203.0,1267.0 L2205.0,1269.1 L2207.0,1271.2 L2209.0,1273.4 L2211.0,1275.7 L2213.0,1278.1 L2215.0,1280.5 L2217.0,1283.0 L2219.0,1285.6 L2221.0,1288.2 L2223.0,1291.0 L2225.0,1293.8 L2227.0,1296.7 L2229.0,1299.6 L2231.0,1302.6 L2233.0,1305.7 L2235.0,1308.9 L2237.0,1312.1 L2239.0,1315.3 L2241.0,1318.7 L2243.0,1322.1 L2245.0,1325.5 L2247.0,1329.0 L2249.0,1332.5 L2251.0,1336.1 L2253.0,1339.8 L2255.0,1343.5 L2257.0,1347.2 L2259.0,1351.0 L2261.0,1354.8 L2263.0,1358.6 L2265.0,1362.5 L2267.0,1366.4 L2269.0,1370.4 L2271.0,1374.3 L2273.0,1378.3 L2275.0,1382.4 L2277.0,1386.4 L2279.0,1390.5 L2281.0,1394.5 L2283.0,1398.6 L2285.0,1402.7 L2287.0,1406.8 L2289.0,1410.9 L2291.0,1415.0 L2293.0,1419.1 L2295.0,1423.2 L2297.0,1427.3 L2299.0,1431.4 L2301.0,1435.5 L2303.0,1439.6 L2305.0,1443.6 L2307.0,1447.7 L2309.0,1451.7 L2311.0,1455.7 L2313.0,1459.7 L2315.0,1463.6 L2317.0,1467.5 L2319.0,1471.4 L2321.0,1475.3 L2323.0,1479.1 L2325.0,1482.9" fill="none" stroke="#161212" stroke-opacity="1.0" stroke-width="2.1" stroke-linejoin="round" stroke-linecap="round" />
<path d="M1743.5,1601.8 L1743.0,1611.8 L1745.0,1611.3 L1747.0,1610.8 L1749.0,1610.2 L1751.0,1609.6 L1753.0,1609.0 L1755.0,1608.3 L1757.0,1607.5 L1759.0,1606.8 L1761.0,1605.9 L1763.0,1605.1 L1765.0,1604.2 L1767.0,1603.3 L1769.0,1602.4 L1771.0,1601.4 L1773.0,1600.4 L1775.0,1599.4 L1777.0,1598.3 L1779.0,1597.2 L1781.0,1596.1 L1783.0,1595.0 L1785.0,1593.9 L1787.0,1592.7 L1789.0,1591.6 L1791.0,1590.4 L1793.0,1589.2 L1795.0,1587.9 L1797.0,1586.7 L1799.0,1585.5 L1801.0,1584.2 L1803.0,1583.0 L1805.0,1581.7 L1807.0,1580.5 L1809.0,1579.2 L1811.0,1578.0 L1813.0,1576.7 L1815.0,1575.4 L1817.0,1574.2 L1819.0,1572.9 L1821.0,1571.7 L1823.0,1570.4 L1825.0,1569.2 L1827.0,1567.9 L1829.0,1566.7 L1831.0,1565.4 L1833.0,1564.2 L1835.0,1562.9 L1837.0,1561.6 L1839.0,1560.3 L1841.0,1559.0 L1843.0,1557.7 L1845.0,1556.4 L1847.0,1555.1 L1849.0,1553.7 L1851.0,1552.4 L1853.0,1551.0 L1855.0,1549.6 L1857.0,1548.2 L1859.0,1546.7 L1861.0,1545.3 L1863.0,1543.8 L1865.0,1542.3 L1867.0,1540.7 L1869.0,1539.2 L1871.0,1537.6 L1873.0,1535.9 L1875.0,1534.3 L1877.0,1532.6 L1879.0,1530.9 L1881.0,1529.1 L1883.0,1527.3 L1885.0,1525.5 L1887.0,1523.6 L1889.0,1521.7 L1891.0,1519.8 L1893.0,1517.8 L1895.0,1515.7 L1897.0,1513.6 L1899.0,1511.5 L1901.0,1509.3 L1903.0,1507.1 L1905.0,1504.7 L1907.0,1502.4 L1909.0,1499.9 L1911.0,1497.4 L1913.0,1494.8 L1915.0,1492.1 L1917.0,1489.4 L1919.0,1486.6 L1921.0,1483.7 L1923.0,1480.7 L1925.0,1477.6 L1927.0,1474.4 L1929.0,1471.1 L1931.0,1467.7 L1933.0,1464.1 L1935.0,1460.4 L1937.0,1456.5 L1939.0,1452.4 L1941.0,1448.1 L1943.0,1443.5 L1945.0,1438.6 L1947.0,1433.5 L1949.0,1428.1 L1951.0,1422.5 L1953.0,1416.6 L1955.0,1410.5 L1957.0,1404.2 L1959.0,1397.6 L1961.0,1390.9 L1963.0,1383.9 L1965.0,1376.8 L1967.0,1369.6 L1969.0,1362.3 L1971.0,1354.9 L1973.0,1347.6 L1975.0,1340.3 L1977.0,1333.1 L1979.0,1326.1 L1981.0,1319.3 L1983.0,1312.8 L1985.0,1306.5 L1987.0,1300.6 L1989.0,1294.9 L1991.0,1289.5 L1993.0,1284.5 L1995.0,1279.8 L1997.0,1275.3 L1999.0,1271.3 L2001.0,1267.6 L2003.0,1264.2 L2005.0,1261.1 L2007.0,1258.3 L2009.0,1255.7 L2011.0,1253.5 L2013.0,1251.4 L2015.0,1249.6 L2017.0,1248.0 L2019.0,1246.6 L2021.0,1245.4 L2023.0,1244.3 L2025.0,1243.3 L2027.0,1242.4 L2029.0,1241.7 L2031.0,1241.0 L2033.0,1240.3 L2035.0,1239.8 L2037.0,1239.2 L2039.0,1238.7 L2041.0,1238.2 L2043.0,1237.7 L2045.0,1237.2 L2047.0,1236.7 L2049.0,1236.2 L2051.0,1235.8 L2053.0,1235.3 L2055.0,1234.9 L2057.0,1234.5 L2059.0,1234.0 L2061.0,1233.6 L2063.0,1233.1 L2065.0,1232.6 L2067.0,1232.1 L2069.0,1231.7 L2071.0,1231.1 L2073.0,1230.6 L2075.0,1230.1 L2077.0,1229.5 L2079.0,1228.9 L2081.0,1228.3 L2083.0,1227.7 L2085.0,1227.1 L2087.0,1226.5 L2089.0,1225.9 L2091.0,1225.2 L2093.0,1224.6 L2095.0,1224.0 L2097.0,1223.5 L2099.0,1223.0 L2101.0,1222.6 L2103.0,1222.2 L2105.0,1221.9 L2107.0,1221.7 L2109.0,1221.5 L2111.0,1221.4 L2113.0,1221.3 L2115.0,1221.3 L2117.0,1221.4 L2119.0,1221.5 L2121.0,1221.6 L2123.0,1221.9 L2125.0,1222.1 L2127.0,1222.4 L2129.0,1222.8 L2131.0,1223.3 L2133.0,1223.7 L2135.0,1224.3 L2137.0,1224.8 L2139.0,1225.5 L2141.0,1226.1 L2143.0,1226.9 L2145.0,1227.6 L2147.0,1228.5 L2149.0,1229.3 L2151.0,1230.2 L2153.0,1231.2 L2155.0,1232.2 L2157.0,1233.2 L2159.0,1234.3 L2161.0,1235.4 L2163.0,1236.6 L2165.0,1237.8 L2167.0,1239.1 L2169.0,1240.3 L2171.0,1241.7 L2173.0,1243.0 L2175.0,1244.4 L2177.0,1245.9 L2179.0,1247.4 L2181.0,1248.9 L2183.0,1250.4 L2185.0,1252.0 L2187.0,1253.7 L2189.0,1255.3 L2191.0,1257.0 L2193.0,1258.8 L2195.0,1260.6 L2197.0,1262.5 L2199.0,1264.4 L2201.0,1266.4 L2203.0,1268.4 L2205.0,1270.5 L2207.0,1272.7 L2209.0,1274.9 L2211.0,1277.2 L2213.0,1279.5 L2215.0,1282.0 L2217.0,1284.5 L2219.0,1287.1 L2221.0,1289.7 L2223.0,1292.5 L2225.0,1295.3 L2227.0,1298.2 L2229.0,1301.1 L2231.0,1304.2 L2233.0,1307.3 L2235.0,1310.4 L2237.0,1313.6 L2239.0,1316.9 L2241.0,1320.3 L2243.0,1323.7 L2245.0,1327.1 L2247.0,1330.6 L2249.0,1334.2 L2251.0,1337.8 L2253.0,1341.4 L2255.0,1345.1 L2257.0,1348.9 L2259.0,1352.7 L2261.0,1356.5 L2263.0,1360.4 L2265.0,1364.3 L2267.0,1368.2 L2269.0,1372.1 L2271.0,1376.1 L2273.0,1380.1 L2275.0,1384.2 L2277.0,1388.2 L2279.0,1392.3 L2281.0,1396.4 L2283.0,1400.5 L2285.0,1404.6 L2287.0,1408.7 L2289.0,1412.8 L2291.0,1416.9 L2293.0,1421.1 L2295.0,1425.2 L2297.0,1429.3 L2299.0,1433.4 L2301.0,1437.5 L2303.0,1441.6 L2305.0,1445.7 L2307.0,1449.8 L2309.0,1453.9 L2311.0,1457.9 L2313.0,1461.9 L2315.0,1465.9 L2317.0,1469.8 L2319.0,1473.8 L2321.0,1477.7 L2323.0,1481.5 L2325.0,1485.4" fill="none" stroke="#161212" stroke-opacity="1.0" stroke-width="2.1" stroke-linejoin="round" stroke-linecap="round" />
</g>
</svg></body></html>
